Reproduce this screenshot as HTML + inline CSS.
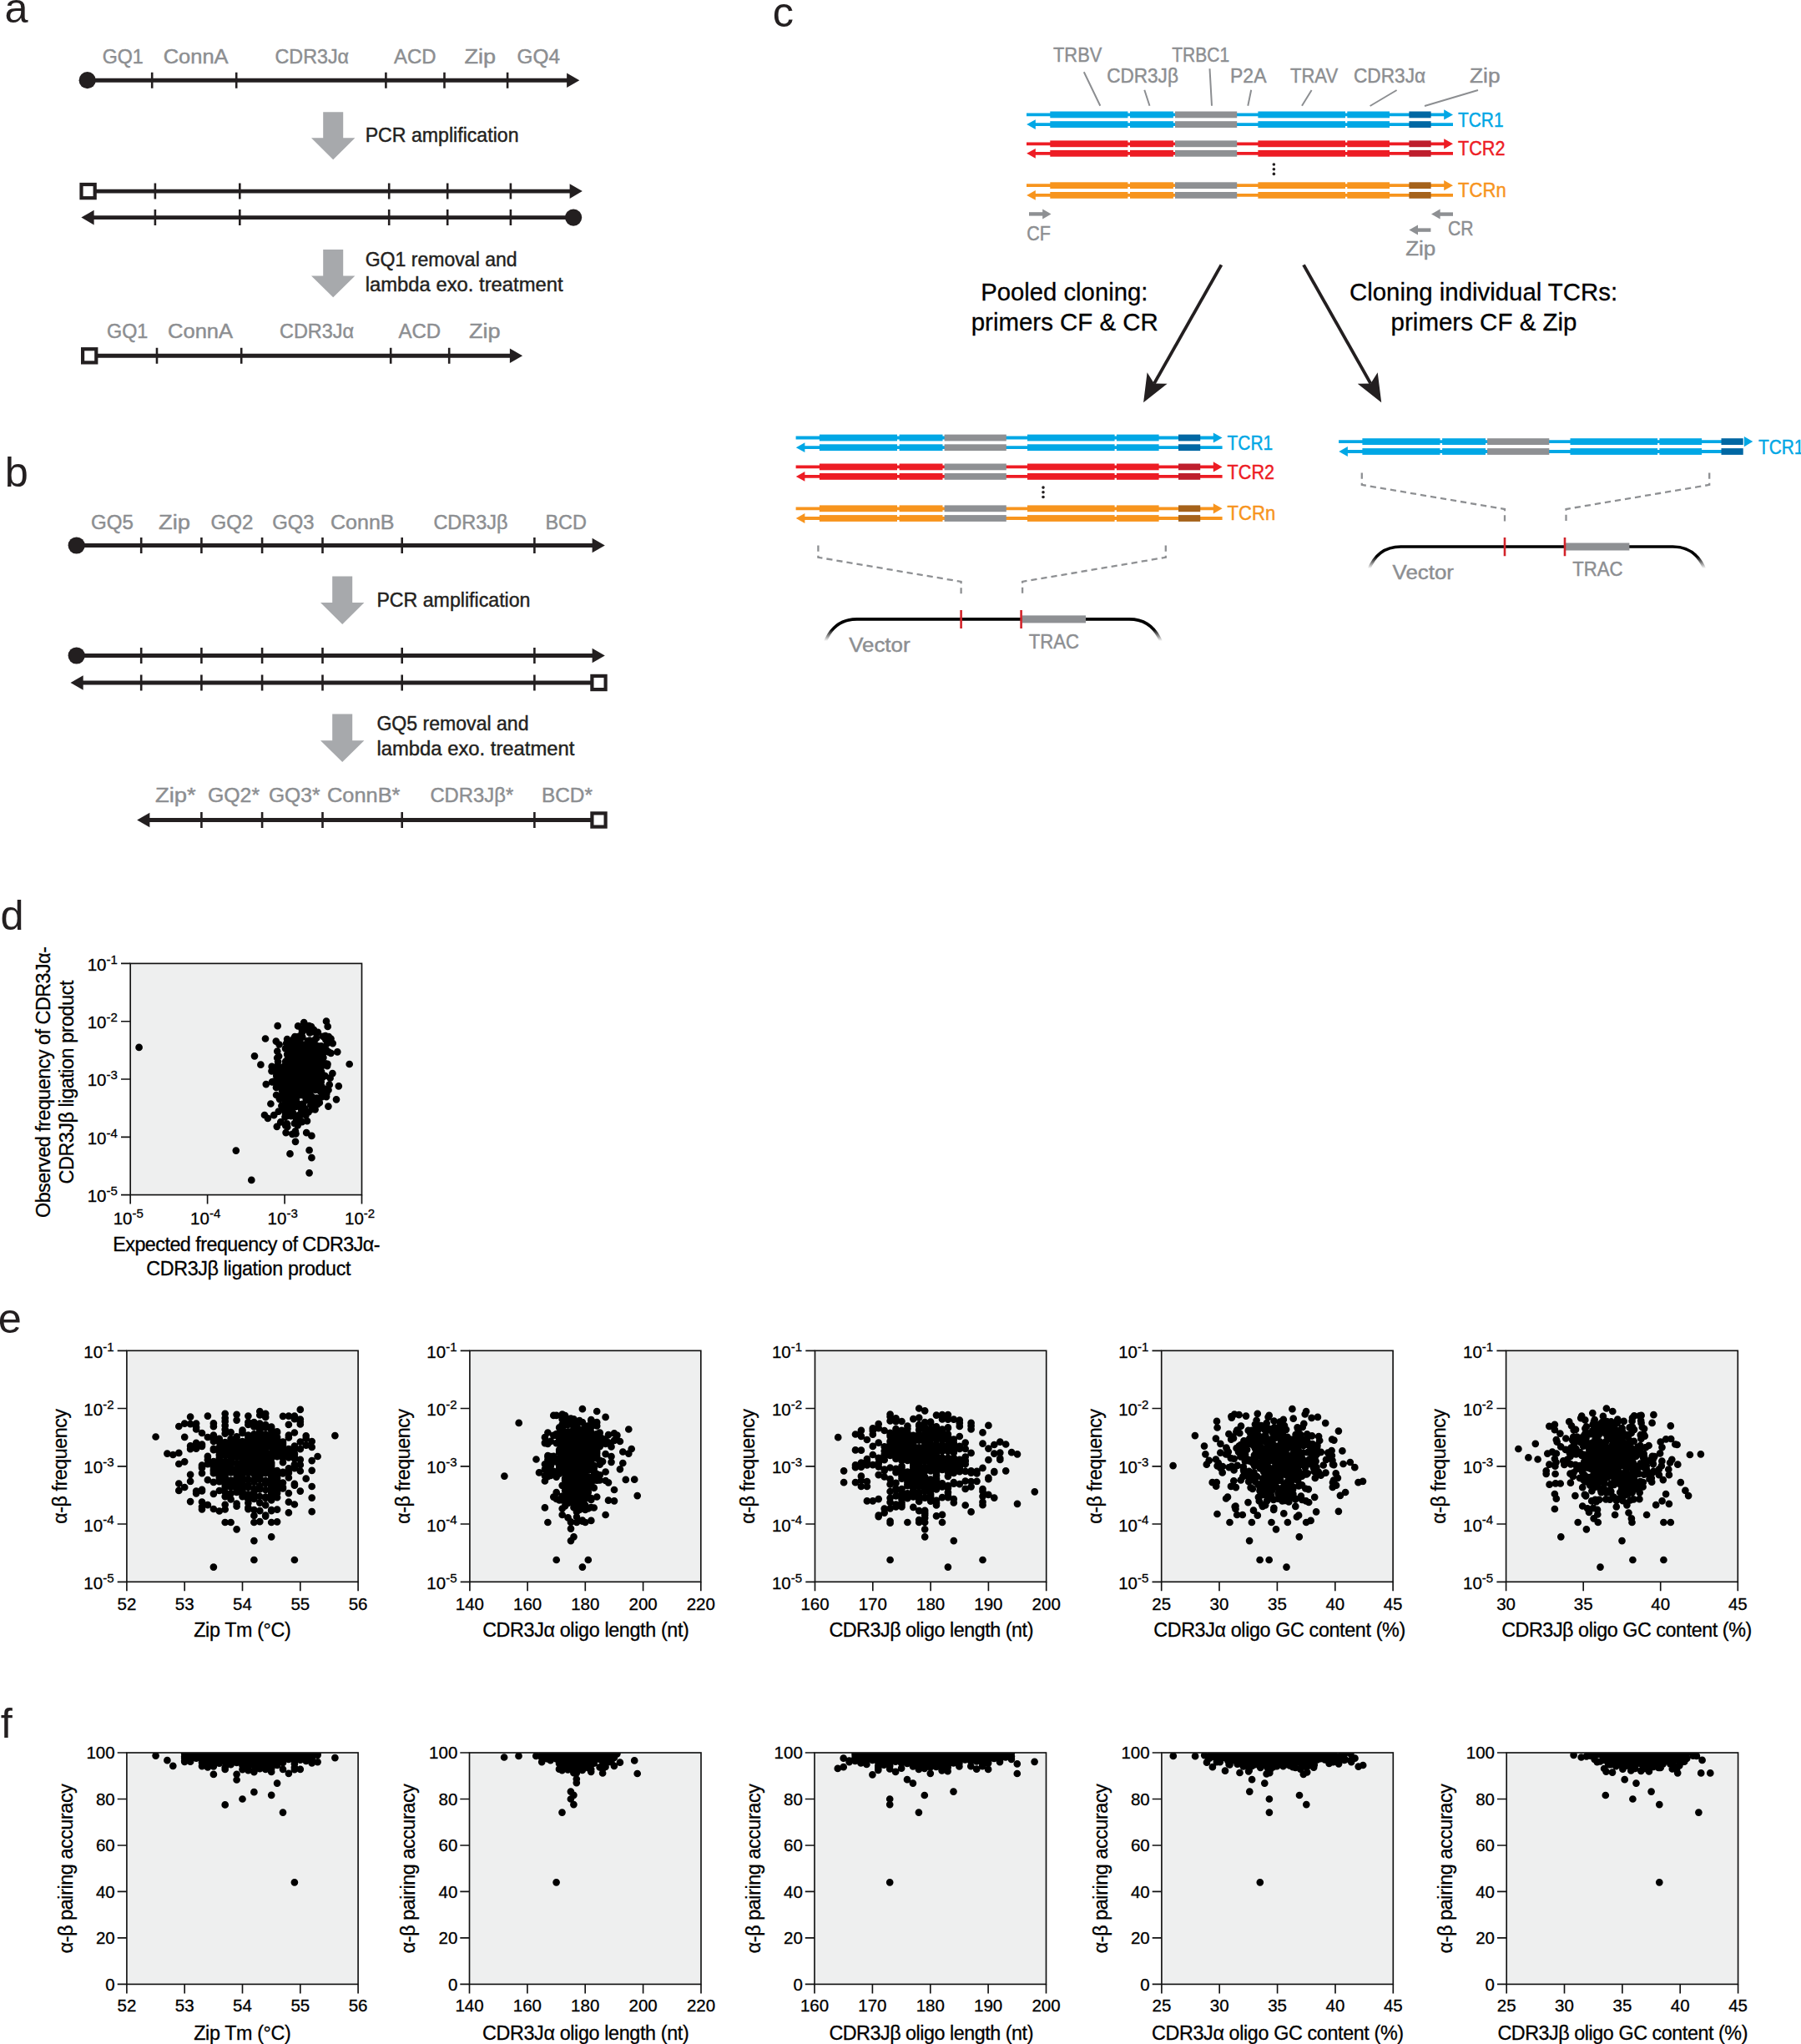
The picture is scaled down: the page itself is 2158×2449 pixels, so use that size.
<!DOCTYPE html>
<html lang="en"><head><meta charset="utf-8"><title>Figure</title>
<style>
html,body{margin:0;padding:0;background:#fff}
svg{display:block}
svg text{font-family:"Liberation Sans","DejaVu Sans",sans-serif;white-space:pre}
.pl text{stroke:#000;stroke-width:.3px}
</style></head><body>
<svg width="2158" height="2449" viewBox="0 0 2158 2449">
<rect width="2158" height="2449" fill="#fff"/>
<g id="panel-a">
<text x="5.6" y="26.5" font-size="50.5" fill="#231f20">a</text>
<text x="122.7" y="76.4" font-size="24.6" fill="#8c8e91" textLength="49.1" lengthAdjust="spacingAndGlyphs" stroke="#8c8e91" stroke-width="0.45">GQ1</text>
<text x="195.7" y="76.4" font-size="24.6" fill="#8c8e91" textLength="77.9" lengthAdjust="spacingAndGlyphs" stroke="#8c8e91" stroke-width="0.45">ConnA</text>
<text x="329.5" y="76.4" font-size="24.6" fill="#8c8e91" textLength="88.6" lengthAdjust="spacingAndGlyphs" stroke="#8c8e91" stroke-width="0.45">CDR3Jα</text>
<text x="472.0" y="76.4" font-size="24.6" fill="#8c8e91" textLength="50.5" lengthAdjust="spacingAndGlyphs" stroke="#8c8e91" stroke-width="0.45">ACD</text>
<text x="556.4" y="76.4" font-size="24.6" fill="#8c8e91" textLength="37.6" lengthAdjust="spacingAndGlyphs" stroke="#8c8e91" stroke-width="0.45">Zip</text>
<text x="619.6" y="76.4" font-size="24.6" fill="#8c8e91" textLength="51.3" lengthAdjust="spacingAndGlyphs" stroke="#8c8e91" stroke-width="0.45">GQ4</text>
<line x1="104.7" y1="96.2" x2="682.3" y2="96.2" stroke="#231f20" stroke-width="4.9"/>
<circle cx="104.7" cy="96.2" r="10.1" fill="#231f20"/>
<path d="M694.3 96.2L679.1 87.4L679.1 105.0Z" fill="#231f20"/>
<path d="M182.2 86.7v19M283.2 86.7v19M462.4 86.7v19M532.5 86.7v19M608.1 86.7v19" stroke="#231f20" stroke-width="2.6" fill="none"/>
<path d="M387.2 134.2h24v31.0h14.2L399.2 191.2L373.0 165.2h14.2Z" fill="#a7a9ac"/>
<text x="437.7" y="170.1" font-size="24.6" fill="#231f20" textLength="183.8" lengthAdjust="spacingAndGlyphs" stroke="#231f20" stroke-width="0.45">PCR amplification</text>
<line x1="113.6" y1="229.1" x2="685.8" y2="229.1" stroke="#231f20" stroke-width="4.9"/>
<rect x="97.5" y="221.0" width="16.2" height="16.2" fill="#fff" stroke="#231f20" stroke-width="4.2"/>
<path d="M697.8 229.1L682.6 220.3L682.6 237.9Z" fill="#231f20"/>
<path d="M185.9 219.6v19M287.3 219.6v19M466.2 219.6v19M536.2 219.6v19M611.9 219.6v19" stroke="#231f20" stroke-width="2.6" fill="none"/>
<line x1="109.4" y1="260.6" x2="687.1" y2="260.6" stroke="#231f20" stroke-width="4.9"/>
<path d="M97.4 260.6L112.6 251.8L112.6 269.4Z" fill="#231f20"/>
<circle cx="687.1" cy="260.6" r="10.1" fill="#231f20"/>
<path d="M185.9 251.1v19M287.3 251.1v19M466.2 251.1v19M536.2 251.1v19M611.9 251.1v19" stroke="#231f20" stroke-width="2.6" fill="none"/>
<path d="M387.2 299.0h24v31.5h14.2L399.2 356.2L373.0 330.5h14.2Z" fill="#a7a9ac"/>
<text x="437.7" y="318.9" font-size="24.6" fill="#231f20" textLength="182.0" lengthAdjust="spacingAndGlyphs" stroke="#231f20" stroke-width="0.45">GQ1 removal and</text>
<text x="437.7" y="348.9" font-size="24.6" fill="#231f20" textLength="237.0" lengthAdjust="spacingAndGlyphs" stroke="#231f20" stroke-width="0.45">lambda exo. treatment</text>
<text x="128.0" y="405.1" font-size="24.6" fill="#8c8e91" textLength="49.3" lengthAdjust="spacingAndGlyphs" stroke="#8c8e91" stroke-width="0.45">GQ1</text>
<text x="201.0" y="405.1" font-size="24.6" fill="#8c8e91" textLength="78.1" lengthAdjust="spacingAndGlyphs" stroke="#8c8e91" stroke-width="0.45">ConnA</text>
<text x="335.0" y="405.1" font-size="24.6" fill="#8c8e91" textLength="89.1" lengthAdjust="spacingAndGlyphs" stroke="#8c8e91" stroke-width="0.45">CDR3Jα</text>
<text x="477.4" y="405.1" font-size="24.6" fill="#8c8e91" textLength="50.7" lengthAdjust="spacingAndGlyphs" stroke="#8c8e91" stroke-width="0.45">ACD</text>
<text x="562.0" y="405.1" font-size="24.6" fill="#8c8e91" textLength="37.7" lengthAdjust="spacingAndGlyphs" stroke="#8c8e91" stroke-width="0.45">Zip</text>
<line x1="115.2" y1="426.3" x2="614.1" y2="426.3" stroke="#231f20" stroke-width="4.9"/>
<rect x="99.1" y="418.2" width="16.2" height="16.2" fill="#fff" stroke="#231f20" stroke-width="4.2"/>
<path d="M626.1 426.3L610.9 417.5L610.9 435.1Z" fill="#231f20"/>
<path d="M188.0 416.8v19M289.2 416.8v19M468.2 416.8v19M538.2 416.8v19" stroke="#231f20" stroke-width="2.6" fill="none"/>
</g>
<g id="panel-b">
<text x="5.7" y="583.2" font-size="50.5" fill="#231f20">b</text>
<text x="109.0" y="633.9" font-size="24.6" fill="#8c8e91" textLength="50.8" lengthAdjust="spacingAndGlyphs" stroke="#8c8e91" stroke-width="0.45">GQ5</text>
<text x="190.1" y="633.9" font-size="24.6" fill="#8c8e91" textLength="38.0" lengthAdjust="spacingAndGlyphs" stroke="#8c8e91" stroke-width="0.45">Zip</text>
<text x="252.6" y="633.9" font-size="24.6" fill="#8c8e91" textLength="50.8" lengthAdjust="spacingAndGlyphs" stroke="#8c8e91" stroke-width="0.45">GQ2</text>
<text x="326.3" y="633.9" font-size="24.6" fill="#8c8e91" textLength="50.3" lengthAdjust="spacingAndGlyphs" stroke="#8c8e91" stroke-width="0.45">GQ3</text>
<text x="396.0" y="633.9" font-size="24.6" fill="#8c8e91" textLength="76.5" lengthAdjust="spacingAndGlyphs" stroke="#8c8e91" stroke-width="0.45">ConnB</text>
<text x="519.4" y="633.9" font-size="24.6" fill="#8c8e91" textLength="89.1" lengthAdjust="spacingAndGlyphs" stroke="#8c8e91" stroke-width="0.45">CDR3Jβ</text>
<text x="653.4" y="633.9" font-size="24.6" fill="#8c8e91" textLength="49.5" lengthAdjust="spacingAndGlyphs" stroke="#8c8e91" stroke-width="0.45">BCD</text>
<line x1="91.7" y1="653.5" x2="712.8" y2="653.5" stroke="#231f20" stroke-width="4.9"/>
<circle cx="91.7" cy="653.5" r="10.1" fill="#231f20"/>
<path d="M724.8 653.5L709.6 644.7L709.6 662.3Z" fill="#231f20"/>
<path d="M169.2 644.0v19M241.4 644.0v19M314.1 644.0v19M386.5 644.0v19M481.7 644.0v19M640.4 644.0v19" stroke="#231f20" stroke-width="2.6" fill="none"/>
<path d="M398.2 690.4h24v31.5h14.2L410.2 747.9L384.0 721.9h14.2Z" fill="#a7a9ac"/>
<text x="451.4" y="726.8" font-size="24.6" fill="#231f20" textLength="184.1" lengthAdjust="spacingAndGlyphs" stroke="#231f20" stroke-width="0.45">PCR amplification</text>
<line x1="91.7" y1="785.5" x2="712.8" y2="785.5" stroke="#231f20" stroke-width="4.9"/>
<circle cx="91.7" cy="785.5" r="10.1" fill="#231f20"/>
<path d="M724.8 785.5L709.6 776.7L709.6 794.3Z" fill="#231f20"/>
<path d="M169.2 776.0v19M241.4 776.0v19M314.1 776.0v19M386.5 776.0v19M481.7 776.0v19M640.4 776.0v19" stroke="#231f20" stroke-width="2.6" fill="none"/>
<line x1="96.5" y1="818.0" x2="709.5" y2="818.0" stroke="#231f20" stroke-width="4.9"/>
<path d="M84.5 818.0L99.7 809.2L99.7 826.8Z" fill="#231f20"/>
<rect x="709.4" y="809.9" width="16.2" height="16.2" fill="#fff" stroke="#231f20" stroke-width="4.2"/>
<path d="M169.2 808.5v19M241.4 808.5v19M314.1 808.5v19M386.5 808.5v19M481.7 808.5v19M640.4 808.5v19" stroke="#231f20" stroke-width="2.6" fill="none"/>
<path d="M398.2 855.5h24v31.7h14.2L410.2 913.0L384.0 887.2h14.2Z" fill="#a7a9ac"/>
<text x="451.4" y="875.1" font-size="24.6" fill="#231f20" textLength="182.1" lengthAdjust="spacingAndGlyphs" stroke="#231f20" stroke-width="0.45">GQ5 removal and</text>
<text x="451.4" y="904.8" font-size="24.6" fill="#231f20" textLength="237.0" lengthAdjust="spacingAndGlyphs" stroke="#231f20" stroke-width="0.45">lambda exo. treatment</text>
<text x="186.0" y="961.4" font-size="24.6" fill="#8c8e91" textLength="48.8" lengthAdjust="spacingAndGlyphs" stroke="#8c8e91" stroke-width="0.45">Zip*</text>
<text x="249.0" y="961.4" font-size="24.6" fill="#8c8e91" textLength="62.1" lengthAdjust="spacingAndGlyphs" stroke="#8c8e91" stroke-width="0.45">GQ2*</text>
<text x="322.0" y="961.4" font-size="24.6" fill="#8c8e91" textLength="61.5" lengthAdjust="spacingAndGlyphs" stroke="#8c8e91" stroke-width="0.45">GQ3*</text>
<text x="392.0" y="961.4" font-size="24.6" fill="#8c8e91" textLength="87.5" lengthAdjust="spacingAndGlyphs" stroke="#8c8e91" stroke-width="0.45">ConnB*</text>
<text x="515.4" y="961.4" font-size="24.6" fill="#8c8e91" textLength="99.8" lengthAdjust="spacingAndGlyphs" stroke="#8c8e91" stroke-width="0.45">CDR3Jβ*</text>
<text x="648.9" y="961.4" font-size="24.6" fill="#8c8e91" textLength="61.0" lengthAdjust="spacingAndGlyphs" stroke="#8c8e91" stroke-width="0.45">BCD*</text>
<line x1="176.2" y1="982.5" x2="709.5" y2="982.5" stroke="#231f20" stroke-width="4.9"/>
<path d="M164.2 982.5L179.4 973.7L179.4 991.3Z" fill="#231f20"/>
<rect x="709.4" y="974.4" width="16.2" height="16.2" fill="#fff" stroke="#231f20" stroke-width="4.2"/>
<path d="M241.4 973.0v19M314.1 973.0v19M386.5 973.0v19M481.7 973.0v19M640.4 973.0v19" stroke="#231f20" stroke-width="2.6" fill="none"/>
</g>
<g id="panel-c">
<text x="925.8" y="32.4" font-size="50.5" fill="#231f20">c</text>
<text x="1262.0" y="74.1" font-size="24.6" fill="#8c8e91" textLength="58.3" lengthAdjust="spacingAndGlyphs" stroke="#8c8e91" stroke-width="0.45">TRBV</text>
<text x="1404.3" y="74.1" font-size="24.6" fill="#8c8e91" textLength="68.8" lengthAdjust="spacingAndGlyphs" stroke="#8c8e91" stroke-width="0.45">TRBC1</text>
<text x="1326.2" y="99.4" font-size="24.6" fill="#8c8e91" textLength="85.7" lengthAdjust="spacingAndGlyphs" stroke="#8c8e91" stroke-width="0.45">CDR3Jβ</text>
<text x="1474.0" y="99.4" font-size="24.6" fill="#8c8e91" textLength="43.5" lengthAdjust="spacingAndGlyphs" stroke="#8c8e91" stroke-width="0.45">P2A</text>
<text x="1546.0" y="99.4" font-size="24.6" fill="#8c8e91" textLength="57.1" lengthAdjust="spacingAndGlyphs" stroke="#8c8e91" stroke-width="0.45">TRAV</text>
<text x="1622.0" y="99.4" font-size="24.6" fill="#8c8e91" textLength="86.1" lengthAdjust="spacingAndGlyphs" stroke="#8c8e91" stroke-width="0.45">CDR3Jα</text>
<text x="1761.0" y="99.4" font-size="24.6" fill="#8c8e91" textLength="36.5" lengthAdjust="spacingAndGlyphs" stroke="#8c8e91" stroke-width="0.45">Zip</text>
<path d="M1298.8 86.2L1318.3 126.7M1371.3 107.8L1377.5 126.7M1449.5 82.3L1452.0 126.7M1499.2 107.8L1495.3 126.7M1571.6 108.0L1560.0 126.7M1673.6 108.0L1641.6 127.0M1771.0 108.0L1707.0 127.0" stroke="#8c8e91" stroke-width="2" fill="none"/>
<path d="M1230.0 137.4H1731.0M1240.0 149.1H1741.0" stroke="#00a7e5" stroke-width="3.8" fill="none"/>
<path d="M1741.0 137.4l-10.8 -6.1v12.2Z" fill="#00a7e5"/>
<path d="M1230.2 149.1l10.6 -5.9v11.8Z" fill="#00a7e5"/>
<rect x="1258.3" y="133.5" width="93.1" height="7.8" fill="#00a7e5"/>
<rect x="1258.3" y="145.2" width="93.1" height="7.8" fill="#00a7e5"/>
<rect x="1354.0" y="133.5" width="51.9" height="7.8" fill="#00a7e5"/>
<rect x="1354.0" y="145.2" width="51.9" height="7.8" fill="#00a7e5"/>
<rect x="1408.0" y="133.5" width="74.2" height="7.8" fill="#8e9093"/>
<rect x="1408.0" y="145.2" width="74.2" height="7.8" fill="#8e9093"/>
<rect x="1507.4" y="133.5" width="104.6" height="7.8" fill="#00a7e5"/>
<rect x="1507.4" y="145.2" width="104.6" height="7.8" fill="#00a7e5"/>
<rect x="1614.3" y="133.5" width="50.7" height="7.8" fill="#00a7e5"/>
<rect x="1614.3" y="145.2" width="50.7" height="7.8" fill="#00a7e5"/>
<rect x="1688.4" y="133.5" width="26.2" height="7.8" fill="#0067a3"/>
<rect x="1688.4" y="145.2" width="26.2" height="7.8" fill="#0067a3"/>
<text x="1747.0" y="151.6" font-size="24.6" fill="#00a7e5" textLength="54.5" lengthAdjust="spacingAndGlyphs" stroke="#00a7e5" stroke-width="0.45">TCR1</text>
<path d="M1230.0 172.3H1731.0M1240.0 183.8H1741.0" stroke="#ed1c24" stroke-width="3.8" fill="none"/>
<path d="M1741.0 172.3l-10.8 -6.1v12.2Z" fill="#ed1c24"/>
<path d="M1230.2 183.8l10.6 -5.9v11.8Z" fill="#ed1c24"/>
<rect x="1258.3" y="168.4" width="93.1" height="7.8" fill="#ed1c24"/>
<rect x="1258.3" y="179.9" width="93.1" height="7.8" fill="#ed1c24"/>
<rect x="1354.0" y="168.4" width="51.9" height="7.8" fill="#ed1c24"/>
<rect x="1354.0" y="179.9" width="51.9" height="7.8" fill="#ed1c24"/>
<rect x="1408.0" y="168.4" width="74.2" height="7.8" fill="#8e9093"/>
<rect x="1408.0" y="179.9" width="74.2" height="7.8" fill="#8e9093"/>
<rect x="1507.4" y="168.4" width="104.6" height="7.8" fill="#ed1c24"/>
<rect x="1507.4" y="179.9" width="104.6" height="7.8" fill="#ed1c24"/>
<rect x="1614.3" y="168.4" width="50.7" height="7.8" fill="#ed1c24"/>
<rect x="1614.3" y="179.9" width="50.7" height="7.8" fill="#ed1c24"/>
<rect x="1688.4" y="168.4" width="26.2" height="7.8" fill="#be1e2d"/>
<rect x="1688.4" y="179.9" width="26.2" height="7.8" fill="#be1e2d"/>
<text x="1747.0" y="186.4" font-size="24.6" fill="#ed1c24" textLength="56.5" lengthAdjust="spacingAndGlyphs" stroke="#ed1c24" stroke-width="0.45">TCR2</text>
<path d="M1230.0 222.2H1731.0M1240.0 233.9H1741.0" stroke="#f7941d" stroke-width="3.8" fill="none"/>
<path d="M1741.0 222.2l-10.8 -6.1v12.2Z" fill="#f7941d"/>
<path d="M1230.2 233.9l10.6 -5.9v11.8Z" fill="#f7941d"/>
<rect x="1258.3" y="218.3" width="93.1" height="7.8" fill="#f7941d"/>
<rect x="1258.3" y="230.0" width="93.1" height="7.8" fill="#f7941d"/>
<rect x="1354.0" y="218.3" width="51.9" height="7.8" fill="#f7941d"/>
<rect x="1354.0" y="230.0" width="51.9" height="7.8" fill="#f7941d"/>
<rect x="1408.0" y="218.3" width="74.2" height="7.8" fill="#8e9093"/>
<rect x="1408.0" y="230.0" width="74.2" height="7.8" fill="#8e9093"/>
<rect x="1507.4" y="218.3" width="104.6" height="7.8" fill="#f7941d"/>
<rect x="1507.4" y="230.0" width="104.6" height="7.8" fill="#f7941d"/>
<rect x="1614.3" y="218.3" width="50.7" height="7.8" fill="#f7941d"/>
<rect x="1614.3" y="230.0" width="50.7" height="7.8" fill="#f7941d"/>
<rect x="1688.4" y="218.3" width="26.2" height="7.8" fill="#a5621a"/>
<rect x="1688.4" y="230.0" width="26.2" height="7.8" fill="#a5621a"/>
<text x="1747.0" y="236.0" font-size="24.6" fill="#f7941d" textLength="57.7" lengthAdjust="spacingAndGlyphs" stroke="#f7941d" stroke-width="0.45">TCRn</text>
<circle cx="1526.4" cy="197.0" r="1.8" fill="#231f20"/>
<circle cx="1526.4" cy="202.7" r="1.8" fill="#231f20"/>
<circle cx="1526.4" cy="208.4" r="1.8" fill="#231f20"/>
<path d="M1233.0 256.4H1250.2" stroke="#8e9093" stroke-width="4.4" fill="none"/>
<path d="M1259.5 256.4L1249.2 250.4L1249.2 262.4Z" fill="#8e9093"/>
<path d="M1741.0 256.6H1724.6" stroke="#8e9093" stroke-width="4.4" fill="none"/>
<path d="M1715.0 256.6L1725.6 250.6L1725.6 262.6Z" fill="#8e9093"/>
<path d="M1714.4 275.6H1698.0" stroke="#8e9093" stroke-width="4.4" fill="none"/>
<path d="M1688.4 275.6L1699.0 269.6L1699.0 281.6Z" fill="#8e9093"/>
<text x="1230.2" y="288.1" font-size="24.6" fill="#8c8e91" textLength="28.7" lengthAdjust="spacingAndGlyphs" stroke="#8c8e91" stroke-width="0.45">CF</text>
<text x="1735.0" y="281.8" font-size="24.6" fill="#8c8e91" textLength="30.5" lengthAdjust="spacingAndGlyphs" stroke="#8c8e91" stroke-width="0.45">CR</text>
<text x="1684.2" y="306.3" font-size="24.6" fill="#8c8e91" textLength="36.1" lengthAdjust="spacingAndGlyphs" stroke="#8c8e91" stroke-width="0.45">Zip</text>
<path d="M1463.4 317.4L1382.9 459.6" stroke="#231f20" stroke-width="3.9" fill="none"/>
<path d="M1370.1 482.2L1374.6 446.2L1382.9 459.6L1398.6 459.8Z" fill="#231f20"/>
<path d="M1562.0 317.4L1642.4 459.6" stroke="#231f20" stroke-width="3.9" fill="none"/>
<path d="M1655.2 482.2L1626.7 459.8L1642.4 459.6L1650.7 446.2Z" fill="#231f20"/>
<text x="1175.2" y="360.0" font-size="29.2" fill="#000" textLength="200.2" lengthAdjust="spacingAndGlyphs" stroke="#000" stroke-width="0.30">Pooled cloning:</text>
<text x="1163.7" y="395.8" font-size="29.2" fill="#000" textLength="224.2" lengthAdjust="spacingAndGlyphs" stroke="#000" stroke-width="0.30">primers CF &amp; CR</text>
<text x="1617.0" y="360.0" font-size="29.2" fill="#000" textLength="321.1" lengthAdjust="spacingAndGlyphs" stroke="#000" stroke-width="0.30">Cloning individual TCRs:</text>
<text x="1666.6" y="395.8" font-size="29.2" fill="#000" textLength="222.9" lengthAdjust="spacingAndGlyphs" stroke="#000" stroke-width="0.30">primers CF &amp; Zip</text>
<path d="M953.6 524.5H1454.6M963.6 536.2H1464.6" stroke="#00a7e5" stroke-width="3.8" fill="none"/>
<path d="M1464.6 524.5l-10.8 -6.1v12.2Z" fill="#00a7e5"/>
<path d="M953.8 536.2l10.6 -5.9v11.8Z" fill="#00a7e5"/>
<rect x="981.9" y="520.6" width="93.1" height="7.8" fill="#00a7e5"/>
<rect x="981.9" y="532.3" width="93.1" height="7.8" fill="#00a7e5"/>
<rect x="1077.6" y="520.6" width="51.9" height="7.8" fill="#00a7e5"/>
<rect x="1077.6" y="532.3" width="51.9" height="7.8" fill="#00a7e5"/>
<rect x="1131.6" y="520.6" width="74.2" height="7.8" fill="#8e9093"/>
<rect x="1131.6" y="532.3" width="74.2" height="7.8" fill="#8e9093"/>
<rect x="1231.0" y="520.6" width="104.6" height="7.8" fill="#00a7e5"/>
<rect x="1231.0" y="532.3" width="104.6" height="7.8" fill="#00a7e5"/>
<rect x="1337.9" y="520.6" width="50.7" height="7.8" fill="#00a7e5"/>
<rect x="1337.9" y="532.3" width="50.7" height="7.8" fill="#00a7e5"/>
<rect x="1412.0" y="520.6" width="26.2" height="7.8" fill="#0067a3"/>
<rect x="1412.0" y="532.3" width="26.2" height="7.8" fill="#0067a3"/>
<text x="1470.6" y="538.7" font-size="24.6" fill="#00a7e5" textLength="54.5" lengthAdjust="spacingAndGlyphs" stroke="#00a7e5" stroke-width="0.45">TCR1</text>
<path d="M953.6 559.4H1454.6M963.6 570.9H1464.6" stroke="#ed1c24" stroke-width="3.8" fill="none"/>
<path d="M1464.6 559.4l-10.8 -6.1v12.2Z" fill="#ed1c24"/>
<path d="M953.8 570.9l10.6 -5.9v11.8Z" fill="#ed1c24"/>
<rect x="981.9" y="555.5" width="93.1" height="7.8" fill="#ed1c24"/>
<rect x="981.9" y="567.0" width="93.1" height="7.8" fill="#ed1c24"/>
<rect x="1077.6" y="555.5" width="51.9" height="7.8" fill="#ed1c24"/>
<rect x="1077.6" y="567.0" width="51.9" height="7.8" fill="#ed1c24"/>
<rect x="1131.6" y="555.5" width="74.2" height="7.8" fill="#8e9093"/>
<rect x="1131.6" y="567.0" width="74.2" height="7.8" fill="#8e9093"/>
<rect x="1231.0" y="555.5" width="104.6" height="7.8" fill="#ed1c24"/>
<rect x="1231.0" y="567.0" width="104.6" height="7.8" fill="#ed1c24"/>
<rect x="1337.9" y="555.5" width="50.7" height="7.8" fill="#ed1c24"/>
<rect x="1337.9" y="567.0" width="50.7" height="7.8" fill="#ed1c24"/>
<rect x="1412.0" y="555.5" width="26.2" height="7.8" fill="#be1e2d"/>
<rect x="1412.0" y="567.0" width="26.2" height="7.8" fill="#be1e2d"/>
<text x="1470.6" y="573.5" font-size="24.6" fill="#ed1c24" textLength="56.5" lengthAdjust="spacingAndGlyphs" stroke="#ed1c24" stroke-width="0.45">TCR2</text>
<path d="M953.6 609.3H1454.6M963.6 621.0H1464.6" stroke="#f7941d" stroke-width="3.8" fill="none"/>
<path d="M1464.6 609.3l-10.8 -6.1v12.2Z" fill="#f7941d"/>
<path d="M953.8 621.0l10.6 -5.9v11.8Z" fill="#f7941d"/>
<rect x="981.9" y="605.4" width="93.1" height="7.8" fill="#f7941d"/>
<rect x="981.9" y="617.1" width="93.1" height="7.8" fill="#f7941d"/>
<rect x="1077.6" y="605.4" width="51.9" height="7.8" fill="#f7941d"/>
<rect x="1077.6" y="617.1" width="51.9" height="7.8" fill="#f7941d"/>
<rect x="1131.6" y="605.4" width="74.2" height="7.8" fill="#8e9093"/>
<rect x="1131.6" y="617.1" width="74.2" height="7.8" fill="#8e9093"/>
<rect x="1231.0" y="605.4" width="104.6" height="7.8" fill="#f7941d"/>
<rect x="1231.0" y="617.1" width="104.6" height="7.8" fill="#f7941d"/>
<rect x="1337.9" y="605.4" width="50.7" height="7.8" fill="#f7941d"/>
<rect x="1337.9" y="617.1" width="50.7" height="7.8" fill="#f7941d"/>
<rect x="1412.0" y="605.4" width="26.2" height="7.8" fill="#a5621a"/>
<rect x="1412.0" y="617.1" width="26.2" height="7.8" fill="#a5621a"/>
<text x="1470.6" y="623.1" font-size="24.6" fill="#f7941d" textLength="57.7" lengthAdjust="spacingAndGlyphs" stroke="#f7941d" stroke-width="0.45">TCRn</text>
<circle cx="1250.0" cy="584.1" r="1.8" fill="#231f20"/>
<circle cx="1250.0" cy="589.8" r="1.8" fill="#231f20"/>
<circle cx="1250.0" cy="595.5" r="1.8" fill="#231f20"/>
<path d="M1604.1 529.1H2088.1M1614.1 541.0H2088.1" stroke="#00a7e5" stroke-width="3.8" fill="none"/>
<path d="M2100.3 529.1l-10.4 -6.1v12.2Z" fill="#00a7e5"/>
<path d="M1604.3 541.0l10.6 -5.9v11.8Z" fill="#00a7e5"/>
<rect x="1632.4" y="525.2" width="93.1" height="7.8" fill="#00a7e5"/>
<rect x="1632.4" y="537.1" width="93.1" height="7.8" fill="#00a7e5"/>
<rect x="1728.1" y="525.2" width="51.9" height="7.8" fill="#00a7e5"/>
<rect x="1728.1" y="537.1" width="51.9" height="7.8" fill="#00a7e5"/>
<rect x="1782.1" y="525.2" width="74.2" height="7.8" fill="#8e9093"/>
<rect x="1782.1" y="537.1" width="74.2" height="7.8" fill="#8e9093"/>
<rect x="1881.5" y="525.2" width="104.6" height="7.8" fill="#00a7e5"/>
<rect x="1881.5" y="537.1" width="104.6" height="7.8" fill="#00a7e5"/>
<rect x="1988.4" y="525.2" width="50.7" height="7.8" fill="#00a7e5"/>
<rect x="1988.4" y="537.1" width="50.7" height="7.8" fill="#00a7e5"/>
<rect x="2062.5" y="525.2" width="26.2" height="7.8" fill="#0067a3"/>
<rect x="2062.5" y="537.1" width="26.2" height="7.8" fill="#0067a3"/>
<text x="2106.9" y="543.7" font-size="24.6" fill="#00a7e5" textLength="54.5" lengthAdjust="spacingAndGlyphs" stroke="#00a7e5" stroke-width="0.45">TCR1</text>
<defs><linearGradient id="fade" gradientUnits="userSpaceOnUse" x1="0" y1="754" x2="0" y2="768"><stop offset="0" stop-color="#000"/><stop offset="1" stop-color="#000" stop-opacity="0"/></linearGradient>
<linearGradient id="fade2" gradientUnits="userSpaceOnUse" x1="0" y1="667" x2="0" y2="681"><stop offset="0" stop-color="#000"/><stop offset="1" stop-color="#000" stop-opacity="0"/></linearGradient></defs>
<g transform="translate(0.0 0.0)">
<path d="M980.4 653.5V667.8L1151.6 696.9V714M1396.8 653.5V667.8L1225.1 696.9V714" stroke="#8e9093" stroke-width="2.3" stroke-dasharray="7.2 5" fill="none"/>
</g>
<path d="M988.0 771.0C995.0 752.0 1008.0 741.9 1027.0 741.9H1353.0C1372.0 741.9 1385.0 752.0 1392.0 771.0" stroke="url(#fade)" stroke-width="3.7" fill="none"/>
<rect x="1224.5" y="737.4" width="76.5" height="9" fill="#8e9093"/>
<path d="M1151.6 730.9v22.2M1223.6 730.9v22.2" stroke="#d2232a" stroke-width="2.6" fill="none"/>
<text x="1017.2" y="781.2" font-size="24.6" fill="#8c8e91" textLength="73.4" lengthAdjust="spacingAndGlyphs" stroke="#8c8e91" stroke-width="0.45">Vector</text>
<text x="1232.8" y="776.9" font-size="24.6" fill="#8c8e91" textLength="60.3" lengthAdjust="spacingAndGlyphs" stroke="#8c8e91" stroke-width="0.45">TRAC</text>
<g transform="translate(651.4 -86.9)">
<path d="M980.4 653.5V667.8L1151.6 696.9V714M1396.8 653.5V667.8L1225.1 696.9V714" stroke="#8e9093" stroke-width="2.3" stroke-dasharray="7.2 5" fill="none"/>
</g>
<path d="M1639.4 684.1C1646.4 665.1 1659.4 655.0 1678.4 655.0H2004.4C2023.4 655.0 2036.4 665.1 2043.4 684.1" stroke="url(#fade2)" stroke-width="3.7" fill="none"/>
<rect x="1875.9" y="650.5" width="76.5" height="9" fill="#8e9093"/>
<path d="M1803.0 644.0v22.2M1875.0 644.0v22.2" stroke="#d2232a" stroke-width="2.6" fill="none"/>
<text x="1668.6" y="694.3" font-size="24.6" fill="#8c8e91" textLength="73.4" lengthAdjust="spacingAndGlyphs" stroke="#8c8e91" stroke-width="0.45">Vector</text>
<text x="1884.2" y="690.0" font-size="24.6" fill="#8c8e91" textLength="60.3" lengthAdjust="spacingAndGlyphs" stroke="#8c8e91" stroke-width="0.45">TRAC</text>
</g>
<g id="panel-d">
<text x="0.4" y="1113.9" font-size="50.5" fill="#231f20">d</text>
<g id="plot1" class="pl">
<rect x="156.2" y="1154.4" width="277.3" height="277.2" fill="#eeefef"/>
<path d="M386.4 1272.4h0M370.6 1302.1h0M354.8 1304.6h0M355.5 1294.2h0M359.3 1295.3h0M365.4 1270.9h0M349.2 1303.0h0M364.2 1262.5h0M381.2 1291.2h0M331.1 1312.0h0M363.6 1285.7h0M350.0 1273.1h0M354.5 1326.0h0M370.1 1293.3h0M360.9 1277.0h0M369.5 1291.8h0M335.1 1300.0h0M372.5 1300.0h0M348.0 1303.7h0M369.2 1282.6h0M364.0 1278.2h0M325.7 1277.9h0M343.0 1318.4h0M364.8 1276.9h0M392.7 1229.9h0M359.2 1309.8h0M367.6 1265.4h0M345.0 1262.8h0M384.3 1263.2h0M382.9 1296.7h0M359.3 1291.4h0M352.2 1309.5h0M337.7 1284.7h0M369.7 1298.3h0M394.7 1299.7h0M361.2 1329.5h0M378.2 1282.3h0M372.1 1262.6h0M345.7 1289.0h0M387.3 1241.8h0M342.5 1287.4h0M357.6 1282.8h0M359.5 1307.6h0M371.2 1290.9h0M370.2 1263.5h0M369.9 1263.2h0M355.9 1253.6h0M346.2 1265.3h0M363.8 1271.2h0M341.2 1330.6h0M338.5 1302.3h0M340.5 1295.4h0M356.8 1267.5h0M334.5 1285.0h0M345.1 1266.9h0M338.1 1281.8h0M358.4 1306.1h0M362.5 1301.2h0M390.0 1275.0h0M337.5 1294.6h0M341.8 1329.7h0M375.6 1270.8h0M362.4 1258.7h0M360.4 1261.0h0M388.8 1260.4h0M348.8 1318.2h0M352.3 1243.9h0M341.5 1286.7h0M361.0 1304.2h0M362.7 1293.4h0M338.2 1299.6h0M341.1 1311.7h0M367.8 1283.7h0M369.2 1279.5h0M350.6 1288.0h0M369.8 1279.6h0M367.6 1287.3h0M332.4 1300.0h0M353.5 1296.6h0M368.6 1271.4h0M346.0 1316.1h0M328.4 1295.6h0M360.9 1261.5h0M372.0 1278.1h0M385.4 1268.5h0M330.1 1283.4h0M391.3 1310.2h0M343.0 1292.5h0M374.3 1280.7h0M375.7 1292.5h0M365.1 1328.4h0M354.9 1321.6h0M348.5 1262.9h0M367.0 1293.9h0M356.0 1256.1h0M325.5 1283.3h0M404.3 1260.3h0M375.6 1256.8h0M393.9 1242.0h0M352.8 1258.3h0M376.7 1303.9h0M390.6 1242.8h0M367.2 1357.2h0M355.8 1305.2h0M348.7 1258.9h0M348.2 1332.5h0M330.9 1278.7h0M337.8 1278.9h0M354.9 1317.6h0M342.6 1304.1h0M352.5 1311.6h0M361.7 1269.7h0M384.7 1296.3h0M374.7 1302.0h0M356.6 1299.4h0M370.9 1315.0h0M343.4 1314.6h0M356.1 1282.1h0M366.6 1316.0h0M347.7 1261.3h0M357.7 1277.8h0M348.6 1251.0h0M351.8 1334.7h0M374.0 1329.0h0M347.3 1296.9h0M371.0 1246.6h0M342.9 1309.1h0M350.9 1251.6h0M344.3 1278.6h0M381.5 1278.9h0M387.8 1310.6h0M362.7 1305.9h0M347.8 1296.9h0M364.6 1311.5h0M356.5 1280.0h0M380.9 1236.9h0M362.9 1291.4h0M366.9 1270.4h0M370.8 1273.6h0M353.6 1277.8h0M354.2 1286.6h0M343.2 1250.2h0M355.0 1280.0h0M338.7 1293.7h0M350.1 1325.2h0M352.7 1255.8h0M365.9 1263.1h0M368.5 1274.5h0M340.5 1284.9h0M357.4 1242.1h0M347.8 1281.3h0M368.4 1295.7h0M387.4 1267.2h0M371.2 1288.5h0M356.0 1281.5h0M379.5 1289.6h0M339.1 1285.3h0M374.0 1319.6h0M347.8 1301.1h0M318.8 1299.1h0M391.1 1314.1h0M381.5 1287.7h0M347.8 1275.1h0M358.6 1304.6h0M368.3 1229.5h0M361.6 1284.9h0M342.2 1271.9h0M346.2 1307.4h0M363.1 1302.4h0M362.1 1290.4h0M380.6 1266.0h0M361.3 1284.7h0M387.0 1313.6h0M358.6 1242.9h0M360.1 1303.3h0M332.1 1292.4h0M342.8 1285.0h0M381.1 1272.4h0M347.9 1280.8h0M368.1 1281.9h0M369.7 1233.2h0M347.0 1278.4h0M358.3 1270.2h0M347.0 1315.0h0M357.9 1262.2h0M363.1 1322.5h0M366.8 1296.8h0M341.5 1338.3h0M348.3 1281.2h0M359.3 1308.6h0M354.0 1308.5h0M380.7 1253.3h0M395.6 1291.7h0M372.2 1283.1h0M359.0 1288.3h0M351.6 1315.9h0M348.3 1284.6h0M353.6 1254.8h0M343.3 1299.4h0M357.6 1270.1h0M360.4 1254.2h0M365.4 1310.1h0M359.7 1259.7h0M349.0 1327.2h0M347.3 1264.9h0M382.1 1289.4h0M362.6 1307.9h0M385.1 1284.2h0M369.0 1296.0h0M373.5 1321.5h0M362.6 1255.3h0M367.1 1299.8h0M393.5 1305.9h0M333.8 1331.6h0M374.8 1293.2h0M375.0 1328.4h0M360.6 1312.0h0M376.2 1257.8h0M378.9 1279.7h0M347.0 1304.2h0M364.4 1292.8h0M345.0 1299.3h0M350.5 1285.5h0M355.3 1265.2h0M362.2 1264.8h0M357.8 1306.9h0M367.9 1278.5h0M336.5 1302.4h0M380.7 1322.8h0M372.2 1306.8h0M371.2 1281.3h0M348.5 1317.9h0M356.2 1298.4h0M370.8 1270.4h0M363.4 1297.8h0M333.5 1298.7h0M366.8 1304.1h0M393.4 1325.6h0M333.3 1287.8h0M375.2 1280.6h0M366.7 1278.6h0M354.4 1305.8h0M368.0 1343.1h0M348.1 1261.2h0M358.7 1303.8h0M380.2 1288.7h0M344.3 1350.2h0M349.8 1306.7h0M357.4 1306.7h0M347.3 1317.4h0M390.1 1245.3h0M346.2 1289.9h0M364.2 1327.1h0M343.2 1280.6h0M370.2 1282.2h0M359.3 1281.5h0M330.8 1247.6h0M360.4 1283.3h0M345.6 1281.5h0M343.3 1337.5h0M377.9 1305.9h0M344.7 1282.4h0M345.1 1284.4h0M377.0 1303.5h0M360.1 1293.5h0M383.1 1279.9h0M366.1 1278.2h0M345.5 1295.2h0M349.9 1331.6h0M379.5 1276.1h0M372.5 1290.4h0M356.3 1304.2h0M351.1 1333.6h0M353.6 1309.9h0M345.1 1319.1h0M386.5 1290.8h0M353.0 1321.4h0M346.3 1273.8h0M356.3 1270.3h0M370.2 1286.3h0M372.5 1269.1h0M351.7 1317.6h0M357.5 1250.7h0M362.7 1274.0h0M342.0 1256.3h0M335.2 1317.1h0M369.4 1295.7h0M352.5 1289.1h0M375.2 1236.2h0M378.0 1282.4h0M356.7 1348.3h0M363.6 1269.2h0M392.1 1277.1h0M366.8 1299.1h0M359.8 1261.6h0M377.0 1253.1h0M365.4 1287.6h0M344.0 1304.8h0M365.1 1265.3h0M351.6 1315.7h0M331.3 1288.9h0M354.4 1301.4h0M355.5 1288.2h0M356.8 1270.3h0M337.6 1280.2h0M342.3 1348.7h0M363.3 1266.3h0M371.1 1237.4h0M337.8 1315.6h0M374.1 1260.2h0M343.6 1280.8h0M367.8 1231.0h0M379.5 1281.0h0M358.0 1246.3h0M361.2 1243.2h0M375.5 1284.5h0M350.5 1305.8h0M349.4 1317.5h0M366.0 1271.4h0M368.5 1317.8h0M332.2 1267.5h0M347.0 1291.7h0M345.6 1285.8h0M341.2 1302.6h0M350.0 1274.7h0M352.6 1263.0h0M360.9 1302.9h0M346.8 1288.6h0M364.0 1274.5h0M363.7 1295.6h0M347.4 1296.9h0M373.0 1230.0h0M376.9 1317.6h0M365.1 1282.9h0M344.1 1319.7h0M356.1 1300.5h0M341.0 1315.7h0M361.2 1298.8h0M374.5 1274.5h0M339.7 1329.1h0M353.8 1302.0h0M371.8 1305.4h0M354.0 1280.5h0M362.1 1288.6h0M350.2 1262.4h0M344.4 1305.7h0M353.4 1282.6h0M389.5 1289.0h0M358.0 1267.5h0M351.3 1292.5h0M361.9 1237.2h0M362.3 1262.8h0M366.7 1297.8h0M362.8 1284.7h0M384.1 1307.9h0M355.7 1322.0h0M377.5 1298.3h0M362.0 1294.9h0M358.0 1337.5h0M342.4 1273.5h0M369.3 1230.4h0M351.2 1324.8h0M351.8 1309.9h0M331.7 1277.8h0M375.1 1271.3h0M357.3 1272.4h0M353.5 1287.7h0M354.9 1293.3h0M342.6 1357.1h0M376.0 1233.8h0M350.1 1246.9h0M344.9 1296.7h0M364.9 1281.2h0M361.7 1287.1h0M353.8 1290.7h0M347.8 1306.9h0M348.4 1285.8h0M363.9 1262.2h0M376.5 1285.0h0M347.8 1273.1h0M390.0 1241.1h0M373.3 1277.8h0M362.3 1242.7h0M360.8 1336.0h0M344.2 1263.3h0M344.1 1245.0h0M338.0 1306.5h0M352.2 1296.4h0M352.1 1302.8h0M352.2 1289.1h0M359.3 1296.0h0M333.1 1272.0h0M367.0 1284.8h0M337.7 1298.7h0M345.9 1310.2h0M352.2 1295.9h0M344.9 1281.1h0M345.6 1262.4h0M349.0 1270.9h0M364.2 1264.1h0M375.5 1249.0h0M371.0 1270.1h0M340.1 1316.2h0M348.9 1286.3h0M341.6 1313.7h0M367.9 1277.2h0M324.4 1322.5h0M377.9 1282.1h0M354.9 1277.5h0M344.1 1310.6h0M365.7 1280.8h0M373.2 1291.4h0M369.8 1260.3h0M373.3 1291.9h0M358.1 1304.2h0M375.8 1291.7h0M371.2 1315.9h0M360.5 1276.1h0M372.3 1324.1h0M367.4 1259.9h0M362.0 1281.8h0M342.6 1309.0h0M343.8 1346.4h0M379.2 1243.7h0M339.3 1298.0h0M374.9 1256.4h0M365.2 1283.8h0M368.8 1260.7h0M330.2 1281.9h0M356.3 1296.9h0M354.5 1358.3h0M342.2 1321.8h0M369.0 1247.0h0M332.3 1259.6h0M374.8 1258.2h0M346.7 1306.0h0M374.0 1276.0h0M331.0 1303.0h0M373.1 1268.4h0M355.7 1290.7h0M371.0 1286.8h0M339.3 1324.9h0M344.1 1322.5h0M387.4 1304.0h0M353.0 1263.2h0M352.3 1275.3h0M363.0 1251.5h0M357.1 1229.4h0M381.4 1261.4h0M385.6 1277.3h0M344.8 1312.7h0M337.0 1281.1h0M378.4 1275.2h0M377.9 1272.9h0M372.7 1278.9h0M366.6 1333.0h0M353.6 1257.4h0M351.0 1319.0h0M347.2 1254.0h0M338.0 1297.5h0M376.3 1272.1h0M357.8 1250.2h0M398.7 1250.1h0M356.7 1307.3h0M351.8 1282.3h0M370.4 1288.8h0M392.1 1250.1h0M369.9 1269.7h0M341.1 1295.9h0M357.7 1322.8h0M369.7 1332.3h0M354.5 1279.1h0M348.3 1290.5h0M376.3 1274.5h0M369.1 1249.8h0M349.9 1259.7h0M365.2 1233.5h0M340.9 1328.6h0M368.6 1263.3h0M366.4 1261.5h0M379.4 1268.5h0M362.2 1323.7h0M328.2 1336.2h0M361.7 1305.6h0M372.5 1285.5h0M369.4 1270.5h0M370.9 1302.6h0M353.4 1280.5h0M347.2 1283.7h0M373.4 1283.4h0M346.5 1279.4h0M334.1 1265.5h0M373.7 1288.4h0M342.0 1325.4h0M352.4 1302.3h0M339.8 1289.8h0M338.7 1300.4h0M347.1 1270.1h0M366.3 1229.4h0M375.2 1235.5h0M326.0 1296.4h0M373.8 1269.0h0M345.0 1278.6h0M337.4 1325.0h0M359.5 1335.2h0M348.7 1337.2h0M338.8 1285.3h0M379.6 1315.6h0M336.3 1344.3h0M359.8 1304.0h0M358.7 1306.2h0M373.9 1314.1h0M353.3 1287.8h0M378.0 1265.6h0M351.9 1275.0h0M371.9 1304.1h0M349.4 1286.0h0M355.9 1280.9h0M377.6 1329.3h0M370.0 1257.8h0M358.7 1299.6h0M385.4 1314.3h0M360.6 1307.5h0M347.8 1289.9h0M367.3 1300.3h0M349.2 1257.8h0M374.9 1289.2h0M370.2 1318.5h0M342.1 1335.2h0M361.8 1233.2h0M357.9 1308.6h0M367.1 1250.9h0M342.9 1303.6h0M353.9 1355.4h0M320.9 1339.8h0M353.8 1286.6h0M356.4 1275.7h0M356.3 1285.2h0M361.9 1297.7h0M345.2 1274.3h0M366.1 1295.8h0M360.4 1271.1h0M352.2 1279.7h0M334.9 1316.3h0M338.8 1309.4h0M365.1 1285.0h0M346.7 1285.1h0M365.8 1261.2h0M373.7 1290.8h0M375.2 1281.1h0M381.9 1284.3h0M358.9 1270.7h0M347.9 1270.9h0M374.7 1283.0h0M369.3 1260.9h0M373.9 1294.2h0M357.6 1298.5h0M366.5 1336.2h0M369.3 1297.7h0M367.2 1299.3h0M364.5 1298.1h0M366.5 1280.8h0M367.6 1263.7h0M360.5 1298.8h0M376.5 1271.9h0M351.5 1292.6h0M385.9 1276.4h0M353.8 1309.3h0M362.0 1344.1h0M355.2 1303.5h0M358.2 1277.4h0M385.1 1301.1h0M356.1 1283.9h0M348.7 1253.7h0M347.2 1300.3h0M352.1 1302.9h0M382.8 1321.2h0M362.2 1289.1h0M376.6 1267.3h0M346.0 1286.1h0M352.8 1346.0h0M371.6 1274.4h0M382.1 1300.0h0M351.5 1280.0h0M360.2 1326.7h0M361.1 1301.2h0M348.1 1274.2h0M365.4 1257.5h0M362.1 1256.8h0M334.6 1251.5h0M368.7 1283.5h0M372.8 1259.2h0M356.1 1274.6h0M340.8 1289.0h0M378.8 1294.3h0M360.4 1302.1h0M379.7 1257.7h0M380.3 1281.8h0M349.8 1300.6h0M371.2 1286.0h0M356.7 1285.7h0M352.8 1317.2h0M352.7 1316.2h0M358.1 1295.0h0M369.0 1317.8h0M369.2 1248.4h0M355.7 1296.7h0M358.8 1272.7h0M371.8 1250.3h0M354.7 1250.3h0M348.5 1308.4h0M359.8 1283.1h0M351.4 1289.4h0M357.7 1288.8h0M359.9 1243.8h0M390.1 1274.4h0M384.9 1253.3h0M355.1 1341.1h0M358.1 1291.2h0M392.5 1274.9h0M363.2 1291.9h0M370.1 1229.2h0M359.2 1310.6h0M367.5 1269.2h0M384.7 1260.1h0M356.3 1302.9h0M394.1 1260.6h0M350.6 1271.6h0M377.7 1245.3h0M346.6 1283.0h0M390.8 1257.5h0M349.5 1315.3h0M357.7 1293.2h0M376.9 1265.3h0M371.9 1313.4h0M353.3 1242.0h0M349.0 1316.9h0M334.7 1315.7h0M358.8 1301.0h0M353.7 1309.9h0M166.6 1254.9h0M282.8 1378.6h0M301.3 1413.9h0M347.5 1382.4h0M370.6 1378.2h0M373.4 1387.2h0M370.6 1405.3h0M418.7 1275.0h0M405.8 1301.3h0M403.0 1317.3h0M305.0 1265.3h0M312.4 1275.7h0M332.7 1229.2h0M391.0 1223.7h0M364.2 1225.1h0M318.0 1244.5h0M354.0 1367.8h0M396.5 1244.5h0M317.0 1336.0h0M331.8 1349.8h0M350.3 1358.8h0M373.4 1360.9h0M396.5 1261.8h0M398.4 1286.1h0" stroke="#000" stroke-width="8.7" stroke-linecap="round" fill="none"/>
<rect x="156.2" y="1154.4" width="277.3" height="277.2" fill="none" stroke="#111" stroke-width="1.65"/>
<path d="M156.2 1431.6v11M248.6 1431.6v11M341.1 1431.6v11M433.5 1431.6v11M156.2 1154.4h-11.2M156.2 1223.7h-11.2M156.2 1293.0h-11.2M156.2 1362.3h-11.2M156.2 1431.6h-11.2" stroke="#111" stroke-width="1.65" fill="none"/>
<text x="153.8" y="1466.8" font-size="20.5" text-anchor="middle" fill="#000">10<tspan dy="-8.2" font-size="15.0">-5</tspan></text>
<text x="246.2" y="1466.8" font-size="20.5" text-anchor="middle" fill="#000">10<tspan dy="-8.2" font-size="15.0">-4</tspan></text>
<text x="338.7" y="1466.8" font-size="20.5" text-anchor="middle" fill="#000">10<tspan dy="-8.2" font-size="15.0">-3</tspan></text>
<text x="431.1" y="1466.8" font-size="20.5" text-anchor="middle" fill="#000">10<tspan dy="-8.2" font-size="15.0">-2</tspan></text>
<text x="140.8" y="1162.8" font-size="20.5" text-anchor="end" fill="#000">10<tspan dy="-8.2" font-size="15.0">-1</tspan></text>
<text x="140.8" y="1232.1" font-size="20.5" text-anchor="end" fill="#000">10<tspan dy="-8.2" font-size="15.0">-2</tspan></text>
<text x="140.8" y="1301.4" font-size="20.5" text-anchor="end" fill="#000">10<tspan dy="-8.2" font-size="15.0">-3</tspan></text>
<text x="140.8" y="1370.7" font-size="20.5" text-anchor="end" fill="#000">10<tspan dy="-8.2" font-size="15.0">-4</tspan></text>
<text x="140.8" y="1440.0" font-size="20.5" text-anchor="end" fill="#000">10<tspan dy="-8.2" font-size="15.0">-5</tspan></text>
<text x="295.4" y="1498.6" font-size="23.3" text-anchor="middle" fill="#000" textLength="320.3" lengthAdjust="spacing">Expected frequency of CDR3Jα-</text>
<text x="297.9" y="1527.5" font-size="23.3" text-anchor="middle" fill="#000" textLength="245.2" lengthAdjust="spacing">CDR3Jβ ligation product</text>
<text transform="translate(59.5 1296.5) rotate(-90)" font-size="23.3" text-anchor="middle" fill="#000" textLength="325.0" lengthAdjust="spacing">Observed frequency of CDR3Jα-</text>
<text transform="translate(88.3 1296.5) rotate(-90)" font-size="23.3" text-anchor="middle" fill="#000" textLength="243.8" lengthAdjust="spacing">CDR3Jβ ligation product</text>
</g>
</g>
<g id="panel-e">
<text x="-2.2" y="1597.0" font-size="50.5" fill="#231f20">e</text>
<g id="plot2" class="pl">
<rect x="151.9" y="1618.3" width="277.2" height="277.0" fill="#eeefef"/>
<path d="M304.4 1762.8h0M276.6 1764.3h0M269.7 1707.9h0M290.5 1748.6h0M325.2 1733.4h0M304.4 1749.4h0M332.1 1728.4h0M297.4 1749.7h0M290.5 1793.1h0M242.0 1730.9h0M276.6 1749.6h0M332.1 1715.3h0M311.3 1765.2h0M318.2 1710.3h0M318.2 1775.2h0M297.4 1758.1h0M297.4 1744.9h0M304.4 1775.9h0M318.2 1762.8h0M311.3 1730.0h0M318.2 1795.0h0M304.4 1766.3h0M283.6 1729.5h0M290.5 1745.6h0M276.6 1733.8h0M325.2 1711.5h0M255.9 1789.8h0M290.5 1739.5h0M352.9 1742.9h0M283.6 1767.3h0M255.9 1737.2h0M297.4 1806.4h0M352.9 1759.2h0M297.4 1780.1h0M318.2 1729.5h0M304.4 1747.5h0M290.5 1755.1h0M373.7 1811.2h0M304.4 1718.3h0M276.6 1789.5h0M283.6 1721.4h0M311.3 1738.3h0M311.3 1800.6h0M318.2 1745.7h0M304.4 1783.8h0M269.7 1712.7h0M325.2 1779.5h0M290.5 1762.0h0M297.4 1725.6h0M242.0 1757.6h0M290.5 1742.3h0M269.7 1743.2h0M297.4 1764.7h0M242.0 1799.5h0M304.4 1704.1h0M304.4 1725.7h0M276.6 1733.6h0M283.6 1746.2h0M262.8 1769.4h0M318.2 1816.6h0M242.0 1732.8h0M283.6 1762.3h0M262.8 1754.7h0M290.5 1775.4h0M332.1 1788.9h0M283.6 1745.2h0M304.4 1809.0h0M269.7 1699.1h0M345.9 1706.9h0M325.2 1754.8h0M345.9 1719.7h0M269.7 1769.0h0M255.9 1719.5h0M345.9 1746.4h0M290.5 1732.2h0M297.4 1800.8h0M311.3 1749.2h0M248.9 1754.2h0M332.1 1730.9h0M304.4 1747.3h0M311.3 1732.8h0M283.6 1743.8h0M311.3 1768.6h0M283.6 1780.3h0M325.2 1721.9h0M345.9 1764.8h0M325.2 1733.9h0M311.3 1738.6h0M318.2 1759.6h0M242.0 1784.8h0M318.2 1741.9h0M290.5 1716.8h0M304.4 1815.9h0M297.4 1782.0h0M242.0 1786.4h0M276.6 1737.0h0M325.2 1713.6h0M359.8 1706.5h0M283.6 1738.8h0M283.6 1727.9h0M332.1 1763.2h0M262.8 1747.0h0M352.9 1777.9h0M304.4 1730.5h0M262.8 1734.1h0M339.0 1733.6h0M366.7 1731.7h0M269.7 1793.1h0M339.0 1752.2h0M297.4 1808.1h0M359.8 1755.2h0M283.6 1733.4h0M235.1 1710.0h0M318.2 1751.9h0M339.0 1765.3h0M345.9 1759.3h0M373.7 1750.1h0M318.2 1793.5h0M290.5 1741.7h0M290.5 1730.1h0M290.5 1786.2h0M269.7 1787.8h0M297.4 1764.8h0M255.9 1761.2h0M311.3 1758.8h0M297.4 1754.2h0M262.8 1723.9h0M318.2 1774.0h0M283.6 1780.8h0M325.2 1722.0h0M248.9 1773.2h0M290.5 1751.5h0M228.1 1697.6h0M359.8 1736.2h0M311.3 1760.2h0M276.6 1723.8h0M297.4 1735.3h0M325.2 1796.4h0M311.3 1720.4h0M318.2 1748.7h0M262.8 1760.4h0M283.6 1804.7h0M304.4 1793.3h0M339.0 1743.5h0M269.7 1763.7h0M255.9 1775.9h0M325.2 1765.9h0M262.8 1763.6h0M325.2 1719.2h0M304.4 1709.5h0M318.2 1744.0h0M373.7 1727.0h0M332.1 1771.9h0M318.2 1755.1h0M262.8 1743.2h0M269.7 1808.5h0M325.2 1769.2h0M339.0 1696.8h0M332.1 1716.2h0M352.9 1747.6h0M311.3 1772.7h0M304.4 1743.3h0M325.2 1810.1h0M304.4 1752.3h0M297.4 1745.8h0M276.6 1742.5h0M325.2 1762.4h0M255.9 1727.0h0M311.3 1713.7h0M242.0 1755.5h0M345.9 1741.4h0M276.6 1758.5h0M332.1 1784.3h0M235.1 1712.5h0M290.5 1760.0h0M345.9 1764.0h0M269.7 1751.2h0M304.4 1755.0h0M283.6 1784.0h0M248.9 1744.8h0M311.3 1793.0h0M311.3 1717.5h0M276.6 1755.4h0M311.3 1749.0h0M283.6 1760.3h0M276.6 1763.3h0M304.4 1721.9h0M269.7 1743.9h0M352.9 1778.3h0M262.8 1739.7h0M332.1 1765.2h0M325.2 1752.7h0M255.9 1709.2h0M228.1 1732.4h0M311.3 1732.1h0M283.6 1781.0h0M318.2 1735.6h0M325.2 1792.9h0M290.5 1781.7h0M276.6 1782.0h0M242.0 1717.0h0M311.3 1723.8h0M262.8 1767.5h0M311.3 1755.3h0M311.3 1750.1h0M242.0 1730.5h0M339.0 1740.4h0M325.2 1709.6h0M318.2 1757.1h0M255.9 1705.4h0M290.5 1727.0h0M290.5 1741.4h0M283.6 1743.7h0M276.6 1732.8h0M318.2 1724.4h0M304.4 1753.0h0M311.3 1756.7h0M290.5 1752.5h0M352.9 1755.5h0M311.3 1723.1h0M235.1 1728.8h0M283.6 1787.0h0M297.4 1758.5h0M325.2 1775.2h0M297.4 1751.7h0M290.5 1756.5h0M283.6 1764.4h0M318.2 1731.2h0M290.5 1757.1h0M290.5 1741.5h0M269.7 1752.2h0M311.3 1731.1h0M276.6 1776.7h0M262.8 1753.3h0M325.2 1780.1h0M269.7 1742.6h0M311.3 1711.2h0M318.2 1765.1h0M352.9 1741.6h0M345.9 1789.1h0M276.6 1751.3h0M297.4 1696.6h0M269.7 1738.9h0M366.7 1720.3h0M318.2 1718.7h0M332.1 1739.3h0M290.5 1738.2h0M255.9 1765.2h0M359.8 1762.5h0M304.4 1744.0h0M304.4 1787.5h0M304.4 1724.1h0M325.2 1753.3h0M325.2 1775.8h0M235.1 1734.7h0M345.9 1722.4h0M290.5 1760.5h0M283.6 1764.5h0M339.0 1781.9h0M339.0 1731.3h0M290.5 1747.4h0M228.1 1736.2h0M304.4 1765.3h0M325.2 1744.9h0M297.4 1722.5h0M248.9 1745.3h0M269.7 1728.1h0M269.7 1717.7h0M311.3 1741.9h0M318.2 1777.2h0M325.2 1722.1h0M269.7 1769.7h0M311.3 1714.5h0M325.2 1797.5h0M290.5 1743.0h0M297.4 1750.7h0M290.5 1742.0h0M311.3 1732.1h0M318.2 1697.9h0M283.6 1801.7h0M304.4 1754.4h0M228.1 1799.1h0M297.4 1704.0h0M352.9 1716.5h0M276.6 1750.4h0M352.9 1732.6h0M332.1 1728.0h0M304.4 1790.3h0M290.5 1754.4h0M297.4 1737.3h0M325.2 1779.5h0M269.7 1758.7h0M325.2 1717.7h0M276.6 1733.4h0M262.8 1810.5h0M262.8 1769.2h0M235.1 1734.4h0M269.7 1779.1h0M325.2 1764.8h0M297.4 1790.4h0M304.4 1722.6h0M325.2 1760.5h0M332.1 1794.2h0M290.5 1742.6h0M352.9 1756.7h0M311.3 1752.2h0M304.4 1708.3h0M311.3 1705.6h0M269.7 1736.2h0M269.7 1781.9h0M297.4 1739.7h0M325.2 1713.2h0M283.6 1753.3h0M297.4 1720.8h0M325.2 1725.8h0M359.8 1703.6h0M332.1 1768.5h0M352.9 1754.5h0M290.5 1736.0h0M290.5 1736.7h0M311.3 1766.1h0M297.4 1796.4h0M290.5 1773.4h0M339.0 1783.5h0M290.5 1730.5h0M276.6 1776.3h0M318.2 1785.0h0M373.7 1761.8h0M304.4 1720.7h0M352.9 1736.5h0M283.6 1735.6h0M283.6 1770.6h0M269.7 1742.8h0M297.4 1773.4h0M345.9 1744.8h0M255.9 1735.8h0M339.0 1747.1h0M276.6 1738.6h0M290.5 1775.7h0M332.1 1739.8h0M325.2 1743.9h0M311.3 1767.5h0M262.8 1766.8h0M318.2 1733.8h0M276.6 1727.9h0M359.8 1700.5h0M290.5 1715.4h0M311.3 1780.4h0M255.9 1709.0h0M290.5 1740.1h0M269.7 1762.9h0M339.0 1729.3h0M290.5 1736.3h0M311.3 1733.1h0M269.7 1774.9h0M290.5 1748.9h0M332.1 1721.9h0M262.8 1786.0h0M262.8 1775.2h0M318.2 1776.6h0M255.9 1725.5h0M290.5 1761.8h0M339.0 1727.7h0M283.6 1761.7h0M318.2 1759.0h0M283.6 1762.2h0M332.1 1770.7h0M352.9 1779.7h0M283.6 1786.7h0M297.4 1719.7h0M283.6 1729.0h0M311.3 1751.1h0M345.9 1736.2h0M242.0 1765.1h0M325.2 1743.8h0M248.9 1722.0h0M262.8 1738.6h0M228.1 1766.8h0M345.9 1770.5h0M304.4 1760.3h0M304.4 1773.0h0M283.6 1775.6h0M345.9 1741.7h0M214.3 1777.5h0M304.4 1765.6h0M352.9 1736.3h0M290.5 1790.5h0M304.4 1731.7h0M325.2 1809.2h0M283.6 1779.7h0M304.4 1795.0h0M325.2 1758.9h0M304.4 1754.0h0M311.3 1712.0h0M290.5 1744.6h0M311.3 1784.4h0M304.4 1757.7h0M332.1 1736.8h0M318.2 1740.2h0M290.5 1770.8h0M242.0 1758.7h0M318.2 1762.0h0M332.1 1776.7h0M276.6 1748.2h0M255.9 1762.1h0M255.9 1751.2h0M339.0 1744.7h0M255.9 1762.5h0M290.5 1759.3h0M311.3 1766.2h0M352.9 1742.8h0M297.4 1751.5h0M297.4 1744.4h0M290.5 1713.7h0M366.7 1771.7h0M325.2 1728.2h0M297.4 1772.4h0M269.7 1733.7h0M269.7 1776.8h0M311.3 1752.6h0M269.7 1763.5h0M318.2 1757.4h0M311.3 1769.9h0M304.4 1721.1h0M325.2 1747.2h0M311.3 1762.1h0M262.8 1770.8h0M290.5 1774.4h0M325.2 1781.9h0M248.9 1749.2h0M290.5 1749.4h0M325.2 1784.8h0M297.4 1746.9h0M283.6 1732.3h0M269.7 1766.5h0M325.2 1756.6h0M339.0 1763.9h0M332.1 1723.7h0M304.4 1765.4h0M345.9 1812.4h0M276.6 1751.1h0M304.4 1761.4h0M283.6 1782.6h0M304.4 1795.8h0M318.2 1727.2h0M325.2 1740.6h0M276.6 1796.4h0M332.1 1762.2h0M283.6 1737.2h0M276.6 1753.9h0M297.4 1781.2h0M269.7 1702.9h0M304.4 1745.5h0M311.3 1720.2h0M297.4 1732.4h0M311.3 1761.7h0M290.5 1715.3h0M304.4 1728.7h0M242.0 1808.3h0M304.4 1739.1h0M283.6 1701.6h0M290.5 1769.7h0M297.4 1727.9h0M304.4 1757.3h0M235.1 1789.3h0M235.1 1735.7h0M297.4 1764.2h0M311.3 1823.2h0M318.2 1707.0h0M318.2 1763.0h0M332.1 1786.9h0M311.3 1810.2h0M297.4 1706.9h0M255.9 1751.2h0M262.8 1768.1h0M283.6 1773.6h0M304.4 1720.9h0M311.3 1754.8h0M304.4 1815.8h0M297.4 1737.2h0M325.2 1788.9h0M311.3 1762.1h0M311.3 1763.4h0M311.3 1763.3h0M290.5 1788.9h0M276.6 1759.2h0M318.2 1774.5h0M318.2 1722.3h0M290.5 1713.5h0M290.5 1751.0h0M352.9 1746.4h0M283.6 1722.2h0M297.4 1762.9h0M304.4 1738.0h0M276.6 1716.1h0M304.4 1752.7h0M373.7 1794.6h0M325.2 1775.9h0M318.2 1803.4h0M311.3 1747.4h0M304.4 1787.6h0M339.0 1782.5h0M297.4 1736.6h0M283.6 1694.8h0M304.4 1730.9h0M318.2 1750.5h0M311.3 1718.3h0M325.2 1719.4h0M221.2 1721.8h0M325.2 1776.7h0M352.9 1700.2h0M332.1 1781.1h0M290.5 1754.7h0M269.7 1802.8h0M311.3 1738.9h0M276.6 1751.9h0M332.1 1730.7h0M290.5 1753.2h0M339.0 1776.5h0M359.8 1748.8h0M221.2 1782.0h0M311.3 1695.5h0M283.6 1787.8h0M269.7 1730.8h0M276.6 1773.6h0M290.5 1765.3h0M325.2 1760.9h0M262.8 1727.9h0M345.9 1746.3h0M290.5 1743.7h0M325.2 1780.7h0M311.3 1726.4h0M297.4 1753.2h0M255.9 1757.9h0M325.2 1711.0h0M318.2 1723.7h0M332.1 1745.1h0M359.8 1727.6h0M318.2 1775.3h0M311.3 1750.4h0M186.6 1721.5h0M401.4 1720.1h0M255.9 1877.6h0M304.4 1869.0h0M352.9 1869.0h0M304.4 1846.1h0M325.2 1841.3h0M283.6 1832.3h0M200.4 1741.6h0M207.3 1743.0h0M214.3 1740.9h0M214.3 1709.0h0M221.2 1705.6h0M228.1 1706.2h0M235.1 1705.6h0M214.3 1754.0h0M221.2 1751.3h0M214.3 1785.9h0M228.1 1774.8h0M235.1 1786.6h0M380.6 1745.0h0M373.7 1781.0h0M359.8 1786.6h0M373.7 1733.9h0M366.7 1723.6h0M359.8 1688.9h0M352.9 1696.6h0M345.9 1696.6h0M311.3 1691.0h0M318.2 1693.8h0M269.7 1693.8h0M248.9 1696.6h0M242.0 1805.3h0M248.9 1803.2h0M255.9 1808.0h0M345.9 1799.7h0M352.9 1802.5h0M269.7 1824.0h0M276.6 1824.0h0M304.4 1824.0h0M325.2 1824.0h0M332.1 1823.3h0M318.2 1815.7h0M332.1 1808.7h0" stroke="#000" stroke-width="8.7" stroke-linecap="round" fill="none"/>
<rect x="151.9" y="1618.3" width="277.2" height="277.0" fill="none" stroke="#111" stroke-width="1.65"/>
<path d="M151.9 1895.3v11M221.2 1895.3v11M290.5 1895.3v11M359.8 1895.3v11M429.1 1895.3v11M151.9 1618.3h-11.2M151.9 1687.5h-11.2M151.9 1756.8h-11.2M151.9 1826.0h-11.2M151.9 1895.3h-11.2" stroke="#111" stroke-width="1.65" fill="none"/>
<text x="151.9" y="1929.4" font-size="20.5" fill="#000" text-anchor="middle">52</text>
<text x="221.2" y="1929.4" font-size="20.5" fill="#000" text-anchor="middle">53</text>
<text x="290.5" y="1929.4" font-size="20.5" fill="#000" text-anchor="middle">54</text>
<text x="359.8" y="1929.4" font-size="20.5" fill="#000" text-anchor="middle">55</text>
<text x="429.1" y="1929.4" font-size="20.5" fill="#000" text-anchor="middle">56</text>
<text x="136.5" y="1626.7" font-size="20.5" text-anchor="end" fill="#000">10<tspan dy="-8.2" font-size="15.0">-1</tspan></text>
<text x="136.5" y="1696.0" font-size="20.5" text-anchor="end" fill="#000">10<tspan dy="-8.2" font-size="15.0">-2</tspan></text>
<text x="136.5" y="1765.2" font-size="20.5" text-anchor="end" fill="#000">10<tspan dy="-8.2" font-size="15.0">-3</tspan></text>
<text x="136.5" y="1834.5" font-size="20.5" text-anchor="end" fill="#000">10<tspan dy="-8.2" font-size="15.0">-4</tspan></text>
<text x="136.5" y="1903.7" font-size="20.5" text-anchor="end" fill="#000">10<tspan dy="-8.2" font-size="15.0">-5</tspan></text>
<text x="290.5" y="1960.9" font-size="23.3" text-anchor="middle" fill="#000" textLength="116.5" lengthAdjust="spacing">Zip Tm (°C)</text>
<text transform="translate(79.7 1756.8) rotate(-90)" font-size="23.3" text-anchor="middle" fill="#000" textLength="138.0" lengthAdjust="spacing">α-β frequency</text>
</g>
<g id="plot3" class="pl">
<rect x="562.9" y="1618.3" width="276.9" height="277.0" fill="#eeefef"/>
<path d="M715.2 1726.5h0M697.9 1730.3h0M701.3 1772.3h0M694.4 1728.1h0M708.3 1755.3h0M697.9 1766.3h0M684.0 1766.5h0M701.3 1767.3h0M708.3 1736.0h0M684.0 1749.3h0M687.5 1701.7h0M687.5 1759.4h0M680.6 1774.0h0M697.9 1737.2h0M711.7 1782.7h0M732.5 1751.8h0M704.8 1787.8h0M711.7 1704.4h0M715.2 1744.6h0M718.7 1716.7h0M687.5 1734.3h0M701.3 1729.1h0M697.9 1755.6h0M691.0 1817.5h0M684.0 1724.4h0M687.5 1717.8h0M687.5 1791.9h0M677.1 1757.8h0M697.9 1747.7h0M691.0 1727.7h0M694.4 1777.2h0M694.4 1750.1h0M708.3 1733.7h0M680.6 1745.7h0M691.0 1715.6h0M659.8 1726.8h0M666.7 1718.2h0M652.9 1754.3h0M708.3 1735.9h0M652.9 1728.6h0M697.9 1723.2h0M708.3 1744.5h0M687.5 1708.0h0M711.7 1759.1h0M715.2 1733.6h0M701.3 1735.2h0M718.7 1754.7h0M697.9 1750.1h0M677.1 1732.5h0M701.3 1784.6h0M684.0 1741.5h0M666.7 1795.9h0M677.1 1799.1h0M739.4 1719.7h0M684.0 1746.6h0M691.0 1726.8h0M684.0 1735.8h0M694.4 1800.2h0M691.0 1711.8h0M687.5 1790.9h0M677.1 1757.8h0M677.1 1752.4h0M684.0 1823.3h0M694.4 1794.8h0M736.0 1725.9h0M715.2 1793.5h0M711.7 1734.3h0M701.3 1772.7h0M691.0 1775.7h0M677.1 1773.4h0M691.0 1779.0h0M666.7 1769.4h0M687.5 1754.2h0M725.6 1763.5h0M694.4 1798.4h0M704.8 1807.4h0M687.5 1700.6h0M663.3 1744.8h0M687.5 1762.1h0M687.5 1773.3h0M718.7 1733.2h0M732.5 1745.1h0M677.1 1724.5h0M687.5 1746.5h0M691.0 1728.3h0M687.5 1762.4h0M677.1 1790.7h0M694.4 1761.3h0M697.9 1772.0h0M701.3 1770.9h0M666.7 1729.1h0M691.0 1735.5h0M656.4 1744.2h0M701.3 1758.6h0M680.6 1776.7h0M687.5 1751.1h0M684.0 1742.0h0M684.0 1772.9h0M670.2 1754.1h0M670.2 1797.5h0M729.0 1719.2h0M694.4 1756.3h0M694.4 1748.2h0M715.2 1766.0h0M691.0 1752.1h0M704.8 1758.8h0M694.4 1753.4h0M704.8 1731.2h0M701.3 1809.0h0M697.9 1787.7h0M687.5 1759.8h0M694.4 1751.5h0M704.8 1711.4h0M666.7 1788.2h0M691.0 1786.3h0M684.0 1733.0h0M687.5 1801.4h0M670.2 1765.7h0M701.3 1781.9h0M673.7 1711.6h0M691.0 1716.0h0M680.6 1751.5h0M656.4 1762.2h0M687.5 1730.6h0M652.9 1722.2h0M680.6 1738.4h0M687.5 1748.5h0M691.0 1774.7h0M694.4 1741.9h0M691.0 1768.6h0M736.0 1785.0h0M701.3 1791.8h0M666.7 1719.6h0M680.6 1717.6h0M680.6 1758.7h0M691.0 1759.2h0M680.6 1757.4h0M684.0 1741.6h0M725.6 1725.2h0M694.4 1749.4h0M687.5 1728.2h0M687.5 1744.0h0M687.5 1760.9h0M708.3 1806.0h0M701.3 1777.3h0M704.8 1733.5h0M708.3 1795.2h0M697.9 1734.4h0M715.2 1718.2h0M715.2 1734.1h0M694.4 1742.3h0M656.4 1730.0h0M697.9 1742.5h0M680.6 1818.4h0M670.2 1748.5h0M684.0 1768.3h0M715.2 1708.4h0M704.8 1727.3h0M708.3 1749.6h0M670.2 1737.4h0M746.3 1753.0h0M670.2 1710.4h0M691.0 1766.0h0M677.1 1696.0h0M708.3 1717.4h0M697.9 1770.7h0M701.3 1755.8h0M694.4 1739.2h0M691.0 1732.5h0M697.9 1719.1h0M670.2 1756.3h0M711.7 1767.6h0M704.8 1746.1h0M684.0 1799.8h0M691.0 1766.7h0M694.4 1796.9h0M725.6 1774.0h0M701.3 1728.6h0M694.4 1747.8h0M680.6 1727.9h0M663.3 1746.2h0M680.6 1761.7h0M694.4 1732.7h0M691.0 1776.6h0M694.4 1764.8h0M701.3 1722.0h0M701.3 1785.1h0M697.9 1725.8h0M708.3 1738.0h0M694.4 1777.9h0M691.0 1756.8h0M701.3 1719.7h0M656.4 1749.0h0M708.3 1725.6h0M677.1 1744.7h0M701.3 1775.2h0M694.4 1723.3h0M704.8 1753.9h0M694.4 1790.8h0M680.6 1706.8h0M704.8 1749.9h0M694.4 1800.1h0M694.4 1803.0h0M694.4 1756.5h0M715.2 1738.9h0M711.7 1756.2h0M697.9 1802.2h0M673.7 1722.5h0M687.5 1744.8h0M694.4 1723.1h0M715.2 1704.2h0M701.3 1762.3h0M691.0 1810.4h0M718.7 1722.0h0M691.0 1767.5h0M691.0 1734.0h0M697.9 1805.2h0M673.7 1700.5h0M711.7 1728.6h0M701.3 1796.0h0M691.0 1746.0h0M680.6 1761.6h0M694.4 1726.8h0M708.3 1752.4h0M680.6 1715.2h0M670.2 1730.0h0M697.9 1734.2h0M673.7 1761.4h0M666.7 1747.7h0M687.5 1765.7h0M684.0 1773.6h0M687.5 1741.1h0M687.5 1732.8h0M701.3 1754.3h0M691.0 1745.0h0M680.6 1770.9h0M684.0 1762.7h0M701.3 1758.4h0M711.7 1806.5h0M704.8 1792.6h0M701.3 1761.1h0M652.9 1774.5h0M680.6 1797.6h0M687.5 1797.7h0M694.4 1737.1h0M673.7 1716.1h0M722.1 1751.1h0M697.9 1736.3h0M684.0 1745.9h0M694.4 1774.1h0M687.5 1746.8h0M684.0 1785.3h0M697.9 1704.2h0M684.0 1786.9h0M677.1 1733.3h0M684.0 1772.8h0M691.0 1780.4h0M670.2 1758.9h0M708.3 1756.0h0M680.6 1745.4h0M729.0 1728.3h0M704.8 1780.2h0M673.7 1753.0h0M694.4 1725.7h0M704.8 1723.4h0M691.0 1721.6h0M680.6 1727.7h0M694.4 1753.8h0M715.2 1773.6h0M663.3 1719.8h0M704.8 1751.4h0M694.4 1729.3h0M691.0 1810.0h0M687.5 1788.3h0M687.5 1737.9h0M704.8 1708.4h0M704.8 1761.1h0M673.7 1779.8h0M711.7 1735.8h0M677.1 1738.1h0M708.3 1760.9h0M697.9 1783.7h0M708.3 1710.0h0M701.3 1758.5h0M704.8 1712.4h0M691.0 1784.3h0M704.8 1741.0h0M701.3 1767.8h0M718.7 1754.4h0M680.6 1736.1h0M708.3 1755.2h0M697.9 1729.9h0M697.9 1741.4h0M680.6 1765.8h0M701.3 1780.0h0M677.1 1771.4h0M677.1 1726.9h0M701.3 1774.9h0M673.7 1797.5h0M722.1 1728.6h0M691.0 1722.4h0M694.4 1778.4h0M694.4 1732.6h0M701.3 1803.5h0M691.0 1776.0h0M687.5 1735.5h0M691.0 1811.4h0M704.8 1733.1h0M718.7 1751.1h0M708.3 1778.3h0M697.9 1724.4h0M691.0 1766.2h0M659.8 1756.6h0M701.3 1733.8h0M701.3 1719.0h0M687.5 1761.2h0M701.3 1748.3h0M708.3 1771.2h0M694.4 1786.5h0M715.2 1739.7h0M697.9 1733.3h0M656.4 1716.5h0M687.5 1752.5h0M684.0 1699.7h0M697.9 1769.9h0M684.0 1764.4h0M687.5 1784.4h0M680.6 1792.4h0M694.4 1735.8h0M694.4 1750.5h0M704.8 1745.5h0M701.3 1784.7h0M697.9 1756.0h0M694.4 1736.4h0M694.4 1732.5h0M694.4 1745.2h0M725.6 1729.8h0M663.3 1751.5h0M691.0 1777.9h0M701.3 1768.5h0M704.8 1717.0h0M670.2 1737.0h0M701.3 1806.7h0M711.7 1728.2h0M687.5 1700.3h0M652.9 1806.4h0M687.5 1739.5h0M680.6 1744.8h0M708.3 1757.5h0M677.1 1728.7h0M729.0 1776.3h0M694.4 1809.0h0M684.0 1735.6h0M687.5 1727.6h0M680.6 1757.7h0M701.3 1751.8h0M711.7 1773.3h0M687.5 1730.1h0M711.7 1746.2h0M673.7 1729.1h0M701.3 1754.8h0M718.7 1767.3h0M663.3 1762.8h0M708.3 1701.2h0M708.3 1716.2h0M652.9 1768.2h0M677.1 1715.8h0M673.7 1751.7h0M715.2 1747.3h0M684.0 1780.8h0M691.0 1730.1h0M701.3 1764.5h0M694.4 1796.7h0M694.4 1702.2h0M687.5 1770.3h0M718.7 1749.9h0M677.1 1742.9h0M711.7 1719.0h0M687.5 1715.4h0M684.0 1765.5h0M708.3 1723.9h0M701.3 1727.3h0M652.9 1760.3h0M697.9 1727.1h0M666.7 1751.5h0M677.1 1724.9h0M701.3 1753.2h0M684.0 1724.7h0M697.9 1822.7h0M684.0 1765.1h0M715.2 1741.3h0M691.0 1730.3h0M680.6 1745.1h0M670.2 1761.0h0M673.7 1706.7h0M694.4 1796.7h0M694.4 1755.4h0M715.2 1719.5h0M694.4 1752.3h0M694.4 1734.9h0M697.9 1738.2h0M691.0 1754.2h0M697.9 1745.1h0M708.3 1777.1h0M708.3 1751.7h0M687.5 1749.1h0M656.4 1745.2h0M677.1 1765.8h0M697.9 1802.3h0M663.3 1793.6h0M687.5 1721.0h0M697.9 1762.4h0M687.5 1771.8h0M680.6 1800.9h0M711.7 1761.9h0M722.1 1723.9h0M687.5 1705.6h0M708.3 1797.0h0M708.3 1707.4h0M670.2 1761.9h0M749.8 1772.9h0M673.7 1747.8h0M691.0 1750.7h0M670.2 1724.7h0M694.4 1751.6h0M677.1 1752.3h0M691.0 1745.8h0M715.2 1733.1h0M694.4 1715.1h0M691.0 1744.2h0M711.7 1731.6h0M673.7 1723.4h0M704.8 1730.4h0M687.5 1743.2h0M694.4 1765.4h0M694.4 1759.0h0M694.4 1802.9h0M691.0 1707.6h0M677.1 1785.8h0M687.5 1719.6h0M701.3 1764.8h0M691.0 1735.0h0M680.6 1758.3h0M684.0 1786.5h0M684.0 1735.0h0M691.0 1743.8h0M697.9 1821.5h0M694.4 1765.4h0M680.6 1752.3h0M694.4 1805.8h0M677.1 1738.5h0M659.8 1745.0h0M691.0 1702.9h0M659.8 1755.2h0M673.7 1750.3h0M677.1 1706.7h0M701.3 1724.5h0M666.7 1769.6h0M697.9 1728.1h0M684.0 1766.8h0M677.1 1735.0h0M673.7 1792.6h0M701.3 1722.6h0M697.9 1730.8h0M701.3 1708.6h0M729.0 1797.7h0M694.4 1742.8h0M697.9 1728.9h0M691.0 1752.5h0M694.4 1758.5h0M687.5 1781.2h0M680.6 1725.8h0M715.2 1731.0h0M670.2 1764.4h0M694.4 1782.3h0M697.9 1742.0h0M694.4 1712.7h0M680.6 1761.5h0M687.5 1753.1h0M687.5 1705.4h0M680.6 1751.9h0M691.0 1766.8h0M684.0 1755.2h0M680.6 1756.4h0M704.8 1756.8h0M680.6 1756.7h0M701.3 1761.5h0M680.6 1780.0h0M697.9 1714.0h0M694.4 1783.2h0M697.9 1777.0h0M670.2 1739.9h0M684.0 1733.5h0M673.7 1729.4h0M694.4 1738.7h0M708.3 1781.3h0M704.8 1743.5h0M687.5 1806.2h0M694.4 1737.8h0M673.7 1743.2h0M687.5 1711.3h0M680.6 1799.6h0M677.1 1766.1h0M659.8 1768.0h0M656.4 1769.2h0M701.3 1731.7h0M684.0 1770.6h0M673.7 1807.5h0M718.7 1773.5h0M694.4 1773.6h0M687.5 1782.8h0M704.8 1769.3h0M684.0 1742.9h0M725.6 1815.0h0M659.8 1745.2h0M677.1 1762.8h0M691.0 1724.3h0M684.0 1750.6h0M708.3 1702.0h0M673.7 1748.4h0M677.1 1804.3h0M697.9 1744.3h0M697.9 1751.2h0M704.8 1759.0h0M697.9 1714.9h0M718.7 1720.6h0M687.5 1720.2h0M694.4 1768.3h0M708.3 1758.9h0M684.0 1774.0h0M687.5 1719.3h0M680.6 1702.1h0M684.0 1755.1h0M677.1 1747.4h0M684.0 1755.2h0M673.7 1737.1h0M694.4 1742.2h0M673.7 1738.1h0M732.5 1733.4h0M725.6 1742.1h0M604.4 1768.6h0M621.7 1704.9h0M642.5 1748.5h0M646.0 1764.4h0M652.9 1729.1h0M666.7 1869.0h0M704.8 1869.0h0M697.9 1877.6h0M684.0 1846.1h0M687.5 1841.3h0M684.0 1831.6h0M656.4 1824.0h0M763.7 1792.1h0M760.2 1772.7h0M753.3 1712.5h0M756.7 1736.0h0M736.0 1798.3h0M697.9 1688.2h0M715.2 1691.0h0M725.6 1697.9h0M663.3 1695.9h0M666.7 1695.9h0M673.7 1694.5h0M736.0 1717.3h0M742.9 1727.0h0M746.3 1739.5h0M753.3 1741.6h0M742.9 1760.3h0M673.7 1815.0h0M684.0 1824.0h0M691.0 1824.0h0M701.3 1824.0h0M708.3 1821.9h0" stroke="#000" stroke-width="8.7" stroke-linecap="round" fill="none"/>
<rect x="562.9" y="1618.3" width="276.9" height="277.0" fill="none" stroke="#111" stroke-width="1.65"/>
<path d="M562.9 1895.3v11M632.1 1895.3v11M701.3 1895.3v11M770.6 1895.3v11M839.8 1895.3v11M562.9 1618.3h-11.2M562.9 1687.5h-11.2M562.9 1756.8h-11.2M562.9 1826.0h-11.2M562.9 1895.3h-11.2" stroke="#111" stroke-width="1.65" fill="none"/>
<text x="562.9" y="1929.4" font-size="20.5" fill="#000" text-anchor="middle">140</text>
<text x="632.1" y="1929.4" font-size="20.5" fill="#000" text-anchor="middle">160</text>
<text x="701.3" y="1929.4" font-size="20.5" fill="#000" text-anchor="middle">180</text>
<text x="770.6" y="1929.4" font-size="20.5" fill="#000" text-anchor="middle">200</text>
<text x="839.8" y="1929.4" font-size="20.5" fill="#000" text-anchor="middle">220</text>
<text x="547.5" y="1626.7" font-size="20.5" text-anchor="end" fill="#000">10<tspan dy="-8.2" font-size="15.0">-1</tspan></text>
<text x="547.5" y="1696.0" font-size="20.5" text-anchor="end" fill="#000">10<tspan dy="-8.2" font-size="15.0">-2</tspan></text>
<text x="547.5" y="1765.2" font-size="20.5" text-anchor="end" fill="#000">10<tspan dy="-8.2" font-size="15.0">-3</tspan></text>
<text x="547.5" y="1834.5" font-size="20.5" text-anchor="end" fill="#000">10<tspan dy="-8.2" font-size="15.0">-4</tspan></text>
<text x="547.5" y="1903.7" font-size="20.5" text-anchor="end" fill="#000">10<tspan dy="-8.2" font-size="15.0">-5</tspan></text>
<text x="702.0" y="1960.9" font-size="23.3" text-anchor="middle" fill="#000" textLength="247.7" lengthAdjust="spacing">CDR3Jα oligo length (nt)</text>
<text transform="translate(490.7 1756.8) rotate(-90)" font-size="23.3" text-anchor="middle" fill="#000" textLength="138.0" lengthAdjust="spacing">α-β frequency</text>
</g>
<g id="plot4" class="pl">
<rect x="976.5" y="1618.3" width="277.2" height="277.0" fill="#eeefef"/>
<path d="M1087.4 1716.4h0M1115.1 1732.9h0M1087.4 1730.0h0M1073.5 1720.3h0M1115.1 1744.2h0M1191.3 1763.1h0M1094.3 1758.1h0M1080.5 1727.3h0M1080.5 1716.1h0M1149.8 1732.8h0M1101.2 1821.0h0M1115.1 1725.2h0M1156.7 1762.8h0M1149.8 1755.3h0M1080.5 1768.6h0M1122.0 1720.2h0M1122.0 1801.5h0M1122.0 1745.6h0M1129.0 1712.5h0M1073.5 1700.5h0M1101.2 1708.0h0M1087.4 1780.1h0M1135.9 1782.2h0M1073.5 1720.7h0M1122.0 1734.8h0M1052.7 1753.8h0M1101.2 1770.8h0M1094.3 1727.2h0M1101.2 1780.3h0M1108.2 1785.6h0M1094.3 1805.8h0M1094.3 1744.0h0M1045.8 1711.4h0M1129.0 1751.8h0M1087.4 1721.2h0M1094.3 1768.6h0M1080.5 1796.7h0M1129.0 1754.3h0M1059.7 1762.1h0M1122.0 1716.0h0M1129.0 1781.4h0M1177.5 1784.0h0M1129.0 1716.6h0M1115.1 1737.8h0M1073.5 1727.8h0M1156.7 1803.5h0M1156.7 1728.6h0M1135.9 1788.4h0M1122.0 1748.3h0M1108.2 1736.9h0M1087.4 1794.8h0M1149.8 1763.2h0M1135.9 1780.2h0M1052.7 1767.1h0M1122.0 1753.7h0M1115.1 1756.7h0M1142.8 1796.0h0M1108.2 1729.2h0M1149.8 1778.2h0M1129.0 1738.7h0M1122.0 1763.9h0M1066.6 1787.0h0M1122.0 1724.8h0M1101.2 1751.3h0M1073.5 1735.9h0M1122.0 1735.0h0M1066.6 1738.2h0M1142.8 1764.8h0M1142.8 1734.4h0M1080.5 1723.1h0M1122.0 1763.0h0M1115.1 1772.6h0M1129.0 1761.0h0M1066.6 1719.4h0M1115.1 1790.0h0M1108.2 1710.1h0M1122.0 1756.2h0M1101.2 1787.6h0M1149.8 1708.9h0M1108.2 1704.1h0M1122.0 1772.9h0M1163.6 1811.4h0M1108.2 1745.1h0M1129.0 1747.1h0M1108.2 1771.8h0M1115.1 1714.8h0M1080.5 1735.6h0M1122.0 1767.5h0M1156.7 1774.5h0M1101.2 1740.3h0M1135.9 1787.8h0M1122.0 1722.1h0M1052.7 1757.3h0M1115.1 1777.3h0M1135.9 1731.9h0M1087.4 1767.2h0M1059.7 1749.2h0M1115.1 1741.6h0M1087.4 1769.6h0M1184.4 1735.6h0M1101.2 1713.1h0M1101.2 1719.6h0M1087.4 1789.3h0M1108.2 1726.1h0M1087.4 1772.7h0M1080.5 1750.0h0M1101.2 1718.2h0M1080.5 1771.7h0M1163.6 1740.9h0M1073.5 1725.2h0M1101.2 1742.5h0M1073.5 1701.9h0M1038.9 1755.3h0M1177.5 1758.9h0M1052.7 1817.1h0M1135.9 1783.0h0M1066.6 1742.4h0M1101.2 1765.8h0M1156.7 1735.8h0M1052.7 1706.2h0M1066.6 1758.5h0M1163.6 1712.4h0M1108.2 1727.4h0M1087.4 1749.9h0M1101.2 1798.9h0M1080.5 1787.3h0M1108.2 1749.0h0M1170.5 1765.4h0M1087.4 1737.6h0M1108.2 1759.0h0M1156.7 1751.0h0M1191.3 1763.9h0M1073.5 1759.9h0M1108.2 1735.5h0M1080.5 1790.3h0M1073.5 1716.8h0M1087.4 1730.8h0M1073.5 1792.3h0M1059.7 1738.5h0M1052.7 1796.1h0M1073.5 1760.9h0M1108.2 1751.3h0M1156.7 1749.9h0M1087.4 1766.9h0M1094.3 1758.3h0M1129.0 1719.4h0M1122.0 1784.4h0M1094.3 1723.8h0M1101.2 1766.2h0M1149.8 1733.9h0M1094.3 1780.0h0M1080.5 1805.3h0M1031.9 1752.5h0M1122.0 1797.9h0M1094.3 1779.3h0M1184.4 1707.9h0M1087.4 1726.3h0M1135.9 1722.6h0M1122.0 1731.1h0M1142.8 1800.4h0M1066.6 1702.5h0M1170.5 1774.8h0M1101.2 1746.8h0M1101.2 1749.6h0M1087.4 1747.8h0M1094.3 1723.0h0M1087.4 1746.1h0M1045.8 1743.0h0M1115.1 1746.0h0M1101.2 1778.4h0M1080.5 1703.0h0M1101.2 1780.9h0M1156.7 1754.2h0M1108.2 1751.5h0M1087.4 1736.6h0M1142.8 1730.8h0M1066.6 1794.8h0M1094.3 1741.6h0M1087.4 1771.4h0M1094.3 1734.5h0M1135.9 1794.1h0M1115.1 1739.8h0M1073.5 1802.6h0M1101.2 1778.8h0M1101.2 1748.5h0M1094.3 1730.2h0M1101.2 1725.6h0M1087.4 1736.2h0M1073.5 1761.5h0M1101.2 1739.4h0M1073.5 1748.0h0M1115.1 1759.6h0M1094.3 1719.8h0M1059.7 1742.9h0M1087.4 1743.4h0M1087.4 1726.0h0M1101.2 1759.0h0M1108.2 1748.3h0M1094.3 1776.5h0M1080.5 1768.6h0M1163.6 1781.3h0M1122.0 1774.9h0M1108.2 1771.7h0M1142.8 1749.9h0M1108.2 1733.4h0M1094.3 1760.6h0M1108.2 1743.9h0M1170.5 1762.8h0M1142.8 1753.7h0M1149.8 1701.7h0M1094.3 1756.9h0M1115.1 1704.8h0M1156.7 1783.9h0M1115.1 1783.2h0M1129.0 1737.7h0M1135.9 1768.7h0M1115.1 1790.7h0M1142.8 1728.9h0M1108.2 1741.9h0M1122.0 1772.1h0M1073.5 1785.4h0M1122.0 1762.4h0M1115.1 1739.3h0M1108.2 1762.8h0M1163.6 1762.8h0M1087.4 1746.6h0M1101.2 1722.6h0M1066.6 1807.3h0M1101.2 1773.2h0M1094.3 1780.1h0M1115.1 1798.6h0M1094.3 1725.4h0M1073.5 1733.9h0M1094.3 1786.1h0M1094.3 1775.7h0M1087.4 1749.6h0M1122.0 1744.1h0M1115.1 1703.7h0M1108.2 1772.9h0M1073.5 1716.1h0M1122.0 1695.6h0M1073.5 1776.9h0M1108.2 1776.9h0M1101.2 1713.4h0M1087.4 1792.3h0M1080.5 1713.9h0M1087.4 1766.4h0M1191.3 1731.0h0M1094.3 1730.6h0M1094.3 1761.7h0M1142.8 1739.8h0M1122.0 1800.7h0M1129.0 1794.2h0M1073.5 1747.6h0M1073.5 1744.7h0M1184.4 1772.2h0M1101.2 1698.6h0M1094.3 1780.4h0M1108.2 1741.1h0M1142.8 1761.3h0M1073.5 1712.2h0M1115.1 1756.8h0M1101.2 1756.9h0M1129.0 1700.4h0M1108.2 1758.0h0M1080.5 1746.6h0M1080.5 1765.2h0M1045.8 1732.9h0M1142.8 1740.4h0M1066.6 1772.2h0M1094.3 1738.7h0M1142.8 1759.0h0M1087.4 1735.2h0M1115.1 1774.0h0M1094.3 1724.2h0M1135.9 1720.5h0M1101.2 1767.9h0M1087.4 1747.6h0M1163.6 1775.0h0M1094.3 1779.9h0M1066.6 1743.8h0M1087.4 1738.3h0M1115.1 1776.4h0M1073.5 1805.5h0M1122.0 1713.5h0M1135.9 1736.6h0M1191.3 1794.6h0M1087.4 1772.5h0M1115.1 1730.4h0M1059.7 1760.6h0M1094.3 1737.7h0M1108.2 1718.8h0M1122.0 1740.6h0M1101.2 1707.1h0M1101.2 1736.9h0M1087.4 1768.9h0M1080.5 1739.8h0M1115.1 1753.7h0M1115.1 1741.0h0M1115.1 1751.4h0M1142.8 1746.9h0M1129.0 1760.2h0M1025.0 1755.4h0M1087.4 1740.3h0M1094.3 1793.3h0M1087.4 1719.7h0M1129.0 1725.4h0M1122.0 1755.5h0M1094.3 1775.3h0M1108.2 1712.8h0M1135.9 1755.8h0M1087.4 1776.1h0M1087.4 1764.6h0M1142.8 1752.9h0M1115.1 1711.7h0M1135.9 1725.0h0M1108.2 1742.9h0M1122.0 1778.5h0M1087.4 1795.2h0M1080.5 1800.6h0M1101.2 1708.4h0M1038.9 1749.9h0M1115.1 1732.9h0M1122.0 1763.9h0M1101.2 1741.4h0M1094.3 1767.5h0M1129.0 1733.9h0M1101.2 1798.1h0M1129.0 1715.4h0M1198.3 1740.6h0M1122.0 1771.6h0M1122.0 1777.1h0M1122.0 1740.3h0M1115.1 1777.4h0M1115.1 1740.9h0M1108.2 1777.5h0M1129.0 1754.2h0M1031.9 1737.7h0M1094.3 1783.0h0M1115.1 1749.7h0M1066.6 1734.8h0M1101.2 1771.4h0M1073.5 1723.3h0M1122.0 1750.8h0M1142.8 1776.0h0M1163.6 1763.0h0M1122.0 1767.9h0M1087.4 1747.8h0M1108.2 1730.3h0M1115.1 1746.5h0M1135.9 1738.8h0M1052.7 1746.9h0M1115.1 1732.4h0M1025.0 1718.5h0M1135.9 1718.3h0M1115.1 1785.4h0M1122.0 1742.7h0M1122.0 1750.9h0M1122.0 1709.3h0M1087.4 1720.4h0M1108.2 1778.9h0M1129.0 1760.1h0M1101.2 1791.6h0M1101.2 1780.1h0M1073.5 1739.8h0M1149.8 1754.3h0M1080.5 1784.2h0M1087.4 1735.7h0M1094.3 1769.2h0M1066.6 1730.3h0M1094.3 1768.1h0M1156.7 1745.5h0M1135.9 1758.7h0M1135.9 1711.1h0M1135.9 1792.3h0M1066.6 1720.8h0M1115.1 1717.1h0M1163.6 1764.7h0M1198.3 1747.3h0M1038.9 1798.4h0M1038.9 1725.0h0M1122.0 1774.5h0M1087.4 1778.5h0M1080.5 1733.1h0M1108.2 1809.9h0M1066.6 1726.9h0M1045.8 1755.2h0M1101.2 1734.9h0M1108.2 1723.2h0M1115.1 1741.2h0M1122.0 1721.3h0M1108.2 1772.0h0M1094.3 1775.1h0M1073.5 1741.4h0M1031.9 1773.9h0M1094.3 1747.0h0M1129.0 1732.7h0M1129.0 1746.6h0M1149.8 1735.9h0M1094.3 1738.9h0M1059.7 1807.7h0M1135.9 1793.3h0M1149.8 1758.4h0M1052.7 1711.2h0M1059.7 1714.0h0M1108.2 1760.1h0M1135.9 1768.8h0M1052.7 1752.5h0M1094.3 1729.9h0M1066.6 1778.4h0M1073.5 1728.7h0M1066.6 1727.2h0M1108.2 1818.8h0M1087.4 1734.6h0M1087.4 1711.8h0M1038.9 1748.1h0M1177.5 1716.4h0M1059.7 1769.5h0M1101.2 1810.2h0M1052.7 1815.7h0M1115.1 1723.4h0M1066.6 1799.9h0M1108.2 1728.0h0M1094.3 1752.4h0M1122.0 1724.6h0M1073.5 1739.7h0M1073.5 1746.4h0M1094.3 1728.6h0M1149.8 1721.0h0M1066.6 1716.9h0M1115.1 1718.7h0M1087.4 1725.5h0M1108.2 1760.2h0M1129.0 1750.7h0M1108.2 1786.4h0M1115.1 1793.7h0M1115.1 1792.6h0M1073.5 1712.1h0M1094.3 1700.1h0M1059.7 1812.6h0M1094.3 1787.6h0M1080.5 1803.1h0M1094.3 1740.3h0M1135.9 1700.7h0M1108.2 1815.2h0M1122.0 1779.6h0M1129.0 1777.3h0M1045.8 1714.2h0M1115.1 1762.5h0M1101.2 1754.3h0M1101.2 1775.7h0M1066.6 1732.4h0M1122.0 1755.7h0M1129.0 1746.6h0M1142.8 1764.2h0M1101.2 1761.3h0M1115.1 1716.1h0M1122.0 1760.7h0M1177.5 1729.7h0M1129.0 1757.6h0M1108.2 1774.2h0M1108.2 1781.8h0M1108.2 1769.5h0M1108.2 1745.0h0M1087.4 1766.8h0M1135.9 1753.5h0M1087.4 1763.7h0M1066.6 1718.9h0M1108.2 1749.9h0M1087.4 1764.7h0M1094.3 1746.7h0M1052.7 1728.6h0M1135.9 1731.4h0M1101.2 1737.3h0M1094.3 1733.5h0M1122.0 1748.2h0M1108.2 1813.5h0M1073.5 1746.5h0M1184.4 1790.9h0M1087.4 1735.2h0M1122.0 1772.3h0M1142.8 1777.6h0M1087.4 1708.5h0M1101.2 1741.5h0M1080.5 1742.3h0M1129.0 1755.5h0M1094.3 1744.7h0M1073.5 1764.2h0M1135.9 1759.5h0M1142.8 1746.5h0M1080.5 1746.3h0M1129.0 1814.9h0M1108.2 1760.9h0M1122.0 1803.5h0M1142.8 1724.7h0M1087.4 1763.9h0M1087.4 1738.0h0M1080.5 1758.7h0M1108.2 1732.9h0M1101.2 1757.7h0M1122.0 1773.9h0M1108.2 1812.0h0M1066.6 1730.2h0M1066.6 1743.9h0M1135.9 1710.4h0M1149.8 1748.8h0M1094.3 1740.2h0M1094.3 1743.0h0M1094.3 1754.4h0M1101.2 1734.3h0M1059.7 1733.3h0M1122.0 1733.3h0M1087.4 1770.1h0M1108.2 1794.6h0M1038.9 1750.2h0M1108.2 1742.3h0M1135.9 1763.4h0M1073.5 1783.6h0M1163.6 1762.3h0M1115.1 1720.8h0M1080.5 1737.2h0M1031.9 1757.7h0M1129.0 1730.7h0M1115.1 1718.8h0M1115.1 1785.9h0M1094.3 1746.2h0M1080.5 1756.7h0M1135.9 1746.9h0M1080.5 1769.0h0M1142.8 1740.0h0M1031.9 1768.7h0M1080.5 1763.2h0M1038.9 1775.2h0M1135.9 1781.9h0M1059.7 1744.5h0M1073.5 1703.1h0M1129.0 1748.1h0M1108.2 1787.2h0M1198.3 1748.9h0M1177.5 1786.7h0M1004.2 1722.2h0M1011.1 1762.3h0M1011.1 1776.2h0M1025.0 1737.4h0M1025.0 1758.2h0M1025.0 1776.2h0M1031.9 1713.9h0M1031.9 1720.8h0M1031.9 1781.0h0M1038.9 1781.0h0M1045.8 1712.5h0M1045.8 1718.7h0M1045.8 1798.3h0M1066.6 1869.0h0M1177.5 1869.0h0M1135.9 1877.6h0M1142.8 1846.1h0M1108.2 1841.3h0M1108.2 1832.3h0M1239.8 1787.3h0M1219.0 1801.8h0M1205.2 1762.3h0M1219.0 1742.3h0M1212.1 1740.2h0M1205.2 1730.5h0M1198.3 1727.7h0M1191.3 1741.6h0M1184.4 1749.2h0M1184.4 1770.7h0M1177.5 1792.8h0M1177.5 1799.7h0M1177.5 1803.2h0M1163.6 1704.9h0M1163.6 1708.3h0M1149.8 1704.9h0M1142.8 1700.7h0M1135.9 1695.2h0M1129.0 1695.2h0M1101.2 1687.5h0M1108.2 1690.3h0M1066.6 1694.5h0M1066.6 1697.2h0M1073.5 1699.3h0M1066.6 1822.6h0M1066.6 1824.7h0M1087.4 1824.0h0M1101.2 1824.0h0M1108.2 1824.0h0M1129.0 1824.0h0M1122.0 1816.4h0" stroke="#000" stroke-width="8.7" stroke-linecap="round" fill="none"/>
<rect x="976.5" y="1618.3" width="277.2" height="277.0" fill="none" stroke="#111" stroke-width="1.65"/>
<path d="M976.5 1895.3v11M1045.8 1895.3v11M1115.1 1895.3v11M1184.4 1895.3v11M1253.7 1895.3v11M976.5 1618.3h-11.2M976.5 1687.5h-11.2M976.5 1756.8h-11.2M976.5 1826.0h-11.2M976.5 1895.3h-11.2" stroke="#111" stroke-width="1.65" fill="none"/>
<text x="976.5" y="1929.4" font-size="20.5" fill="#000" text-anchor="middle">160</text>
<text x="1045.8" y="1929.4" font-size="20.5" fill="#000" text-anchor="middle">170</text>
<text x="1115.1" y="1929.4" font-size="20.5" fill="#000" text-anchor="middle">180</text>
<text x="1184.4" y="1929.4" font-size="20.5" fill="#000" text-anchor="middle">190</text>
<text x="1253.7" y="1929.4" font-size="20.5" fill="#000" text-anchor="middle">200</text>
<text x="961.1" y="1626.7" font-size="20.5" text-anchor="end" fill="#000">10<tspan dy="-8.2" font-size="15.0">-1</tspan></text>
<text x="961.1" y="1696.0" font-size="20.5" text-anchor="end" fill="#000">10<tspan dy="-8.2" font-size="15.0">-2</tspan></text>
<text x="961.1" y="1765.2" font-size="20.5" text-anchor="end" fill="#000">10<tspan dy="-8.2" font-size="15.0">-3</tspan></text>
<text x="961.1" y="1834.5" font-size="20.5" text-anchor="end" fill="#000">10<tspan dy="-8.2" font-size="15.0">-4</tspan></text>
<text x="961.1" y="1903.7" font-size="20.5" text-anchor="end" fill="#000">10<tspan dy="-8.2" font-size="15.0">-5</tspan></text>
<text x="1115.9" y="1960.9" font-size="23.3" text-anchor="middle" fill="#000" textLength="245.0" lengthAdjust="spacing">CDR3Jβ oligo length (nt)</text>
<text transform="translate(904.3 1756.8) rotate(-90)" font-size="23.3" text-anchor="middle" fill="#000" textLength="138.0" lengthAdjust="spacing">α-β frequency</text>
</g>
<g id="plot5" class="pl">
<rect x="1391.7" y="1618.3" width="277.4" height="277.0" fill="#eeefef"/>
<path d="M1520.3 1750.0h0M1518.4 1767.9h0M1572.0 1720.4h0M1563.1 1753.6h0M1507.0 1738.8h0M1511.6 1752.0h0M1524.2 1729.8h0M1513.6 1737.1h0M1457.2 1780.7h0M1560.1 1740.9h0M1545.9 1770.7h0M1534.6 1766.8h0M1514.6 1725.7h0M1537.8 1781.3h0M1542.9 1789.0h0M1507.4 1778.3h0M1522.4 1749.8h0M1517.6 1728.3h0M1556.1 1815.7h0M1535.0 1728.7h0M1501.9 1725.4h0M1516.4 1720.2h0M1596.5 1749.8h0M1493.0 1727.1h0M1535.4 1756.7h0M1516.1 1754.9h0M1576.8 1741.1h0M1528.0 1748.0h0M1513.2 1741.9h0M1485.3 1717.2h0M1520.4 1735.9h0M1560.9 1748.4h0M1555.0 1761.1h0M1479.7 1805.2h0M1588.5 1764.6h0M1520.3 1734.0h0M1489.9 1739.4h0M1532.0 1751.7h0M1516.2 1803.3h0M1517.1 1749.5h0M1505.7 1730.6h0M1527.4 1741.3h0M1518.7 1756.2h0M1465.0 1757.0h0M1549.2 1758.0h0M1509.8 1738.5h0M1574.6 1763.0h0M1549.7 1699.7h0M1542.3 1783.8h0M1533.1 1766.3h0M1578.3 1733.2h0M1517.1 1785.4h0M1508.3 1731.9h0M1536.5 1798.5h0M1478.7 1747.8h0M1515.5 1744.2h0M1537.5 1723.1h0M1520.5 1770.6h0M1555.7 1716.2h0M1555.8 1749.8h0M1533.7 1784.1h0M1514.3 1781.0h0M1552.3 1804.8h0M1514.9 1759.5h0M1513.7 1737.3h0M1557.5 1718.5h0M1541.8 1728.5h0M1605.9 1791.8h0M1524.6 1728.4h0M1458.6 1756.3h0M1543.1 1755.6h0M1555.7 1737.6h0M1525.7 1762.4h0M1562.0 1755.1h0M1566.7 1765.3h0M1504.3 1775.5h0M1519.0 1780.5h0M1482.2 1815.0h0M1540.6 1756.6h0M1556.3 1717.5h0M1541.9 1793.0h0M1503.2 1756.3h0M1513.1 1744.5h0M1475.4 1697.1h0M1495.2 1748.7h0M1478.6 1761.5h0M1495.8 1713.9h0M1525.3 1742.5h0M1545.1 1776.3h0M1552.7 1770.2h0M1528.4 1753.7h0M1503.9 1706.5h0M1528.9 1743.1h0M1541.1 1712.8h0M1518.0 1798.4h0M1531.1 1765.2h0M1522.6 1762.0h0M1509.4 1726.4h0M1529.8 1743.0h0M1487.2 1744.8h0M1551.2 1795.1h0M1496.2 1775.2h0M1546.4 1778.1h0M1478.0 1723.2h0M1585.7 1755.5h0M1547.3 1731.7h0M1498.6 1751.0h0M1519.6 1697.8h0M1486.7 1731.2h0M1526.9 1710.3h0M1537.7 1729.6h0M1582.7 1767.7h0M1500.3 1749.0h0M1575.6 1745.9h0M1516.8 1745.7h0M1534.8 1786.7h0M1562.0 1731.8h0M1540.4 1778.2h0M1544.9 1787.0h0M1521.6 1776.4h0M1528.7 1755.0h0M1532.2 1755.0h0M1573.9 1758.6h0M1498.2 1729.9h0M1510.6 1721.5h0M1502.9 1722.3h0M1508.8 1798.5h0M1499.1 1718.8h0M1570.1 1754.2h0M1574.0 1753.0h0M1579.8 1763.5h0M1484.6 1732.6h0M1530.6 1721.4h0M1486.5 1745.3h0M1538.4 1754.2h0M1555.7 1718.4h0M1551.0 1748.6h0M1561.6 1740.6h0M1525.9 1796.8h0M1487.7 1738.3h0M1487.5 1734.5h0M1526.9 1764.6h0M1541.1 1778.6h0M1576.6 1750.8h0M1521.7 1777.8h0M1530.6 1749.4h0M1534.4 1720.5h0M1551.3 1752.9h0M1526.4 1806.8h0M1506.1 1769.2h0M1569.5 1740.8h0M1537.6 1741.5h0M1543.3 1765.1h0M1481.4 1715.7h0M1528.7 1732.6h0M1464.7 1764.4h0M1487.0 1708.6h0M1524.0 1724.2h0M1512.7 1736.2h0M1540.9 1731.9h0M1582.9 1739.8h0M1528.3 1774.8h0M1595.9 1744.0h0M1516.7 1773.1h0M1557.5 1720.8h0M1502.5 1764.0h0M1531.7 1737.2h0M1517.2 1748.2h0M1524.6 1782.2h0M1541.3 1797.1h0M1458.5 1814.0h0M1531.4 1773.7h0M1512.0 1745.5h0M1531.5 1789.3h0M1537.2 1730.4h0M1521.2 1790.2h0M1521.2 1759.1h0M1504.9 1755.1h0M1540.5 1797.8h0M1514.9 1751.5h0M1545.6 1749.7h0M1475.7 1756.8h0M1580.1 1721.1h0M1507.6 1739.0h0M1553.2 1741.1h0M1512.3 1790.4h0M1549.4 1790.1h0M1526.0 1719.8h0M1543.2 1766.9h0M1529.2 1717.3h0M1576.4 1738.3h0M1554.1 1738.7h0M1543.3 1730.6h0M1563.9 1758.3h0M1514.4 1790.9h0M1556.2 1719.3h0M1530.5 1710.7h0M1498.1 1717.0h0M1539.0 1708.2h0M1524.7 1716.2h0M1564.3 1783.5h0M1510.6 1733.3h0M1530.8 1782.8h0M1533.9 1770.5h0M1457.8 1776.1h0M1548.0 1766.1h0M1491.9 1742.8h0M1558.4 1768.3h0M1591.2 1740.6h0M1528.7 1719.4h0M1469.8 1735.6h0M1535.8 1790.4h0M1532.7 1751.4h0M1555.9 1728.6h0M1517.9 1753.0h0M1484.6 1735.4h0M1526.0 1767.2h0M1509.7 1752.8h0M1566.1 1726.3h0M1502.6 1773.3h0M1504.7 1747.3h0M1527.3 1750.0h0M1482.7 1755.9h0M1519.7 1736.3h0M1526.2 1715.0h0M1518.8 1751.7h0M1523.8 1761.4h0M1575.3 1752.1h0M1538.1 1760.4h0M1501.0 1767.2h0M1513.0 1771.4h0M1544.6 1759.5h0M1504.7 1728.5h0M1532.1 1745.8h0M1528.4 1774.2h0M1548.7 1773.5h0M1522.3 1792.6h0M1523.7 1771.2h0M1497.0 1770.0h0M1536.5 1737.4h0M1509.6 1792.4h0M1593.7 1746.2h0M1528.3 1716.6h0M1520.7 1744.8h0M1545.5 1751.9h0M1525.8 1781.1h0M1532.3 1787.8h0M1527.9 1718.7h0M1513.9 1760.1h0M1509.8 1739.7h0M1502.9 1743.7h0M1552.7 1727.8h0M1505.6 1701.8h0M1520.5 1724.9h0M1519.6 1749.7h0M1555.0 1711.7h0M1570.4 1732.9h0M1494.5 1749.2h0M1549.5 1741.4h0M1533.5 1722.6h0M1522.7 1712.3h0M1539.6 1760.3h0M1502.5 1753.0h0M1560.1 1779.4h0M1533.6 1723.7h0M1491.8 1750.6h0M1562.3 1705.8h0M1560.7 1710.0h0M1572.3 1740.4h0M1498.6 1782.3h0M1523.3 1763.2h0M1518.1 1762.5h0M1542.1 1744.2h0M1557.3 1751.3h0M1458.0 1702.9h0M1529.8 1761.1h0M1524.3 1729.8h0M1549.9 1750.1h0M1528.2 1742.2h0M1481.6 1735.2h0M1521.8 1772.9h0M1490.4 1726.3h0M1500.0 1713.9h0M1529.9 1717.7h0M1519.0 1749.3h0M1534.8 1765.8h0M1497.4 1723.4h0M1577.4 1758.0h0M1576.0 1739.4h0M1544.0 1789.2h0M1480.9 1782.1h0M1448.7 1749.9h0M1496.9 1750.5h0M1520.4 1769.6h0M1612.1 1788.0h0M1556.2 1780.4h0M1509.5 1786.1h0M1554.2 1763.2h0M1554.5 1727.3h0M1529.6 1746.4h0M1574.3 1737.0h0M1535.9 1742.2h0M1504.6 1741.4h0M1504.5 1750.1h0M1526.4 1769.6h0M1566.2 1718.4h0M1500.8 1783.9h0M1469.0 1742.5h0M1549.5 1770.4h0M1472.4 1718.2h0M1567.0 1740.1h0M1512.6 1776.8h0M1544.3 1799.4h0M1598.2 1755.1h0M1475.0 1780.9h0M1489.9 1757.7h0M1575.8 1770.9h0M1518.4 1713.4h0M1524.3 1737.7h0M1537.5 1742.3h0M1568.4 1749.0h0M1556.6 1763.3h0M1531.3 1795.7h0M1516.5 1736.5h0M1528.3 1779.6h0M1540.3 1750.8h0M1577.8 1742.4h0M1534.1 1739.7h0M1596.8 1781.8h0M1511.1 1708.1h0M1548.8 1731.8h0M1565.6 1766.5h0M1555.9 1756.3h0M1535.9 1726.3h0M1510.6 1721.8h0M1514.2 1763.5h0M1523.2 1769.0h0M1535.5 1714.5h0M1523.8 1777.4h0M1474.8 1747.1h0M1513.6 1757.3h0M1539.8 1749.1h0M1560.1 1768.6h0M1476.9 1721.9h0M1515.5 1740.1h0M1494.1 1737.0h0M1517.3 1735.7h0M1602.9 1770.8h0M1531.4 1759.8h0M1516.2 1719.4h0M1507.1 1713.7h0M1484.0 1739.6h0M1459.8 1752.9h0M1527.4 1723.2h0M1518.7 1770.5h0M1559.8 1767.6h0M1494.9 1748.7h0M1545.2 1734.1h0M1557.0 1740.5h0M1488.2 1738.0h0M1542.7 1775.4h0M1469.1 1795.5h0M1539.9 1747.1h0M1559.8 1754.6h0M1528.9 1759.5h0M1535.0 1731.4h0M1514.6 1752.6h0M1539.8 1766.4h0M1552.6 1718.8h0M1525.2 1742.3h0M1523.8 1785.7h0M1537.2 1734.6h0M1559.7 1747.0h0M1494.9 1768.5h0M1530.3 1716.3h0M1514.7 1712.5h0M1547.5 1734.7h0M1550.6 1761.9h0M1535.5 1719.3h0M1577.1 1811.3h0M1492.1 1742.6h0M1520.5 1729.9h0M1508.4 1737.3h0M1531.2 1754.2h0M1531.0 1772.9h0M1521.7 1748.2h0M1503.7 1726.9h0M1526.2 1759.0h0M1519.9 1770.8h0M1551.6 1741.4h0M1519.0 1742.5h0M1553.3 1740.4h0M1537.7 1710.1h0M1490.3 1762.6h0M1525.4 1733.9h0M1475.8 1698.7h0M1549.2 1784.3h0M1558.9 1792.5h0M1528.1 1757.0h0M1538.3 1813.4h0M1475.2 1724.6h0M1575.2 1793.8h0M1508.4 1754.4h0M1523.7 1749.1h0M1472.7 1758.1h0M1532.4 1732.5h0M1535.6 1730.4h0M1553.0 1721.3h0M1561.4 1753.7h0M1545.9 1762.6h0M1521.4 1762.8h0M1531.2 1759.6h0M1541.6 1730.7h0M1490.1 1761.2h0M1578.5 1731.3h0M1547.9 1724.9h0M1524.3 1762.2h0M1515.8 1785.6h0M1608.4 1738.4h0M1546.6 1746.1h0M1564.1 1724.5h0M1596.1 1724.6h0M1549.5 1781.5h0M1533.5 1703.7h0M1555.4 1765.7h0M1510.0 1759.4h0M1544.0 1799.1h0M1471.8 1739.5h0M1537.9 1751.7h0M1550.0 1734.0h0M1496.6 1762.9h0M1600.7 1765.4h0M1486.4 1742.9h0M1568.2 1800.0h0M1509.6 1780.3h0M1540.9 1737.0h0M1515.4 1746.6h0M1581.2 1726.0h0M1567.8 1784.3h0M1567.0 1753.7h0M1558.6 1766.7h0M1555.4 1734.7h0M1535.1 1763.3h0M1520.6 1766.5h0M1542.0 1735.6h0M1535.6 1756.8h0M1526.2 1808.9h0M1478.3 1774.3h0M1518.2 1710.4h0M1552.2 1796.3h0M1512.1 1802.8h0M1542.7 1721.9h0M1526.5 1702.5h0M1491.3 1729.9h0M1510.6 1740.6h0M1502.1 1732.2h0M1523.4 1793.0h0M1520.1 1776.1h0M1552.8 1762.7h0M1489.3 1769.1h0M1486.8 1773.3h0M1543.8 1733.3h0M1512.9 1804.8h0M1527.0 1720.2h0M1547.7 1792.9h0M1560.1 1796.8h0M1541.8 1742.8h0M1549.3 1728.0h0M1534.4 1773.7h0M1549.6 1750.5h0M1507.2 1710.1h0M1503.4 1713.6h0M1519.8 1766.5h0M1589.0 1748.8h0M1588.2 1705.1h0M1507.4 1719.4h0M1553.9 1817.5h0M1526.3 1762.2h0M1552.1 1733.3h0M1518.2 1746.1h0M1549.6 1742.3h0M1526.0 1732.2h0M1519.4 1738.0h0M1529.2 1770.5h0M1536.1 1703.9h0M1517.5 1737.6h0M1501.1 1752.9h0M1593.5 1743.9h0M1515.5 1773.1h0M1462.3 1740.6h0M1482.2 1713.5h0M1471.0 1793.7h0M1516.9 1790.1h0M1558.2 1718.9h0M1495.5 1800.1h0M1523.0 1746.6h0M1491.3 1732.5h0M1571.6 1698.8h0M1537.4 1719.5h0M1536.5 1719.1h0M1558.1 1726.1h0M1564.2 1764.8h0M1568.9 1732.5h0M1517.7 1705.2h0M1502.0 1809.7h0M1507.9 1793.8h0M1493.1 1728.8h0M1598.0 1773.6h0M1523.3 1792.8h0M1535.3 1736.3h0M1537.8 1700.9h0M1572.1 1744.3h0M1509.4 1781.4h0M1554.6 1710.3h0M1536.2 1761.9h0M1524.8 1778.9h0M1458.6 1710.5h0M1564.9 1798.3h0M1514.2 1784.3h0M1513.3 1775.5h0M1539.0 1724.7h0M1534.1 1723.7h0M1572.6 1730.1h0M1505.4 1716.8h0M1533.3 1764.1h0M1535.7 1749.8h0M1531.5 1759.1h0M1556.0 1743.1h0M1521.0 1743.9h0M1555.2 1773.8h0M1504.0 1735.4h0M1499.7 1728.8h0M1529.0 1771.2h0M1574.8 1748.5h0M1519.1 1738.6h0M1516.7 1751.7h0M1522.6 1790.2h0M1533.3 1761.3h0M1526.2 1713.0h0M1542.2 1767.8h0M1405.6 1756.1h0M1431.9 1720.1h0M1443.0 1732.6h0M1444.4 1742.3h0M1445.8 1754.7h0M1452.7 1776.2h0M1456.9 1748.5h0M1462.4 1758.9h0M1456.9 1723.6h0M1462.4 1729.8h0M1469.4 1734.6h0M1509.6 1869.0h0M1520.7 1869.0h0M1541.5 1877.6h0M1497.1 1846.1h0M1556.8 1841.3h0M1529.0 1832.3h0M1473.5 1824.0h0M1499.9 1824.0h0M1523.5 1824.0h0M1542.9 1824.0h0M1565.1 1824.0h0M1570.6 1821.9h0M1603.9 1810.8h0M1633.0 1774.8h0M1627.5 1776.2h0M1623.3 1758.2h0M1617.8 1752.0h0M1609.5 1754.0h0M1603.9 1714.6h0M1598.4 1725.6h0M1595.6 1738.1h0M1597.0 1754.7h0M1597.0 1776.2h0M1601.1 1779.7h0M1548.4 1688.2h0M1565.1 1691.0h0M1563.7 1694.5h0M1578.9 1697.9h0M1479.1 1694.5h0M1484.6 1695.2h0M1493.0 1696.6h0M1506.8 1693.8h0M1520.7 1695.9h0M1480.5 1804.6h0M1480.5 1808.0h0M1488.8 1815.0h0M1506.8 1815.7h0" stroke="#000" stroke-width="8.7" stroke-linecap="round" fill="none"/>
<rect x="1391.7" y="1618.3" width="277.4" height="277.0" fill="none" stroke="#111" stroke-width="1.65"/>
<path d="M1391.7 1895.3v11M1461.0 1895.3v11M1530.4 1895.3v11M1599.8 1895.3v11M1669.1 1895.3v11M1391.7 1618.3h-11.2M1391.7 1687.5h-11.2M1391.7 1756.8h-11.2M1391.7 1826.0h-11.2M1391.7 1895.3h-11.2" stroke="#111" stroke-width="1.65" fill="none"/>
<text x="1391.7" y="1929.4" font-size="20.5" fill="#000" text-anchor="middle">25</text>
<text x="1461.0" y="1929.4" font-size="20.5" fill="#000" text-anchor="middle">30</text>
<text x="1530.4" y="1929.4" font-size="20.5" fill="#000" text-anchor="middle">35</text>
<text x="1599.8" y="1929.4" font-size="20.5" fill="#000" text-anchor="middle">40</text>
<text x="1669.1" y="1929.4" font-size="20.5" fill="#000" text-anchor="middle">45</text>
<text x="1376.3" y="1626.7" font-size="20.5" text-anchor="end" fill="#000">10<tspan dy="-8.2" font-size="15.0">-1</tspan></text>
<text x="1376.3" y="1696.0" font-size="20.5" text-anchor="end" fill="#000">10<tspan dy="-8.2" font-size="15.0">-2</tspan></text>
<text x="1376.3" y="1765.2" font-size="20.5" text-anchor="end" fill="#000">10<tspan dy="-8.2" font-size="15.0">-3</tspan></text>
<text x="1376.3" y="1834.5" font-size="20.5" text-anchor="end" fill="#000">10<tspan dy="-8.2" font-size="15.0">-4</tspan></text>
<text x="1376.3" y="1903.7" font-size="20.5" text-anchor="end" fill="#000">10<tspan dy="-8.2" font-size="15.0">-5</tspan></text>
<text x="1533.2" y="1960.9" font-size="23.3" text-anchor="middle" fill="#000" textLength="302.0" lengthAdjust="spacing">CDR3Jα oligo GC content (%)</text>
<text transform="translate(1319.5 1756.8) rotate(-90)" font-size="23.3" text-anchor="middle" fill="#000" textLength="138.0" lengthAdjust="spacing">α-β frequency</text>
</g>
<g id="plot6" class="pl">
<rect x="1804.6" y="1618.3" width="277.7" height="277.0" fill="#eeefef"/>
<path d="M1968.7 1757.7h0M1913.0 1706.9h0M1966.2 1702.1h0M1953.4 1797.5h0M1956.7 1752.4h0M1911.4 1750.2h0M1947.9 1729.7h0M1941.0 1751.6h0M1895.3 1743.8h0M1902.2 1807.4h0M1910.4 1717.3h0M1957.8 1771.3h0M1930.1 1743.1h0M1962.3 1782.8h0M1937.7 1752.4h0M1931.2 1715.8h0M1931.5 1723.2h0M1918.1 1747.8h0M1952.7 1787.1h0M1933.3 1733.7h0M1931.6 1704.6h0M1874.4 1754.9h0M1933.3 1730.9h0M1912.5 1760.5h0M1916.2 1796.9h0M1948.8 1784.9h0M1885.4 1734.2h0M1919.2 1768.9h0M1940.1 1749.8h0M1970.4 1720.3h0M1915.8 1768.4h0M1933.6 1748.7h0M1932.8 1751.2h0M1902.9 1776.2h0M1881.4 1745.2h0M1885.9 1730.9h0M1949.5 1783.1h0M1929.0 1796.6h0M1876.0 1736.9h0M1913.2 1730.9h0M1911.6 1781.6h0M1913.2 1726.8h0M1925.6 1770.2h0M2010.3 1754.7h0M1897.2 1732.7h0M1929.8 1723.5h0M1897.6 1742.9h0M1903.0 1753.8h0M1908.1 1714.4h0M1921.9 1756.7h0M1915.1 1765.0h0M1940.0 1739.0h0M1931.3 1732.3h0M1907.8 1747.8h0M1999.3 1760.5h0M1882.5 1734.6h0M1934.3 1755.3h0M1972.7 1756.6h0M1911.7 1752.8h0M1954.9 1819.4h0M1956.8 1765.7h0M1939.6 1774.0h0M1887.6 1728.0h0M1956.9 1776.6h0M1930.3 1787.0h0M1915.2 1769.2h0M1953.8 1747.7h0M1899.3 1701.4h0M1967.0 1742.8h0M1906.0 1751.5h0M1938.1 1723.9h0M1904.0 1743.5h0M1911.8 1753.7h0M1907.4 1786.5h0M1911.7 1724.0h0M1933.8 1710.0h0M1920.3 1743.8h0M1933.9 1736.4h0M1975.3 1766.4h0M1924.3 1727.2h0M1887.4 1792.1h0M1915.9 1759.8h0M1929.8 1707.9h0M1948.3 1732.8h0M1965.9 1719.2h0M1962.7 1733.5h0M1922.0 1774.2h0M1951.2 1789.4h0M1896.2 1804.5h0M1975.6 1732.0h0M1936.1 1752.5h0M1946.0 1750.7h0M1918.7 1784.3h0M1928.9 1756.4h0M1912.6 1757.9h0M1938.8 1796.0h0M1876.5 1750.9h0M1947.3 1774.9h0M1947.3 1777.2h0M2003.3 1748.8h0M1925.3 1743.0h0M1923.2 1759.2h0M1930.9 1723.3h0M1928.2 1786.0h0M1922.7 1756.6h0M1885.1 1721.9h0M1885.0 1739.4h0M1914.8 1740.8h0M1920.6 1771.4h0M1881.9 1776.7h0M1902.2 1742.3h0M1916.0 1745.0h0M1942.5 1715.6h0M1922.7 1762.9h0M1941.1 1795.3h0M1963.5 1757.8h0M1955.8 1758.8h0M1910.8 1750.7h0M1911.5 1744.3h0M1856.3 1708.8h0M1912.3 1747.0h0M1936.7 1734.6h0M1885.7 1713.4h0M1955.4 1746.7h0M1957.1 1757.4h0M1919.0 1712.9h0M1961.7 1757.0h0M1873.2 1750.3h0M1904.6 1750.2h0M1912.7 1741.7h0M1927.1 1710.9h0M1919.8 1703.9h0M1894.2 1728.5h0M2001.1 1752.5h0M1937.8 1705.0h0M1932.9 1764.7h0M1952.5 1743.2h0M1930.5 1703.3h0M1921.9 1738.9h0M1915.0 1777.9h0M1864.9 1741.5h0M1958.4 1738.8h0M1892.0 1722.7h0M1863.9 1777.3h0M1909.7 1706.8h0M1892.9 1770.8h0M2002.2 1724.0h0M1934.5 1772.1h0M1980.0 1764.4h0M1957.6 1737.5h0M1948.3 1762.2h0M1938.9 1749.1h0M1899.5 1717.7h0M1925.0 1750.2h0M1914.0 1808.9h0M1927.7 1766.3h0M1900.3 1749.6h0M1953.6 1787.7h0M1955.7 1738.1h0M1924.5 1741.7h0M1863.6 1766.0h0M1952.7 1741.9h0M1960.2 1745.0h0M1925.3 1747.9h0M1900.1 1792.4h0M1943.1 1784.6h0M1966.5 1733.8h0M1854.3 1741.6h0M1948.2 1771.0h0M1888.4 1735.8h0M1928.5 1708.5h0M1992.8 1773.1h0M1930.3 1779.3h0M1936.9 1797.9h0M1920.0 1747.4h0M1926.5 1711.4h0M1976.5 1772.2h0M1955.0 1774.0h0M1920.1 1736.3h0M1912.4 1739.2h0M1927.2 1759.4h0M2009.6 1731.0h0M1931.2 1764.2h0M1968.8 1776.0h0M1919.1 1709.0h0M1899.9 1772.9h0M1954.8 1716.8h0M1923.9 1712.4h0M1897.2 1754.5h0M1900.6 1716.1h0M1901.5 1753.3h0M1903.9 1729.4h0M1894.2 1699.1h0M1972.1 1734.2h0M1934.9 1732.8h0M1963.6 1765.9h0M1913.8 1777.8h0M1934.1 1794.2h0M1930.3 1756.4h0M1951.6 1735.6h0M1957.5 1796.3h0M1940.3 1774.9h0M1913.1 1767.1h0M1881.5 1765.7h0M1909.9 1703.2h0M1913.4 1766.7h0M1906.5 1772.4h0M1880.2 1703.3h0M1961.8 1776.5h0M1932.5 1726.5h0M1884.2 1725.6h0M1885.6 1764.3h0M1876.3 1723.5h0M1935.8 1767.8h0M1949.3 1754.2h0M1889.6 1721.5h0M1939.8 1723.6h0M1921.0 1785.5h0M1970.1 1745.7h0M1955.6 1788.4h0M1938.5 1746.8h0M1941.9 1738.5h0M1926.7 1760.6h0M1912.7 1773.1h0M1883.0 1708.3h0M1939.1 1738.1h0M1924.1 1739.3h0M1918.7 1788.2h0M1925.2 1716.4h0M1922.9 1739.7h0M1887.8 1755.0h0M1915.7 1768.4h0M1969.7 1741.9h0M1921.9 1750.8h0M1979.2 1775.7h0M1902.5 1731.3h0M1898.3 1719.7h0M1931.6 1750.4h0M1955.9 1709.7h0M1913.0 1769.9h0M1950.3 1745.2h0M1961.8 1762.2h0M1949.3 1801.0h0M1922.6 1752.4h0M1925.7 1707.3h0M1864.8 1795.7h0M1927.7 1768.2h0M1932.7 1760.0h0M1979.8 1744.8h0M1900.1 1791.6h0M1895.0 1723.9h0M1905.8 1730.4h0M1960.5 1756.7h0M1938.7 1764.2h0M1904.1 1770.9h0M1970.1 1711.8h0M1940.6 1716.1h0M1898.9 1767.6h0M1925.5 1703.1h0M1944.5 1771.8h0M1947.4 1742.9h0M1918.5 1746.6h0M1910.2 1741.3h0M1958.0 1712.9h0M1926.6 1787.6h0M1943.8 1723.3h0M1935.1 1731.7h0M1917.0 1743.4h0M1980.8 1763.3h0M1916.3 1741.9h0M1935.8 1764.1h0M1913.5 1752.4h0M1922.0 1783.8h0M1917.4 1747.9h0M1912.9 1799.1h0M1931.8 1747.4h0M1954.2 1776.6h0M1965.7 1753.4h0M1980.5 1749.2h0M1923.2 1731.8h0M1981.3 1762.9h0M1942.5 1774.7h0M1964.4 1796.2h0M1900.4 1727.9h0M1957.8 1726.8h0M1914.3 1765.7h0M1951.0 1721.6h0M1917.0 1727.4h0M1960.9 1776.6h0M1920.9 1696.9h0M1856.6 1778.7h0M1890.6 1757.2h0M1917.8 1773.6h0M1927.7 1747.0h0M1922.5 1777.4h0M1882.1 1754.3h0M1899.5 1725.4h0M1918.9 1735.6h0M1935.0 1723.5h0M1909.6 1819.3h0M1870.2 1733.3h0M1938.1 1713.8h0M1914.4 1743.0h0M1945.3 1781.3h0M1907.2 1798.4h0M1940.3 1740.4h0M1908.2 1728.5h0M1936.8 1805.3h0M1930.2 1786.8h0M1936.2 1742.6h0M1892.0 1758.0h0M1924.2 1763.5h0M1895.2 1696.6h0M1923.4 1744.8h0M1950.0 1772.5h0M1989.1 1741.4h0M1927.5 1735.6h0M1953.5 1728.6h0M1931.0 1716.8h0M1969.1 1746.5h0M1944.0 1715.4h0M1965.8 1719.4h0M1940.1 1726.6h0M1976.9 1749.8h0M1955.6 1702.7h0M1863.4 1756.7h0M1933.1 1751.9h0M1928.5 1750.3h0M1880.8 1740.7h0M1908.9 1717.5h0M1917.2 1736.4h0M1911.5 1755.2h0M1931.7 1721.0h0M1889.4 1760.2h0M1942.4 1756.1h0M1955.7 1782.8h0M1934.2 1733.3h0M1920.0 1752.4h0M1927.0 1761.0h0M1909.6 1765.9h0M1950.7 1751.7h0M1945.8 1748.4h0M1968.4 1756.0h0M1919.2 1749.0h0M1980.9 1754.1h0M1905.5 1737.7h0M1920.6 1750.2h0M1905.1 1778.4h0M1946.5 1729.2h0M1925.7 1710.6h0M1950.1 1753.0h0M1982.4 1745.0h0M1925.7 1717.6h0M1941.1 1755.1h0M1945.6 1752.6h0M1924.8 1788.4h0M1915.5 1762.5h0M1934.4 1767.2h0M1945.7 1702.9h0M1956.0 1698.8h0M1958.0 1758.8h0M1902.2 1772.2h0M1943.6 1752.2h0M1972.8 1760.4h0M1909.8 1755.8h0M1934.5 1739.7h0M1904.0 1811.9h0M1933.2 1765.4h0M1991.5 1734.1h0M1930.5 1777.7h0M1906.8 1733.7h0M1934.1 1778.8h0M1935.1 1740.3h0M1950.1 1719.2h0M1898.4 1751.1h0M1907.9 1769.6h0M1924.2 1796.3h0M1869.4 1717.6h0M1969.2 1720.6h0M1884.8 1769.0h0M1896.2 1763.9h0M1896.2 1782.2h0M1913.3 1714.6h0M1943.6 1711.0h0M1949.4 1803.3h0M1946.2 1749.7h0M1949.5 1758.4h0M1884.7 1741.8h0M1938.3 1700.5h0M1888.6 1738.9h0M1916.5 1765.0h0M1918.8 1704.8h0M1915.6 1719.4h0M1937.2 1736.9h0M1897.0 1772.8h0M1991.4 1750.7h0M1939.4 1738.9h0M1951.5 1812.5h0M1955.2 1715.2h0M1960.2 1736.8h0M1925.5 1760.6h0M1967.8 1710.0h0M1888.0 1712.9h0M1944.2 1715.4h0M1927.2 1740.7h0M1922.3 1728.9h0M1933.6 1769.0h0M1911.4 1796.8h0M1945.0 1768.4h0M1943.3 1725.9h0M1929.0 1756.4h0M1954.5 1740.0h0M1905.4 1752.3h0M1860.0 1739.6h0M1905.6 1759.6h0M1922.0 1760.6h0M1978.8 1771.1h0M1922.2 1743.0h0M1965.4 1732.1h0M1958.5 1779.8h0M1970.8 1720.6h0M1929.4 1708.5h0M1940.6 1764.4h0M1922.9 1752.1h0M1909.0 1806.9h0M1906.1 1718.1h0M1910.7 1701.0h0M1956.6 1739.2h0M1932.9 1793.3h0M1923.8 1758.1h0M1927.3 1787.6h0M1915.3 1734.9h0M1926.3 1738.0h0M1925.6 1749.4h0M1940.5 1754.1h0M1960.9 1764.9h0M1893.0 1756.1h0M1935.7 1722.5h0M1955.5 1735.6h0M1905.8 1754.5h0M1917.9 1766.9h0M1933.4 1769.6h0M1949.8 1756.7h0M1939.4 1730.1h0M1919.0 1733.2h0M1945.7 1740.2h0M1948.5 1756.4h0M1935.1 1760.4h0M1996.1 1790.1h0M1935.8 1775.2h0M1905.2 1779.6h0M1898.1 1773.4h0M1922.2 1742.9h0M1922.7 1777.5h0M1939.9 1723.8h0M1934.4 1720.7h0M1990.8 1756.4h0M1943.9 1730.7h0M1957.9 1771.4h0M1898.9 1775.0h0M1918.2 1785.9h0M1952.6 1710.4h0M1929.0 1721.8h0M1950.5 1735.3h0M1932.3 1740.9h0M1904.3 1770.2h0M1962.4 1742.3h0M1969.6 1751.2h0M1869.7 1777.5h0M1914.3 1814.5h0M1927.6 1753.2h0M1941.2 1788.1h0M1925.6 1720.5h0M1898.8 1790.9h0M1958.1 1696.3h0M1922.8 1716.9h0M1952.1 1756.9h0M1933.4 1739.9h0M1964.5 1696.4h0M1944.5 1798.2h0M1945.5 1733.8h0M1908.6 1706.9h0M1965.5 1775.2h0M1935.0 1736.6h0M1901.3 1749.7h0M1919.0 1765.8h0M1915.0 1750.0h0M1936.9 1746.5h0M1941.4 1732.6h0M1904.1 1736.1h0M1954.4 1727.2h0M1925.9 1746.2h0M1888.5 1742.4h0M1944.5 1743.5h0M1899.4 1758.1h0M1902.5 1758.7h0M1942.9 1780.4h0M1945.9 1775.2h0M1913.6 1779.3h0M1966.7 1741.2h0M1964.7 1788.3h0M1908.5 1743.0h0M1968.6 1781.4h0M1926.1 1770.1h0M1936.0 1747.2h0M1877.9 1748.8h0M1940.5 1730.8h0M1904.8 1740.3h0M1936.4 1761.1h0M1864.5 1752.2h0M1951.3 1729.8h0M1981.6 1746.4h0M1966.4 1723.9h0M1953.5 1766.7h0M1939.5 1765.7h0M1940.6 1777.8h0M1864.8 1725.1h0M1900.8 1709.4h0M1924.8 1758.2h0M1956.9 1761.5h0M1910.2 1775.5h0M1931.7 1721.1h0M1925.9 1754.1h0M1935.0 1741.3h0M1913.3 1744.7h0M1961.1 1783.8h0M1947.6 1791.1h0M1899.4 1711.6h0M1969.6 1718.7h0M1900.5 1723.0h0M1921.9 1751.6h0M1969.8 1766.7h0M1931.9 1746.7h0M1949.5 1769.6h0M1957.4 1739.5h0M1950.4 1751.0h0M1916.5 1757.5h0M1893.2 1740.1h0M1953.6 1753.4h0M1956.4 1770.9h0M1819.4 1736.0h0M1831.4 1746.4h0M1839.8 1729.8h0M1842.6 1748.5h0M1852.7 1762.3h0M1852.7 1765.8h0M1856.4 1754.7h0M1862.9 1706.9h0M1862.9 1713.2h0M1865.7 1727.7h0M1862.9 1747.8h0M1862.9 1790.0h0M1862.9 1808.0h0M1870.3 1841.3h0M1917.5 1877.6h0M1956.4 1869.0h0M1993.4 1869.0h0M1943.5 1846.1h0M1900.9 1832.3h0M1890.7 1824.0h0M1914.8 1824.0h0M1955.5 1824.0h0M1993.4 1824.0h0M2001.8 1824.0h0M2037.9 1742.3h0M2024.9 1743.0h0M2023.1 1792.1h0M2019.4 1785.9h0M2013.8 1776.2h0M2007.3 1730.5h0M2001.8 1708.3h0M1999.9 1767.2h0M1987.9 1760.3h0M1987.9 1767.2h0M1996.2 1724.3h0M1989.7 1727.7h0M1981.4 1695.2h0M1966.6 1695.9h0M1966.6 1704.9h0M1979.6 1704.9h0M1924.9 1687.5h0M1932.3 1691.0h0M1908.3 1693.1h0M1999.9 1801.8h0M1991.6 1798.3h0M1984.2 1803.2h0M1973.1 1815.0h0M1935.1 1815.0h0" stroke="#000" stroke-width="8.7" stroke-linecap="round" fill="none"/>
<rect x="1804.6" y="1618.3" width="277.7" height="277.0" fill="none" stroke="#111" stroke-width="1.65"/>
<path d="M1804.6 1895.3v11M1897.2 1895.3v11M1989.7 1895.3v11M2082.3 1895.3v11M1804.6 1618.3h-11.2M1804.6 1687.5h-11.2M1804.6 1756.8h-11.2M1804.6 1826.0h-11.2M1804.6 1895.3h-11.2" stroke="#111" stroke-width="1.65" fill="none"/>
<text x="1804.6" y="1929.4" font-size="20.5" fill="#000" text-anchor="middle">30</text>
<text x="1897.2" y="1929.4" font-size="20.5" fill="#000" text-anchor="middle">35</text>
<text x="1989.7" y="1929.4" font-size="20.5" fill="#000" text-anchor="middle">40</text>
<text x="2082.3" y="1929.4" font-size="20.5" fill="#000" text-anchor="middle">45</text>
<text x="1789.2" y="1626.7" font-size="20.5" text-anchor="end" fill="#000">10<tspan dy="-8.2" font-size="15.0">-1</tspan></text>
<text x="1789.2" y="1696.0" font-size="20.5" text-anchor="end" fill="#000">10<tspan dy="-8.2" font-size="15.0">-2</tspan></text>
<text x="1789.2" y="1765.2" font-size="20.5" text-anchor="end" fill="#000">10<tspan dy="-8.2" font-size="15.0">-3</tspan></text>
<text x="1789.2" y="1834.5" font-size="20.5" text-anchor="end" fill="#000">10<tspan dy="-8.2" font-size="15.0">-4</tspan></text>
<text x="1789.2" y="1903.7" font-size="20.5" text-anchor="end" fill="#000">10<tspan dy="-8.2" font-size="15.0">-5</tspan></text>
<text x="1949.2" y="1960.9" font-size="23.3" text-anchor="middle" fill="#000" textLength="300.0" lengthAdjust="spacing">CDR3Jβ oligo GC content (%)</text>
<text transform="translate(1732.4 1756.8) rotate(-90)" font-size="23.3" text-anchor="middle" fill="#000" textLength="138.0" lengthAdjust="spacing">α-β frequency</text>
</g>
</g>
<g id="panel-f">
<text x="0.8" y="2081.5" font-size="50.5" fill="#231f20">f</text>
<g id="plot7" class="pl">
<rect x="151.9" y="2100.0" width="277.2" height="277.4" fill="#eeefef"/>
<clipPath id="cp7"><rect x="151.9" y="2100.0" width="277.2" height="277.4"/></clipPath>
<path d="M304.4 2106.2h0M248.9 2100.8h0M311.3 2102.7h0M325.2 2101.3h0M332.1 2101.0h0M269.7 2100.6h0M276.6 2109.3h0M318.2 2101.2h0M283.6 2109.5h0M297.4 2104.5h0M339.0 2104.5h0M318.2 2105.0h0M373.7 2106.3h0M311.3 2104.0h0M366.7 2101.9h0M345.9 2108.0h0M290.5 2100.8h0M304.4 2102.1h0M297.4 2100.1h0M352.9 2110.2h0M283.6 2101.7h0M283.6 2104.1h0M311.3 2105.6h0M318.2 2103.3h0M248.9 2101.8h0M311.3 2116.4h0M290.5 2102.4h0M304.4 2102.8h0M311.3 2100.2h0M297.4 2106.9h0M345.9 2102.0h0M325.2 2112.8h0M297.4 2102.0h0M304.4 2105.7h0M345.9 2104.0h0M332.1 2100.1h0M352.9 2102.7h0M297.4 2101.2h0M311.3 2100.6h0M325.2 2100.4h0M304.4 2108.0h0M366.7 2106.1h0M339.0 2111.2h0M290.5 2100.8h0M248.9 2104.1h0M332.1 2104.7h0M276.6 2100.1h0M276.6 2102.1h0M242.0 2106.0h0M352.9 2108.6h0M311.3 2105.0h0M304.4 2112.0h0M318.2 2105.2h0M311.3 2105.1h0M311.3 2100.4h0M325.2 2100.1h0M297.4 2106.4h0M304.4 2102.4h0M332.1 2110.1h0M318.2 2117.2h0M304.4 2115.5h0M366.7 2104.8h0M248.9 2100.8h0M269.7 2108.4h0M359.8 2108.7h0M318.2 2120.0h0M242.0 2101.9h0M290.5 2102.4h0M325.2 2100.2h0M255.9 2111.1h0M325.2 2108.6h0M283.6 2102.7h0M359.8 2101.7h0M304.4 2100.6h0M318.2 2103.4h0M269.7 2104.6h0M311.3 2104.9h0M290.5 2101.1h0M269.7 2101.7h0M255.9 2102.3h0M380.6 2102.0h0M311.3 2101.3h0M262.8 2103.9h0M290.5 2115.5h0M359.8 2100.4h0M366.7 2109.8h0M283.6 2107.2h0M311.3 2109.1h0M339.0 2104.9h0M290.5 2106.4h0M262.8 2100.3h0M269.7 2108.4h0M304.4 2103.4h0M276.6 2100.6h0M255.9 2105.0h0M297.4 2110.1h0M339.0 2119.8h0M332.1 2104.2h0M297.4 2118.1h0M373.7 2101.5h0M276.6 2101.9h0M304.4 2122.4h0M255.9 2100.2h0M332.1 2112.1h0M297.4 2109.0h0M242.0 2101.0h0M276.6 2108.9h0M373.7 2101.5h0M332.1 2104.0h0M311.3 2102.6h0M339.0 2102.0h0M242.0 2100.7h0M276.6 2102.8h0M255.9 2101.5h0M276.6 2101.2h0M290.5 2102.9h0M325.2 2100.5h0M345.9 2100.6h0M339.0 2100.5h0M283.6 2100.1h0M283.6 2102.9h0M304.4 2102.3h0M325.2 2101.3h0M276.6 2100.5h0M290.5 2100.5h0M318.2 2104.9h0M269.7 2104.2h0M325.2 2108.4h0M352.9 2101.4h0M262.8 2101.5h0M221.2 2109.5h0M304.4 2105.6h0M262.8 2110.2h0M311.3 2103.6h0M290.5 2104.5h0M318.2 2107.2h0M345.9 2102.6h0M332.1 2101.4h0M290.5 2106.1h0M262.8 2101.4h0M311.3 2114.0h0M221.2 2110.8h0M276.6 2102.9h0M304.4 2103.5h0M276.6 2108.2h0M283.6 2109.9h0M242.0 2101.3h0M242.0 2111.8h0M235.1 2100.1h0M325.2 2101.7h0M228.1 2103.1h0M332.1 2109.8h0M269.7 2110.3h0M325.2 2100.9h0M311.3 2101.9h0M332.1 2104.0h0M345.9 2104.1h0M269.7 2100.6h0M262.8 2104.9h0M283.6 2100.8h0M269.7 2102.1h0M325.2 2103.1h0M297.4 2103.7h0M304.4 2101.9h0M318.2 2102.1h0M283.6 2102.2h0M345.9 2105.2h0M235.1 2104.3h0M311.3 2103.1h0M318.2 2100.2h0M269.7 2104.8h0M276.6 2105.3h0M332.1 2102.2h0M290.5 2111.9h0M228.1 2102.0h0M248.9 2102.0h0M339.0 2111.9h0M269.7 2100.1h0M352.9 2117.7h0M352.9 2102.8h0M290.5 2106.4h0M318.2 2101.2h0M269.7 2103.6h0M283.6 2105.6h0M276.6 2105.3h0M325.2 2102.3h0M248.9 2100.9h0M297.4 2115.2h0M304.4 2105.3h0M318.2 2102.2h0M221.2 2101.2h0M235.1 2103.1h0M269.7 2120.0h0M290.5 2102.8h0M304.4 2100.6h0M311.3 2100.3h0M373.7 2104.9h0M325.2 2118.9h0M325.2 2103.2h0M283.6 2101.4h0M332.1 2104.1h0M325.2 2102.4h0M325.2 2106.2h0M297.4 2100.7h0M325.2 2100.1h0M359.8 2104.5h0M269.7 2100.7h0M221.2 2106.5h0M332.1 2100.6h0M325.2 2102.6h0M290.5 2104.1h0M283.6 2100.1h0M311.3 2103.9h0M283.6 2102.3h0M255.9 2103.0h0M283.6 2100.1h0M318.2 2105.1h0M276.6 2102.6h0M283.6 2125.8h0M311.3 2107.0h0M283.6 2106.7h0M304.4 2103.8h0M297.4 2106.3h0M262.8 2101.1h0M304.4 2100.0h0M255.9 2115.1h0M339.0 2109.8h0M262.8 2100.8h0M290.5 2104.9h0M228.1 2110.7h0M283.6 2100.9h0M255.9 2104.3h0M359.8 2119.8h0M297.4 2107.7h0M318.2 2104.7h0M235.1 2104.3h0M255.9 2102.2h0M290.5 2104.3h0M248.9 2104.0h0M345.9 2105.1h0M283.6 2101.5h0M304.4 2105.3h0M311.3 2105.7h0M297.4 2111.4h0M332.1 2100.2h0M276.6 2100.4h0M311.3 2106.5h0M345.9 2102.5h0M311.3 2101.8h0M304.4 2123.1h0M290.5 2103.0h0M304.4 2101.9h0M325.2 2100.2h0M290.5 2108.9h0M235.1 2106.6h0M304.4 2108.4h0M297.4 2106.8h0M318.2 2100.8h0M304.4 2101.4h0M359.8 2100.0h0M255.9 2100.2h0M262.8 2106.1h0M325.2 2103.0h0M262.8 2105.2h0M311.3 2100.0h0M297.4 2103.4h0M228.1 2106.4h0M325.2 2101.0h0M352.9 2107.0h0M304.4 2110.3h0M248.9 2105.8h0M332.1 2114.9h0M262.8 2103.3h0M297.4 2100.0h0M318.2 2105.5h0M269.7 2106.0h0M235.1 2102.9h0M297.4 2102.0h0M297.4 2101.8h0M269.7 2101.4h0M269.7 2100.6h0M325.2 2100.4h0M297.4 2100.1h0M283.6 2111.8h0M276.6 2104.3h0M304.4 2107.7h0M304.4 2101.5h0M290.5 2104.8h0M248.9 2108.2h0M283.6 2100.4h0M276.6 2104.8h0M304.4 2103.6h0M345.9 2102.2h0M332.1 2105.6h0M325.2 2101.0h0M304.4 2100.0h0M290.5 2101.6h0M311.3 2102.6h0M283.6 2100.8h0M283.6 2102.2h0M269.7 2104.2h0M297.4 2104.9h0M297.4 2105.9h0M366.7 2100.3h0M318.2 2101.4h0M283.6 2102.9h0M325.2 2110.3h0M283.6 2101.3h0M339.0 2108.1h0M325.2 2100.2h0M269.7 2102.9h0M262.8 2104.7h0M297.4 2106.0h0M297.4 2105.7h0M311.3 2101.7h0M325.2 2104.6h0M262.8 2103.0h0M269.7 2104.3h0M311.3 2104.8h0M332.1 2100.3h0M255.9 2101.8h0M242.0 2116.1h0M339.0 2102.0h0M332.1 2100.2h0M339.0 2101.4h0M262.8 2102.3h0M290.5 2106.5h0M311.3 2101.0h0M318.2 2103.5h0M297.4 2105.9h0M297.4 2103.8h0M339.0 2101.4h0M283.6 2105.9h0M276.6 2108.5h0M283.6 2103.2h0M283.6 2100.6h0M304.4 2112.1h0M290.5 2101.5h0M283.6 2100.0h0M352.9 2120.2h0M311.3 2103.3h0M290.5 2102.6h0M345.9 2101.9h0M276.6 2102.1h0M297.4 2106.9h0M297.4 2101.1h0M276.6 2106.9h0M283.6 2107.5h0M304.4 2101.3h0M248.9 2117.5h0M283.6 2100.8h0M311.3 2102.3h0M311.3 2110.1h0M311.3 2109.6h0M290.5 2100.3h0M325.2 2103.8h0M297.4 2101.5h0M297.4 2104.8h0M297.4 2100.1h0M318.2 2101.9h0M290.5 2101.4h0M352.9 2113.3h0M255.9 2103.1h0M325.2 2101.4h0M318.2 2103.8h0M255.9 2116.3h0M325.2 2110.1h0M318.2 2111.5h0M276.6 2102.5h0M311.3 2100.1h0M325.2 2115.8h0M290.5 2105.4h0M283.6 2103.7h0M269.7 2101.7h0M311.3 2100.5h0M304.4 2103.6h0M248.9 2105.5h0M262.8 2100.7h0M276.6 2106.3h0M283.6 2102.5h0M283.6 2108.6h0M276.6 2102.2h0M325.2 2100.4h0M332.1 2106.3h0M304.4 2105.1h0M221.2 2104.8h0M290.5 2103.3h0M318.2 2106.0h0M297.4 2101.8h0M311.3 2101.4h0M304.4 2110.4h0M242.0 2106.6h0M339.0 2108.9h0M325.2 2100.7h0M283.6 2107.9h0M311.3 2106.5h0M290.5 2103.7h0M290.5 2102.6h0M345.9 2100.3h0M255.9 2100.9h0M297.4 2108.4h0M262.8 2112.6h0M304.4 2106.1h0M318.2 2107.2h0M325.2 2102.7h0M304.4 2104.7h0M248.9 2107.0h0M311.3 2106.2h0M332.1 2104.1h0M332.1 2107.2h0M373.7 2101.1h0M318.2 2105.6h0M262.8 2100.5h0M283.6 2103.5h0M304.4 2101.5h0M339.0 2104.6h0M255.9 2101.9h0M332.1 2106.3h0M325.2 2104.4h0M269.7 2101.5h0M318.2 2110.0h0M269.7 2104.0h0M297.4 2100.5h0M290.5 2101.4h0M311.3 2106.4h0M255.9 2102.2h0M318.2 2101.3h0M221.2 2104.4h0M283.6 2104.8h0M276.6 2100.7h0M359.8 2100.4h0M318.2 2104.4h0M283.6 2105.0h0M269.7 2103.7h0M297.4 2121.1h0M276.6 2112.8h0M380.6 2111.1h0M311.3 2100.4h0M304.4 2105.7h0M373.7 2105.0h0M339.0 2100.2h0M269.7 2102.2h0M359.8 2101.3h0M276.6 2104.9h0M339.0 2101.5h0M304.4 2100.2h0M339.0 2100.2h0M297.4 2105.9h0M304.4 2101.7h0M276.6 2105.7h0M242.0 2107.0h0M332.1 2108.6h0M318.2 2100.5h0M297.4 2116.2h0M318.2 2105.3h0M304.4 2103.5h0M276.6 2103.1h0M366.7 2100.5h0M311.3 2100.8h0M290.5 2104.3h0M248.9 2108.1h0M276.6 2114.2h0M297.4 2112.8h0M290.5 2120.1h0M283.6 2102.1h0M297.4 2104.4h0M255.9 2100.9h0M297.4 2119.6h0M242.0 2108.2h0M269.7 2111.0h0M269.7 2117.9h0M332.1 2106.4h0M318.2 2104.0h0M304.4 2105.1h0M255.9 2100.3h0M283.6 2100.9h0M325.2 2102.9h0M345.9 2100.4h0M248.9 2103.4h0M283.6 2107.4h0M304.4 2100.3h0M311.3 2119.1h0M297.4 2102.0h0M325.2 2123.0h0M248.9 2102.3h0M352.9 2102.8h0M255.9 2103.5h0M304.4 2110.3h0M318.2 2102.8h0M339.0 2110.3h0M332.1 2108.3h0M332.1 2110.8h0M345.9 2100.5h0M297.4 2101.7h0M325.2 2101.9h0M352.9 2101.8h0M269.7 2100.3h0M248.9 2113.9h0M262.8 2103.6h0M352.9 2102.0h0M345.9 2124.8h0M283.6 2100.5h0M311.3 2100.2h0M318.2 2102.3h0M339.0 2107.6h0M228.1 2107.8h0M276.6 2101.9h0M290.5 2101.6h0M311.3 2110.9h0M304.4 2102.0h0M290.5 2100.4h0M311.3 2108.3h0M325.2 2100.5h0M290.5 2108.9h0M332.1 2103.0h0M332.1 2104.0h0M276.6 2101.8h0M318.2 2117.2h0M373.7 2100.6h0M366.7 2100.9h0M304.4 2101.7h0M255.9 2101.2h0M304.4 2102.1h0M290.5 2109.0h0M332.1 2103.3h0M255.9 2102.2h0M290.5 2102.3h0M311.3 2106.4h0M283.6 2104.4h0M339.0 2107.4h0M255.9 2108.5h0M255.9 2125.9h0M290.5 2100.5h0M332.1 2108.5h0M290.5 2101.8h0M276.6 2100.3h0M332.1 2101.8h0M311.3 2106.7h0M283.6 2102.3h0M304.4 2100.6h0M186.6 2103.6h0M200.4 2109.2h0M207.3 2115.8h0M401.4 2106.1h0M380.6 2102.8h0M373.7 2112.5h0M269.7 2162.4h0M290.5 2155.5h0M304.4 2147.2h0M325.2 2150.8h0M332.1 2136.6h0M339.0 2171.6h0M352.9 2255.3h0M283.6 2132.5h0" stroke="#000" stroke-width="8.7" stroke-linecap="round" fill="none" clip-path="url(#cp7)"/>
<rect x="151.9" y="2100.0" width="277.2" height="277.4" fill="none" stroke="#111" stroke-width="1.65"/>
<path d="M151.9 2377.4v11M221.2 2377.4v11M290.5 2377.4v11M359.8 2377.4v11M429.1 2377.4v11M151.9 2100.0h-11.2M151.9 2155.5h-11.2M151.9 2211.0h-11.2M151.9 2266.4h-11.2M151.9 2321.9h-11.2M151.9 2377.4h-11.2" stroke="#111" stroke-width="1.65" fill="none"/>
<text x="151.9" y="2410.4" font-size="20.5" fill="#000" text-anchor="middle">52</text>
<text x="221.2" y="2410.4" font-size="20.5" fill="#000" text-anchor="middle">53</text>
<text x="290.5" y="2410.4" font-size="20.5" fill="#000" text-anchor="middle">54</text>
<text x="359.8" y="2410.4" font-size="20.5" fill="#000" text-anchor="middle">55</text>
<text x="429.1" y="2410.4" font-size="20.5" fill="#000" text-anchor="middle">56</text>
<text x="137.7" y="2107.2" font-size="20.5" fill="#000" text-anchor="end">100</text>
<text x="137.7" y="2162.7" font-size="20.5" fill="#000" text-anchor="end">80</text>
<text x="137.7" y="2218.2" font-size="20.5" fill="#000" text-anchor="end">60</text>
<text x="137.7" y="2273.6" font-size="20.5" fill="#000" text-anchor="end">40</text>
<text x="137.7" y="2329.1" font-size="20.5" fill="#000" text-anchor="end">20</text>
<text x="137.7" y="2384.6" font-size="20.5" fill="#000" text-anchor="end">0</text>
<text x="290.5" y="2444.0" font-size="23.3" text-anchor="middle" fill="#000" textLength="116.5" lengthAdjust="spacing">Zip Tm (°C)</text>
<text transform="translate(86.7 2238.7) rotate(-90)" font-size="23.3" text-anchor="middle" fill="#000" textLength="203.0" lengthAdjust="spacing">α-β pairing accuracy</text>
</g>
<g id="plot8" class="pl">
<rect x="562.5" y="2100.0" width="277.5" height="277.4" fill="#eeefef"/>
<clipPath id="cp8"><rect x="562.5" y="2100.0" width="277.5" height="277.4"/></clipPath>
<path d="M677.0 2109.9h0M683.9 2104.5h0M656.2 2102.9h0M687.4 2101.1h0M663.1 2100.5h0M715.1 2105.7h0M697.8 2106.0h0M666.6 2107.3h0M704.7 2103.7h0M659.6 2101.9h0M694.3 2106.9h0M701.2 2106.1h0M694.3 2106.0h0M670.0 2106.1h0M690.8 2102.7h0M690.8 2106.9h0M694.3 2101.7h0M722.1 2108.4h0M725.5 2103.7h0M722.1 2101.8h0M680.4 2101.9h0M677.0 2100.4h0M694.3 2101.1h0M701.2 2108.4h0M652.7 2101.7h0M680.4 2101.9h0M729.0 2102.1h0M670.0 2101.8h0M677.0 2100.1h0M680.4 2100.0h0M701.2 2102.6h0M690.8 2102.9h0M687.4 2124.2h0M663.1 2104.0h0M704.7 2113.1h0M694.3 2106.4h0M680.4 2102.2h0M694.3 2102.1h0M708.2 2102.8h0M663.1 2100.1h0M663.1 2105.5h0M673.5 2101.6h0M677.0 2109.3h0M680.4 2100.7h0M680.4 2101.1h0M715.1 2104.9h0M687.4 2108.0h0M711.7 2101.4h0M680.4 2105.9h0M690.8 2119.6h0M718.6 2100.8h0M722.1 2105.0h0M683.9 2109.9h0M677.0 2100.4h0M701.2 2108.8h0M670.0 2107.1h0M683.9 2103.0h0M659.6 2102.2h0M694.3 2106.2h0M694.3 2111.2h0M725.5 2104.2h0M701.2 2113.0h0M680.4 2103.1h0M690.8 2124.3h0M666.6 2100.3h0M694.3 2103.9h0M687.4 2112.4h0M701.2 2107.8h0M711.7 2103.7h0M652.7 2102.7h0M697.8 2103.4h0M708.2 2101.2h0M670.0 2102.0h0M729.0 2110.8h0M677.0 2106.6h0M739.4 2100.4h0M708.2 2103.8h0M711.7 2101.3h0M697.8 2102.7h0M711.7 2103.3h0M673.5 2100.8h0M677.0 2117.6h0M652.7 2101.5h0M704.7 2103.3h0M680.4 2120.3h0M708.2 2105.1h0M704.7 2102.8h0M666.6 2103.2h0M704.7 2102.2h0M697.8 2100.3h0M697.8 2100.5h0M701.2 2108.3h0M690.8 2102.8h0M694.3 2100.7h0M711.7 2112.6h0M673.5 2106.9h0M670.0 2108.2h0M677.0 2109.2h0M711.7 2110.9h0M687.4 2106.7h0M729.0 2100.6h0M739.4 2101.3h0M677.0 2101.1h0M683.9 2119.7h0M697.8 2120.8h0M718.6 2101.9h0M687.4 2102.3h0M673.5 2102.2h0M708.2 2106.8h0M722.1 2119.6h0M673.5 2100.3h0M704.7 2105.6h0M697.8 2106.2h0M677.0 2100.1h0M683.9 2100.4h0M697.8 2102.7h0M694.3 2105.5h0M687.4 2110.2h0M670.0 2113.0h0M697.8 2108.3h0M680.4 2109.3h0M694.3 2109.1h0M680.4 2103.1h0M697.8 2103.3h0M708.2 2103.2h0M697.8 2102.9h0M704.7 2100.7h0M666.6 2105.4h0M701.2 2100.5h0M697.8 2104.2h0M680.4 2106.7h0M690.8 2104.4h0M715.1 2103.5h0M694.3 2103.3h0M683.9 2100.5h0M649.2 2106.3h0M701.2 2108.0h0M680.4 2103.6h0M697.8 2105.6h0M687.4 2112.5h0M701.2 2103.5h0M694.3 2100.1h0M687.4 2104.4h0M701.2 2101.0h0M708.2 2106.4h0M649.2 2104.7h0M694.3 2106.3h0M680.4 2101.1h0M670.0 2100.7h0M718.6 2103.0h0M711.7 2109.5h0M673.5 2102.2h0M670.0 2110.1h0M708.2 2101.5h0M680.4 2108.2h0M687.4 2102.1h0M652.7 2100.8h0M690.8 2102.2h0M715.1 2103.9h0M683.9 2102.5h0M690.8 2106.3h0M725.5 2111.7h0M708.2 2100.6h0M718.6 2100.2h0M704.7 2100.9h0M715.1 2100.4h0M659.6 2101.3h0M677.0 2101.6h0M659.6 2109.1h0M735.9 2105.9h0M694.3 2104.4h0M690.8 2101.7h0M677.0 2115.3h0M673.5 2105.4h0M701.2 2100.2h0M735.9 2101.5h0M690.8 2100.0h0M694.3 2103.5h0M666.6 2102.5h0M690.8 2110.0h0M701.2 2105.1h0M690.8 2102.4h0M704.7 2106.0h0M677.0 2113.7h0M697.8 2101.5h0M708.2 2109.4h0M704.7 2104.5h0M701.2 2101.4h0M690.8 2105.7h0M673.5 2102.0h0M704.7 2103.3h0M683.9 2106.4h0M673.5 2100.3h0M708.2 2110.1h0M659.6 2106.2h0M680.4 2100.4h0M708.2 2103.0h0M711.7 2107.1h0M683.9 2109.8h0M694.3 2101.1h0M701.2 2110.9h0M690.8 2104.0h0M677.0 2104.0h0M701.2 2101.1h0M694.3 2119.2h0M694.3 2100.5h0M715.1 2106.5h0M697.8 2106.3h0M683.9 2100.6h0M694.3 2106.2h0M729.0 2103.2h0M677.0 2101.0h0M687.4 2103.9h0M677.0 2107.5h0M697.8 2101.6h0M666.6 2101.6h0M701.2 2102.1h0M708.2 2109.0h0M677.0 2107.8h0M677.0 2100.5h0M663.1 2104.5h0M694.3 2107.8h0M670.0 2102.8h0M680.4 2107.3h0M683.9 2110.9h0M680.4 2104.8h0M708.2 2103.2h0M722.1 2105.4h0M652.7 2105.5h0M677.0 2104.2h0M697.8 2102.6h0M673.5 2106.7h0M680.4 2110.8h0M697.8 2102.2h0M718.6 2100.0h0M715.1 2102.1h0M687.4 2101.2h0M694.3 2102.8h0M683.9 2102.5h0M687.4 2103.8h0M670.0 2119.7h0M659.6 2102.0h0M683.9 2105.8h0M711.7 2112.3h0M708.2 2107.0h0M656.2 2101.3h0M687.4 2103.4h0M680.4 2105.8h0M697.8 2101.4h0M670.0 2107.6h0M711.7 2100.4h0M687.4 2107.0h0M704.7 2103.4h0M708.2 2101.0h0M656.2 2100.3h0M687.4 2105.5h0M722.1 2101.1h0M694.3 2102.2h0M711.7 2107.0h0M701.2 2105.6h0M683.9 2106.2h0M697.8 2102.8h0M711.7 2105.1h0M718.6 2108.0h0M722.1 2103.4h0M670.0 2100.4h0M708.2 2107.3h0M666.6 2104.5h0M690.8 2103.1h0M687.4 2100.5h0M704.7 2100.9h0M697.8 2110.4h0M715.1 2104.6h0M680.4 2103.0h0M708.2 2105.3h0M701.2 2106.2h0M690.8 2107.9h0M670.0 2110.9h0M704.7 2107.4h0M697.8 2118.5h0M708.2 2100.6h0M690.8 2101.1h0M687.4 2100.2h0M701.2 2102.6h0M701.2 2103.3h0M704.7 2108.4h0M729.0 2100.3h0M680.4 2100.8h0M732.5 2111.1h0M694.3 2116.4h0M711.7 2100.1h0M677.0 2113.5h0M732.5 2104.6h0M677.0 2101.5h0M711.7 2110.4h0M673.5 2108.6h0M670.0 2109.2h0M708.2 2119.9h0M708.2 2108.8h0M680.4 2104.0h0M739.4 2100.7h0M687.4 2101.3h0M722.1 2124.5h0M673.5 2101.3h0M673.5 2102.7h0M694.3 2102.0h0M673.5 2121.1h0M701.2 2102.1h0M649.2 2102.4h0M694.3 2103.8h0M680.4 2101.8h0M673.5 2111.0h0M697.8 2109.6h0M687.4 2111.5h0M683.9 2100.1h0M708.2 2104.9h0M697.8 2102.3h0M701.2 2103.1h0M718.6 2104.0h0M690.8 2105.9h0M708.2 2105.3h0M683.9 2100.1h0M704.7 2108.5h0M701.2 2102.3h0M680.4 2110.8h0M663.1 2102.1h0M666.6 2100.4h0M673.5 2100.2h0M704.7 2118.2h0M690.8 2118.0h0M687.4 2104.6h0M701.2 2115.0h0M708.2 2101.2h0M718.6 2100.2h0M680.4 2105.7h0M704.7 2115.7h0M704.7 2106.1h0M673.5 2103.9h0M694.3 2108.3h0M673.5 2101.9h0M687.4 2108.3h0M701.2 2100.2h0M659.6 2101.3h0M677.0 2100.3h0M677.0 2100.3h0M694.3 2108.9h0M677.0 2101.6h0M701.2 2108.0h0M677.0 2103.1h0M683.9 2108.4h0M704.7 2102.9h0M697.8 2104.9h0M694.3 2100.0h0M690.8 2102.4h0M711.7 2100.9h0M718.6 2102.9h0M683.9 2114.3h0M677.0 2107.5h0M673.5 2102.4h0M725.5 2116.9h0M677.0 2105.0h0M666.6 2105.5h0M697.8 2103.9h0M711.7 2105.1h0M670.0 2104.1h0M690.8 2110.0h0M663.1 2105.0h0M680.4 2101.1h0M725.5 2103.4h0M694.3 2102.5h0M687.4 2104.0h0M694.3 2104.8h0M697.8 2108.4h0M690.8 2102.8h0M670.0 2100.8h0M670.0 2102.5h0M732.5 2105.6h0M677.0 2104.5h0M715.1 2101.6h0M677.0 2103.3h0M718.6 2103.2h0M704.7 2101.6h0M687.4 2101.4h0M732.5 2102.0h0M673.5 2115.1h0M687.4 2103.9h0M677.0 2104.6h0M677.0 2104.2h0M683.9 2103.3h0M673.5 2101.9h0M687.4 2101.3h0M722.1 2114.3h0M659.6 2102.6h0M670.0 2104.2h0M673.5 2109.6h0M683.9 2101.6h0M711.7 2104.1h0M708.2 2103.3h0M701.2 2102.2h0M697.8 2102.8h0M739.4 2101.3h0M670.0 2110.6h0M670.0 2104.7h0M690.8 2100.2h0M697.8 2115.0h0M687.4 2111.8h0M677.0 2100.7h0M666.6 2103.0h0M687.4 2116.1h0M680.4 2102.1h0M683.9 2101.5h0M670.0 2107.3h0M718.6 2100.1h0M701.2 2116.5h0M729.0 2104.1h0M683.9 2106.5h0M694.3 2102.4h0M687.4 2102.7h0M694.3 2100.8h0M687.4 2100.1h0M690.8 2103.1h0M656.2 2100.6h0M687.4 2100.7h0M704.7 2100.7h0M656.2 2105.4h0M687.4 2105.8h0M704.7 2102.6h0M718.6 2100.1h0M690.8 2100.3h0M701.2 2101.0h0M725.5 2102.5h0M718.6 2100.3h0M683.9 2104.1h0M680.4 2102.0h0M711.7 2100.7h0M697.8 2101.7h0M680.4 2110.8h0M687.4 2105.3h0M697.8 2112.2h0M687.4 2100.0h0M687.4 2102.4h0M687.4 2104.2h0M663.1 2101.4h0M725.5 2108.7h0M715.1 2102.7h0M722.1 2101.9h0M690.8 2100.4h0M694.3 2102.1h0M704.7 2104.6h0M708.2 2107.6h0M656.2 2104.3h0M697.8 2112.3h0M673.5 2101.8h0M690.8 2100.0h0M680.4 2103.6h0M725.5 2106.5h0M701.2 2100.0h0M690.8 2111.4h0M718.6 2117.4h0M690.8 2111.3h0M677.0 2106.0h0M687.4 2106.4h0M683.9 2101.0h0M694.3 2100.1h0M708.2 2106.0h0M690.8 2102.9h0M690.8 2113.7h0M711.7 2104.9h0M697.8 2121.0h0M711.7 2102.7h0M694.3 2114.4h0M666.6 2100.6h0M670.0 2104.4h0M659.6 2104.2h0M715.1 2105.5h0M701.2 2101.3h0M683.9 2103.0h0M673.5 2100.1h0M701.2 2101.5h0M690.8 2120.1h0M697.8 2103.3h0M677.0 2107.9h0M670.0 2100.1h0M722.1 2110.0h0M673.5 2101.0h0M690.8 2101.1h0M718.6 2100.5h0M656.2 2107.5h0M704.7 2108.2h0M694.3 2101.1h0M690.8 2110.1h0M697.8 2104.0h0M670.0 2102.2h0M649.2 2111.1h0M729.0 2101.6h0M687.4 2100.1h0M708.2 2102.6h0M715.1 2100.9h0M697.8 2111.7h0M701.2 2101.0h0M704.7 2100.0h0M722.1 2105.1h0M701.2 2100.9h0M715.1 2103.1h0M687.4 2105.5h0M683.9 2100.0h0M694.3 2106.4h0M701.2 2104.5h0M701.2 2101.8h0M729.0 2100.6h0M708.2 2122.8h0M694.3 2100.4h0M732.5 2101.4h0M697.8 2108.4h0M697.8 2104.3h0M701.2 2100.4h0M687.4 2112.4h0M670.0 2107.6h0M694.3 2105.7h0M687.4 2103.5h0M677.0 2108.7h0M694.3 2109.5h0M687.4 2113.9h0M680.4 2106.9h0M659.6 2100.3h0M690.8 2100.9h0M725.5 2100.6h0M708.2 2102.7h0M715.1 2100.4h0M690.8 2101.3h0M711.7 2107.1h0M680.4 2106.7h0M683.9 2108.4h0M701.2 2100.5h0M666.6 2100.1h0M694.3 2100.3h0M697.8 2102.4h0M725.5 2102.1h0M680.4 2104.8h0M701.2 2113.4h0M604.1 2105.5h0M621.5 2103.9h0M642.3 2103.9h0M763.7 2125.0h0M760.2 2109.4h0M742.9 2111.7h0M735.9 2115.8h0M673.5 2171.6h0M666.6 2255.3h0M687.4 2162.1h0M683.9 2155.5h0M687.4 2150.8h0M683.9 2146.6h0M690.8 2136.1h0M690.8 2131.6h0" stroke="#000" stroke-width="8.7" stroke-linecap="round" fill="none" clip-path="url(#cp8)"/>
<rect x="562.5" y="2100.0" width="277.5" height="277.4" fill="none" stroke="#111" stroke-width="1.65"/>
<path d="M562.5 2377.4v11M631.9 2377.4v11M701.2 2377.4v11M770.6 2377.4v11M840.0 2377.4v11M562.5 2100.0h-11.2M562.5 2155.5h-11.2M562.5 2211.0h-11.2M562.5 2266.4h-11.2M562.5 2321.9h-11.2M562.5 2377.4h-11.2" stroke="#111" stroke-width="1.65" fill="none"/>
<text x="562.5" y="2410.4" font-size="20.5" fill="#000" text-anchor="middle">140</text>
<text x="631.9" y="2410.4" font-size="20.5" fill="#000" text-anchor="middle">160</text>
<text x="701.2" y="2410.4" font-size="20.5" fill="#000" text-anchor="middle">180</text>
<text x="770.6" y="2410.4" font-size="20.5" fill="#000" text-anchor="middle">200</text>
<text x="840.0" y="2410.4" font-size="20.5" fill="#000" text-anchor="middle">220</text>
<text x="548.3" y="2107.2" font-size="20.5" fill="#000" text-anchor="end">100</text>
<text x="548.3" y="2162.7" font-size="20.5" fill="#000" text-anchor="end">80</text>
<text x="548.3" y="2218.2" font-size="20.5" fill="#000" text-anchor="end">60</text>
<text x="548.3" y="2273.6" font-size="20.5" fill="#000" text-anchor="end">40</text>
<text x="548.3" y="2329.1" font-size="20.5" fill="#000" text-anchor="end">20</text>
<text x="548.3" y="2384.6" font-size="20.5" fill="#000" text-anchor="end">0</text>
<text x="701.9" y="2444.0" font-size="23.3" text-anchor="middle" fill="#000" textLength="247.7" lengthAdjust="spacing">CDR3Jα oligo length (nt)</text>
<text transform="translate(497.3 2238.7) rotate(-90)" font-size="23.3" text-anchor="middle" fill="#000" textLength="203.0" lengthAdjust="spacing">α-β pairing accuracy</text>
</g>
<g id="plot9" class="pl">
<rect x="976.0" y="2100.0" width="277.5" height="277.4" fill="#eeefef"/>
<clipPath id="cp9"><rect x="976.0" y="2100.0" width="277.5" height="277.4"/></clipPath>
<path d="M1100.9 2101.0h0M1093.9 2108.3h0M1100.9 2102.0h0M1114.8 2111.7h0M1142.5 2106.3h0M1093.9 2110.3h0M1052.3 2101.3h0M1073.1 2122.9h0M1059.2 2105.4h0M1142.5 2102.4h0M1059.2 2110.1h0M1177.2 2102.9h0M1107.8 2101.3h0M1100.9 2103.0h0M1163.3 2100.0h0M1087.0 2101.9h0M1087.0 2112.9h0M1142.5 2104.2h0M1135.6 2100.4h0M1059.2 2102.8h0M1135.6 2104.1h0M1128.6 2108.3h0M1045.4 2104.8h0M1093.9 2104.7h0M1149.4 2101.0h0M1114.8 2106.0h0M1142.5 2101.6h0M1177.2 2102.1h0M1149.4 2104.1h0M1198.0 2108.6h0M1135.6 2115.6h0M1073.1 2105.8h0M1177.2 2101.9h0M1073.1 2107.4h0M1149.4 2100.9h0M1135.6 2108.4h0M1066.2 2107.8h0M1073.1 2100.4h0M1093.9 2103.3h0M1121.7 2106.0h0M1170.2 2104.5h0M1107.8 2101.3h0M1191.1 2102.5h0M1149.4 2112.8h0M1073.1 2103.3h0M1073.1 2102.4h0M1107.8 2110.5h0M1080.1 2107.1h0M1100.9 2106.4h0M1142.5 2112.5h0M1114.8 2101.0h0M1149.4 2106.3h0M1073.1 2100.8h0M1066.2 2107.9h0M1038.4 2108.0h0M1024.6 2100.4h0M1087.0 2100.7h0M1107.8 2102.8h0M1093.9 2100.5h0M1107.8 2102.7h0M1204.9 2101.6h0M1052.3 2100.9h0M1093.9 2114.5h0M1080.1 2100.3h0M1066.2 2100.2h0M1170.2 2102.5h0M1107.8 2105.1h0M1163.3 2101.1h0M1052.3 2115.5h0M1198.0 2111.1h0M1177.2 2100.8h0M1066.2 2107.6h0M1107.8 2118.8h0M1100.9 2100.6h0M1135.6 2100.3h0M1045.4 2108.6h0M1128.6 2100.1h0M1142.5 2102.1h0M1080.1 2107.2h0M1052.3 2111.0h0M1073.1 2108.5h0M1087.0 2105.6h0M1142.5 2101.0h0M1080.1 2103.9h0M1052.3 2107.4h0M1135.6 2107.3h0M1121.7 2116.4h0M1142.5 2104.7h0M1107.8 2116.5h0M1156.4 2101.1h0M1128.6 2104.0h0M1024.6 2102.4h0M1114.8 2104.8h0M1142.5 2101.5h0M1107.8 2101.2h0M1177.2 2116.1h0M1087.0 2109.0h0M1142.5 2108.8h0M1052.3 2101.5h0M1107.8 2102.9h0M1080.1 2112.5h0M1059.2 2103.5h0M1045.4 2104.3h0M1114.8 2100.0h0M1128.6 2118.3h0M1080.1 2100.1h0M1045.4 2100.7h0M1066.2 2103.5h0M1142.5 2102.1h0M1052.3 2102.2h0M1163.3 2107.2h0M1031.5 2100.3h0M1121.7 2101.9h0M1135.6 2106.7h0M1163.3 2107.2h0M1087.0 2108.4h0M1073.1 2100.2h0M1038.4 2102.1h0M1149.4 2116.4h0M1100.9 2104.3h0M1087.0 2102.8h0M1087.0 2101.2h0M1121.7 2110.4h0M1107.8 2100.6h0M1163.3 2100.8h0M1121.7 2105.4h0M1149.4 2100.3h0M1080.1 2118.7h0M1100.9 2105.4h0M1093.9 2100.2h0M1100.9 2104.3h0M1142.5 2103.8h0M1114.8 2107.9h0M1038.4 2114.0h0M1100.9 2105.1h0M1100.9 2109.3h0M1121.7 2102.5h0M1107.8 2100.8h0M1100.9 2101.5h0M1156.4 2105.5h0M1059.2 2100.1h0M1211.9 2100.3h0M1080.1 2103.8h0M1059.2 2101.1h0M1142.5 2100.5h0M1156.4 2100.4h0M1163.3 2100.8h0M1177.2 2113.3h0M1128.6 2106.7h0M1107.8 2105.7h0M1128.6 2103.2h0M1107.8 2114.5h0M1080.1 2100.5h0M1184.1 2103.0h0M1191.1 2102.1h0M1107.8 2109.8h0M1093.9 2100.0h0M1087.0 2102.2h0M1031.5 2108.2h0M1073.1 2100.8h0M1080.1 2102.1h0M1107.8 2100.5h0M1059.2 2105.6h0M1017.6 2111.1h0M1135.6 2122.2h0M1191.1 2107.0h0M1087.0 2110.6h0M1100.9 2102.6h0M1149.4 2107.7h0M1052.3 2104.6h0M1038.4 2108.9h0M1107.8 2107.1h0M1093.9 2108.2h0M1080.1 2100.3h0M1184.1 2112.0h0M1177.2 2107.6h0M1135.6 2114.3h0M1107.8 2101.1h0M1093.9 2100.2h0M1149.4 2101.4h0M1093.9 2102.0h0M1177.2 2109.5h0M1170.2 2110.3h0M1080.1 2104.9h0M1142.5 2100.1h0M1184.1 2119.9h0M1142.5 2100.9h0M1066.2 2102.9h0M1093.9 2100.6h0M1093.9 2110.2h0M1114.8 2102.9h0M1107.8 2109.1h0M1093.9 2104.5h0M1149.4 2103.6h0M1170.2 2102.8h0M1080.1 2109.9h0M1038.4 2101.0h0M1128.6 2121.2h0M1107.8 2101.7h0M1128.6 2107.4h0M1080.1 2111.1h0M1121.7 2104.8h0M1066.2 2102.8h0M1163.3 2109.9h0M1191.1 2101.3h0M1066.2 2101.8h0M1031.5 2104.1h0M1087.0 2109.9h0M1087.0 2104.7h0M1121.7 2116.9h0M1114.8 2101.9h0M1135.6 2100.5h0M1059.2 2107.0h0M1087.0 2106.0h0M1093.9 2100.4h0M1128.6 2111.1h0M1024.6 2109.5h0M1149.4 2101.1h0M1080.1 2102.3h0M1045.4 2101.5h0M1073.1 2105.0h0M1135.6 2104.2h0M1149.4 2101.9h0M1170.2 2100.3h0M1128.6 2100.2h0M1080.1 2103.5h0M1135.6 2101.2h0M1107.8 2100.1h0M1087.0 2109.5h0M1184.1 2100.7h0M1191.1 2107.0h0M1149.4 2106.7h0M1128.6 2101.7h0M1107.8 2100.6h0M1087.0 2100.5h0M1066.2 2115.8h0M1038.4 2104.9h0M1204.9 2103.6h0M1156.4 2108.5h0M1142.5 2110.0h0M1128.6 2121.3h0M1024.6 2100.9h0M1100.9 2102.8h0M1114.8 2104.5h0M1170.2 2107.8h0M1066.2 2101.6h0M1128.6 2101.1h0M1100.9 2101.0h0M1114.8 2107.3h0M1073.1 2101.0h0M1128.6 2100.1h0M1114.8 2101.3h0M1024.6 2106.4h0M1170.2 2105.3h0M1114.8 2100.8h0M1073.1 2102.2h0M1170.2 2104.7h0M1066.2 2106.4h0M1087.0 2103.3h0M1198.0 2108.4h0M1121.7 2100.7h0M1184.1 2100.0h0M1128.6 2111.5h0M1163.3 2102.2h0M1107.8 2101.8h0M1184.1 2101.4h0M1198.0 2101.5h0M1142.5 2104.3h0M1087.0 2104.3h0M1093.9 2103.7h0M1066.2 2102.4h0M1142.5 2101.4h0M1135.6 2100.3h0M1080.1 2105.9h0M1156.4 2105.5h0M1087.0 2106.2h0M1198.0 2106.5h0M1149.4 2100.1h0M1191.1 2101.4h0M1080.1 2103.0h0M1066.2 2100.5h0M1024.6 2110.0h0M1142.5 2102.1h0M1059.2 2104.1h0M1177.2 2108.8h0M1121.7 2101.8h0M1149.4 2102.9h0M1052.3 2105.4h0M1087.0 2102.8h0M1121.7 2100.3h0M1149.4 2101.9h0M1052.3 2119.0h0M1128.6 2102.7h0M1073.1 2108.1h0M1149.4 2104.2h0M1100.9 2106.4h0M1100.9 2105.4h0M1135.6 2104.6h0M1170.2 2101.2h0M1100.9 2106.5h0M1170.2 2109.9h0M1066.2 2101.6h0M1128.6 2104.5h0M1059.2 2103.3h0M1121.7 2103.5h0M1073.1 2104.1h0M1114.8 2100.5h0M1142.5 2108.8h0M1066.2 2102.5h0M1031.5 2105.6h0M1107.8 2102.4h0M1135.6 2101.8h0M1128.6 2108.9h0M1073.1 2101.6h0M1156.4 2101.3h0M1100.9 2104.5h0M1149.4 2103.5h0M1073.1 2100.1h0M1135.6 2110.0h0M1170.2 2108.2h0M1080.1 2102.8h0M1100.9 2109.8h0M1142.5 2107.7h0M1135.6 2100.6h0M1128.6 2111.8h0M1107.8 2110.3h0M1038.4 2101.9h0M1114.8 2113.9h0M1052.3 2119.5h0M1114.8 2103.9h0M1100.9 2112.7h0M1184.1 2112.6h0M1204.9 2103.1h0M1135.6 2108.8h0M1073.1 2104.4h0M1100.9 2102.2h0M1156.4 2101.1h0M1142.5 2103.6h0M1080.1 2109.0h0M1170.2 2103.3h0M1149.4 2102.7h0M1135.6 2106.8h0M1093.9 2100.0h0M1114.8 2117.5h0M1080.1 2102.5h0M1121.7 2102.5h0M1080.1 2102.5h0M1170.2 2108.7h0M1114.8 2100.9h0M1121.7 2108.1h0M1128.6 2108.0h0M1128.6 2113.4h0M1045.4 2102.0h0M1170.2 2102.6h0M1114.8 2100.5h0M1087.0 2105.3h0M1066.2 2103.2h0M1080.1 2107.7h0M1087.0 2104.4h0M1114.8 2111.7h0M1073.1 2105.6h0M1121.7 2104.9h0M1121.7 2108.0h0M1080.1 2101.6h0M1107.8 2100.3h0M1107.8 2109.4h0M1128.6 2109.6h0M1121.7 2107.1h0M1107.8 2100.4h0M1142.5 2102.4h0M1177.2 2111.0h0M1107.8 2108.2h0M1073.1 2100.7h0M1135.6 2101.9h0M1073.1 2103.1h0M1121.7 2101.4h0M1100.9 2106.3h0M1128.6 2103.7h0M1045.4 2126.3h0M1093.9 2114.8h0M1066.2 2109.5h0M1087.0 2102.2h0M1142.5 2108.8h0M1100.9 2100.6h0M1087.0 2104.3h0M1170.2 2110.4h0M1114.8 2101.9h0M1114.8 2103.0h0M1066.2 2119.5h0M1128.6 2105.5h0M1128.6 2102.9h0M1121.7 2109.9h0M1121.7 2102.3h0M1066.2 2100.8h0M1107.8 2113.0h0M1052.3 2116.4h0M1073.1 2110.7h0M1066.2 2101.5h0M1073.1 2100.6h0M1093.9 2101.3h0M1100.9 2110.0h0M1073.1 2101.1h0M1163.3 2102.3h0M1087.0 2100.3h0M1184.1 2105.2h0M1156.4 2103.0h0M1052.3 2120.8h0M1149.4 2106.7h0M1045.4 2108.8h0M1177.2 2110.9h0M1121.7 2101.2h0M1066.2 2102.4h0M1100.9 2119.3h0M1093.9 2103.2h0M1045.4 2102.7h0M1163.3 2101.8h0M1052.3 2102.2h0M1100.9 2106.7h0M1128.6 2109.7h0M1107.8 2101.9h0M1121.7 2100.0h0M1093.9 2102.4h0M1142.5 2103.0h0M1066.2 2101.7h0M1135.6 2107.6h0M1052.3 2104.8h0M1114.8 2100.2h0M1052.3 2101.0h0M1100.9 2101.9h0M1135.6 2105.7h0M1163.3 2103.6h0M1024.6 2101.6h0M1073.1 2107.6h0M1059.2 2114.6h0M1163.3 2110.3h0M1066.2 2101.1h0M1142.5 2100.3h0M1087.0 2105.3h0M1038.4 2100.0h0M1114.8 2101.8h0M1052.3 2111.6h0M1142.5 2100.7h0M1149.4 2101.3h0M1170.2 2119.7h0M1059.2 2106.4h0M1177.2 2100.3h0M1149.4 2101.4h0M1024.6 2106.2h0M1211.9 2104.4h0M1184.1 2111.4h0M1059.2 2104.6h0M1121.7 2103.0h0M1045.4 2101.9h0M1100.9 2119.9h0M1114.8 2103.4h0M1135.6 2101.7h0M1066.2 2100.3h0M1107.8 2106.9h0M1066.2 2100.5h0M1121.7 2102.6h0M1135.6 2106.0h0M1107.8 2102.3h0M1163.3 2100.6h0M1142.5 2100.9h0M1121.7 2100.1h0M1163.3 2100.6h0M1052.3 2103.6h0M1107.8 2101.8h0M1024.6 2105.7h0M1107.8 2106.6h0M1087.0 2102.4h0M1142.5 2106.6h0M1087.0 2100.2h0M1080.1 2106.7h0M1100.9 2105.2h0M1100.9 2104.0h0M1128.6 2103.1h0M1066.2 2113.3h0M1038.4 2102.7h0M1031.5 2112.5h0M1163.3 2102.9h0M1045.4 2104.2h0M1087.0 2102.8h0M1052.3 2117.5h0M1149.4 2105.3h0M1080.1 2102.2h0M1163.3 2104.9h0M1073.1 2105.7h0M1121.7 2109.7h0M1142.5 2101.3h0M1149.4 2104.6h0M1052.3 2102.7h0M1087.0 2102.2h0M1100.9 2101.3h0M1024.6 2100.5h0M1142.5 2101.9h0M1128.6 2103.7h0M1128.6 2117.5h0M1045.4 2102.7h0M1114.8 2100.1h0M1128.6 2107.2h0M1156.4 2105.4h0M1080.1 2108.4h0M1142.5 2101.0h0M1198.0 2109.7h0M1087.0 2105.3h0M1087.0 2106.6h0M1093.9 2102.9h0M1038.4 2107.3h0M1093.9 2106.4h0M1184.1 2105.3h0M1066.2 2100.2h0M1100.9 2102.5h0M1163.3 2102.5h0M1135.6 2117.8h0M1121.7 2115.2h0M1093.9 2101.1h0M1100.9 2100.1h0M1107.8 2100.9h0M1142.5 2100.3h0M1114.8 2101.3h0M1149.4 2102.2h0M1017.6 2109.6h0M1142.5 2101.0h0M1080.1 2100.7h0M1107.8 2102.7h0M1087.0 2105.2h0M1135.6 2103.0h0M1100.9 2104.6h0M1135.6 2117.1h0M1073.1 2106.8h0M1114.8 2103.6h0M1163.3 2116.2h0M1156.4 2106.0h0M1093.9 2116.3h0M1114.8 2124.8h0M1093.9 2104.1h0M1100.9 2101.4h0M1107.8 2103.8h0M1163.3 2101.7h0M1003.8 2118.9h0M1010.7 2117.2h0M1010.7 2106.7h0M1239.6 2110.8h0M1218.8 2125.0h0M1218.8 2113.3h0M1211.9 2107.8h0M1204.9 2105.5h0M1066.2 2255.3h0M1066.2 2162.1h0M1066.2 2155.5h0M1100.9 2171.6h0M1107.8 2151.0h0M1142.5 2146.6h0M1093.9 2136.6h0M1087.0 2132.2h0" stroke="#000" stroke-width="8.7" stroke-linecap="round" fill="none" clip-path="url(#cp9)"/>
<rect x="976.0" y="2100.0" width="277.5" height="277.4" fill="none" stroke="#111" stroke-width="1.65"/>
<path d="M976.0 2377.4v11M1045.4 2377.4v11M1114.8 2377.4v11M1184.1 2377.4v11M1253.5 2377.4v11M976.0 2100.0h-11.2M976.0 2155.5h-11.2M976.0 2211.0h-11.2M976.0 2266.4h-11.2M976.0 2321.9h-11.2M976.0 2377.4h-11.2" stroke="#111" stroke-width="1.65" fill="none"/>
<text x="976.0" y="2410.4" font-size="20.5" fill="#000" text-anchor="middle">160</text>
<text x="1045.4" y="2410.4" font-size="20.5" fill="#000" text-anchor="middle">170</text>
<text x="1114.8" y="2410.4" font-size="20.5" fill="#000" text-anchor="middle">180</text>
<text x="1184.1" y="2410.4" font-size="20.5" fill="#000" text-anchor="middle">190</text>
<text x="1253.5" y="2410.4" font-size="20.5" fill="#000" text-anchor="middle">200</text>
<text x="961.8" y="2107.2" font-size="20.5" fill="#000" text-anchor="end">100</text>
<text x="961.8" y="2162.7" font-size="20.5" fill="#000" text-anchor="end">80</text>
<text x="961.8" y="2218.2" font-size="20.5" fill="#000" text-anchor="end">60</text>
<text x="961.8" y="2273.6" font-size="20.5" fill="#000" text-anchor="end">40</text>
<text x="961.8" y="2329.1" font-size="20.5" fill="#000" text-anchor="end">20</text>
<text x="961.8" y="2384.6" font-size="20.5" fill="#000" text-anchor="end">0</text>
<text x="1115.9" y="2444.0" font-size="23.3" text-anchor="middle" fill="#000" textLength="245.0" lengthAdjust="spacing">CDR3Jβ oligo length (nt)</text>
<text transform="translate(910.8 2238.7) rotate(-90)" font-size="23.3" text-anchor="middle" fill="#000" textLength="203.0" lengthAdjust="spacing">α-β pairing accuracy</text>
</g>
<g id="plot10" class="pl">
<rect x="1391.9" y="2100.0" width="277.4" height="277.4" fill="#eeefef"/>
<clipPath id="cp10"><rect x="1391.9" y="2100.0" width="277.4" height="277.4"/></clipPath>
<path d="M1529.5 2103.0h0M1504.0 2107.5h0M1503.7 2100.0h0M1514.3 2103.3h0M1483.2 2100.4h0M1460.7 2108.5h0M1600.8 2107.1h0M1525.9 2105.8h0M1496.7 2121.5h0M1552.9 2104.1h0M1578.6 2108.2h0M1467.3 2102.3h0M1514.3 2103.9h0M1540.6 2100.6h0M1500.0 2103.5h0M1546.7 2101.2h0M1485.8 2110.0h0M1506.4 2100.4h0M1526.0 2109.2h0M1545.9 2106.5h0M1531.8 2113.9h0M1505.8 2101.0h0M1517.1 2106.6h0M1454.0 2102.6h0M1607.5 2102.7h0M1515.6 2114.0h0M1519.7 2101.6h0M1540.0 2103.9h0M1551.0 2104.7h0M1542.8 2109.8h0M1505.9 2100.4h0M1470.5 2104.1h0M1524.1 2101.2h0M1501.5 2102.8h0M1510.4 2104.2h0M1530.3 2101.9h0M1539.0 2109.2h0M1577.0 2101.2h0M1525.0 2117.4h0M1468.0 2121.7h0M1551.5 2102.4h0M1563.8 2102.8h0M1470.9 2102.0h0M1552.2 2118.0h0M1537.1 2102.6h0M1510.7 2104.1h0M1536.5 2102.3h0M1544.3 2110.5h0M1551.7 2102.5h0M1571.7 2102.9h0M1529.8 2100.7h0M1530.1 2116.1h0M1617.5 2100.2h0M1491.7 2110.4h0M1520.4 2100.1h0M1517.5 2102.4h0M1558.0 2100.5h0M1570.3 2110.4h0M1482.6 2113.6h0M1574.8 2114.6h0M1487.3 2100.6h0M1504.2 2103.5h0M1506.1 2112.4h0M1570.2 2103.3h0M1520.6 2101.1h0M1555.9 2104.6h0M1503.3 2102.9h0M1535.1 2101.8h0M1531.1 2111.5h0M1533.7 2107.8h0M1559.0 2102.7h0M1514.4 2102.5h0M1518.6 2100.8h0M1482.8 2101.1h0M1525.3 2101.2h0M1512.6 2101.7h0M1562.3 2106.1h0M1554.6 2102.7h0M1504.2 2102.5h0M1546.3 2112.0h0M1577.8 2102.2h0M1522.8 2101.7h0M1488.0 2104.4h0M1619.2 2111.1h0M1550.4 2104.4h0M1555.8 2100.0h0M1488.4 2101.1h0M1501.5 2111.3h0M1541.4 2104.7h0M1461.9 2102.6h0M1548.2 2100.3h0M1544.7 2102.0h0M1502.1 2102.8h0M1499.6 2102.5h0M1524.0 2110.1h0M1522.0 2104.7h0M1587.5 2108.5h0M1521.5 2103.1h0M1524.6 2104.2h0M1524.0 2101.6h0M1472.6 2114.0h0M1512.8 2104.5h0M1481.5 2105.4h0M1534.9 2101.5h0M1451.1 2100.1h0M1489.7 2107.1h0M1539.5 2106.7h0M1454.5 2101.1h0M1474.0 2103.4h0M1566.2 2123.3h0M1482.2 2101.0h0M1530.0 2101.0h0M1541.4 2109.5h0M1492.0 2105.9h0M1469.3 2107.0h0M1585.5 2102.3h0M1510.2 2111.7h0M1549.0 2117.2h0M1502.9 2103.1h0M1543.5 2102.2h0M1482.9 2102.6h0M1480.6 2106.1h0M1492.5 2100.6h0M1507.6 2104.1h0M1507.6 2101.9h0M1518.4 2100.0h0M1545.9 2101.9h0M1510.9 2101.7h0M1564.0 2105.0h0M1506.3 2106.0h0M1554.2 2101.0h0M1577.6 2106.7h0M1593.1 2101.4h0M1458.5 2105.9h0M1592.6 2112.8h0M1466.5 2103.1h0M1581.5 2102.6h0M1529.8 2102.6h0M1543.0 2101.4h0M1496.2 2107.8h0M1564.1 2101.1h0M1555.1 2101.8h0M1510.3 2117.9h0M1508.1 2100.5h0M1561.3 2105.7h0M1567.6 2100.2h0M1558.1 2103.9h0M1516.6 2100.5h0M1530.5 2106.5h0M1564.2 2105.5h0M1560.6 2108.1h0M1571.1 2100.3h0M1535.5 2100.0h0M1505.0 2113.5h0M1540.8 2102.9h0M1546.7 2102.4h0M1511.2 2102.8h0M1546.6 2104.1h0M1500.1 2102.2h0M1539.7 2102.6h0M1508.6 2107.7h0M1606.8 2106.1h0M1573.4 2101.1h0M1539.8 2113.7h0M1483.0 2101.8h0M1486.0 2101.9h0M1555.6 2102.4h0M1524.9 2100.4h0M1541.5 2110.2h0M1473.5 2114.3h0M1476.1 2104.6h0M1534.5 2103.2h0M1522.9 2111.3h0M1482.3 2102.0h0M1501.5 2110.0h0M1558.7 2103.9h0M1514.7 2102.8h0M1551.1 2100.5h0M1590.0 2102.7h0M1542.5 2100.3h0M1535.0 2111.6h0M1508.9 2107.6h0M1574.3 2104.7h0M1478.3 2102.3h0M1490.7 2111.1h0M1529.7 2113.0h0M1477.2 2108.8h0M1565.7 2114.6h0M1507.8 2105.7h0M1549.5 2106.9h0M1519.2 2118.7h0M1521.3 2124.2h0M1530.9 2108.8h0M1459.5 2100.3h0M1491.1 2102.1h0M1513.3 2100.6h0M1610.5 2102.7h0M1559.7 2101.2h0M1556.5 2103.0h0M1492.9 2100.3h0M1562.5 2114.1h0M1575.3 2100.6h0M1557.5 2100.3h0M1565.6 2116.3h0M1481.7 2102.6h0M1491.5 2102.1h0M1520.8 2103.3h0M1495.2 2104.6h0M1532.2 2103.7h0M1549.1 2117.1h0M1529.9 2101.6h0M1534.0 2101.5h0M1544.9 2111.2h0M1558.3 2105.3h0M1506.5 2113.9h0M1506.2 2102.0h0M1573.3 2100.1h0M1518.0 2100.4h0M1500.3 2101.2h0M1540.5 2105.3h0M1517.6 2125.4h0M1534.6 2103.4h0M1528.0 2103.7h0M1553.1 2102.7h0M1563.2 2100.5h0M1500.3 2116.0h0M1486.4 2110.6h0M1587.8 2102.7h0M1505.5 2102.2h0M1474.3 2100.1h0M1461.8 2111.1h0M1528.9 2107.6h0M1507.0 2105.4h0M1464.2 2100.4h0M1496.0 2103.1h0M1492.0 2101.7h0M1566.1 2104.9h0M1538.6 2101.0h0M1529.7 2105.2h0M1484.3 2103.3h0M1523.6 2106.2h0M1554.0 2102.3h0M1535.8 2103.2h0M1568.2 2100.8h0M1532.9 2100.3h0M1555.0 2104.8h0M1546.5 2107.0h0M1509.6 2107.0h0M1578.3 2102.1h0M1543.1 2100.0h0M1559.8 2114.3h0M1491.7 2102.3h0M1490.9 2101.6h0M1523.6 2101.7h0M1501.0 2103.6h0M1552.4 2110.7h0M1544.8 2104.6h0M1574.2 2117.6h0M1551.3 2103.5h0M1489.3 2104.8h0M1564.2 2101.4h0M1506.6 2112.3h0M1503.6 2102.3h0M1532.3 2113.8h0M1529.7 2107.3h0M1567.4 2116.0h0M1489.0 2102.4h0M1545.3 2115.5h0M1582.5 2104.3h0M1522.4 2103.3h0M1542.2 2100.2h0M1511.4 2116.4h0M1514.8 2109.7h0M1578.4 2108.4h0M1546.4 2107.9h0M1546.1 2102.7h0M1501.2 2103.5h0M1591.6 2101.1h0M1523.6 2103.1h0M1506.6 2112.8h0M1529.3 2102.5h0M1554.3 2103.0h0M1557.0 2100.4h0M1583.0 2103.9h0M1491.9 2103.0h0M1514.6 2103.2h0M1586.2 2103.4h0M1611.9 2108.3h0M1507.4 2101.1h0M1526.6 2106.3h0M1474.4 2101.6h0M1500.4 2108.2h0M1498.3 2109.9h0M1526.4 2110.3h0M1487.2 2108.3h0M1563.6 2106.1h0M1528.0 2107.8h0M1521.0 2100.3h0M1563.3 2105.2h0M1520.5 2111.2h0M1485.5 2105.4h0M1531.1 2106.8h0M1608.2 2108.2h0M1533.7 2105.3h0M1549.0 2115.0h0M1523.1 2102.9h0M1522.2 2120.0h0M1548.3 2101.7h0M1467.6 2104.2h0M1485.5 2124.0h0M1508.7 2101.8h0M1520.5 2105.4h0M1582.4 2100.8h0M1618.4 2101.3h0M1552.8 2102.5h0M1544.5 2106.0h0M1554.7 2104.8h0M1584.4 2104.4h0M1494.8 2104.0h0M1512.4 2102.6h0M1535.7 2101.4h0M1540.9 2100.1h0M1461.8 2108.0h0M1545.6 2103.8h0M1473.0 2101.9h0M1557.7 2105.9h0M1560.6 2110.1h0M1448.8 2106.7h0M1548.2 2112.6h0M1537.2 2108.8h0M1507.9 2105.5h0M1564.3 2100.7h0M1602.1 2104.7h0M1548.0 2101.8h0M1490.8 2103.9h0M1478.2 2102.4h0M1488.0 2100.9h0M1493.5 2115.4h0M1570.5 2102.9h0M1540.4 2100.9h0M1529.1 2103.0h0M1561.5 2103.6h0M1530.7 2103.3h0M1531.3 2102.2h0M1499.8 2112.9h0M1507.7 2110.5h0M1531.2 2100.3h0M1488.0 2109.8h0M1589.8 2108.0h0M1534.5 2100.6h0M1510.3 2103.7h0M1565.1 2103.4h0M1492.0 2107.8h0M1568.1 2103.7h0M1533.1 2102.8h0M1597.7 2111.1h0M1510.3 2101.5h0M1515.8 2100.6h0M1499.7 2102.9h0M1485.2 2101.4h0M1539.0 2102.4h0M1492.0 2100.2h0M1541.5 2107.8h0M1507.0 2104.3h0M1567.9 2100.6h0M1502.9 2104.1h0M1545.0 2102.1h0M1531.7 2107.8h0M1530.0 2100.6h0M1507.2 2100.4h0M1592.8 2104.4h0M1515.2 2100.8h0M1545.3 2102.7h0M1520.5 2101.8h0M1517.0 2106.2h0M1533.1 2100.2h0M1554.2 2102.0h0M1489.8 2101.2h0M1513.0 2101.5h0M1479.3 2103.2h0M1544.2 2102.7h0M1499.2 2104.0h0M1503.1 2100.1h0M1553.3 2106.8h0M1529.5 2100.6h0M1544.4 2100.1h0M1524.8 2103.3h0M1544.6 2105.5h0M1533.0 2100.1h0M1489.8 2116.4h0M1537.5 2100.9h0M1517.5 2108.0h0M1521.2 2101.0h0M1539.9 2114.4h0M1510.1 2116.3h0M1491.8 2104.7h0M1572.4 2100.6h0M1596.0 2102.1h0M1517.5 2109.3h0M1571.1 2105.1h0M1543.7 2104.0h0M1506.8 2101.9h0M1499.8 2104.0h0M1519.8 2103.7h0M1514.4 2102.3h0M1517.9 2100.7h0M1525.4 2109.8h0M1489.2 2100.9h0M1560.9 2106.2h0M1489.2 2107.9h0M1491.4 2103.6h0M1563.1 2116.5h0M1557.2 2101.1h0M1582.2 2107.2h0M1534.8 2112.5h0M1506.7 2101.4h0M1571.1 2101.6h0M1526.4 2116.5h0M1525.4 2106.0h0M1499.4 2100.4h0M1544.4 2112.7h0M1575.5 2103.2h0M1548.8 2103.2h0M1457.9 2111.1h0M1561.3 2100.7h0M1473.8 2103.9h0M1554.3 2107.2h0M1618.8 2108.8h0M1519.9 2101.1h0M1487.9 2105.5h0M1599.8 2104.1h0M1514.0 2101.2h0M1489.8 2101.2h0M1575.1 2101.8h0M1530.9 2100.8h0M1476.4 2101.1h0M1482.5 2102.2h0M1504.8 2107.9h0M1456.9 2102.7h0M1559.5 2105.6h0M1566.7 2113.3h0M1527.8 2100.2h0M1514.9 2107.8h0M1473.5 2101.3h0M1546.7 2103.7h0M1504.6 2100.3h0M1552.0 2104.3h0M1566.6 2100.9h0M1531.5 2110.1h0M1453.7 2104.8h0M1496.1 2122.3h0M1579.1 2102.9h0M1539.8 2102.3h0M1581.1 2103.2h0M1449.3 2106.6h0M1525.8 2101.0h0M1523.5 2100.5h0M1471.3 2109.6h0M1506.7 2102.6h0M1565.2 2102.8h0M1549.4 2103.4h0M1510.6 2109.6h0M1541.7 2101.1h0M1572.9 2103.7h0M1491.0 2103.2h0M1540.5 2107.4h0M1567.6 2100.1h0M1505.1 2107.0h0M1576.9 2103.7h0M1526.7 2100.1h0M1570.0 2102.6h0M1563.3 2113.9h0M1539.5 2102.5h0M1519.5 2101.1h0M1506.3 2100.4h0M1536.1 2101.9h0M1537.6 2116.2h0M1580.7 2102.7h0M1526.9 2101.7h0M1542.8 2106.5h0M1590.8 2101.2h0M1541.7 2106.0h0M1546.5 2101.4h0M1588.1 2100.9h0M1533.4 2101.2h0M1544.5 2111.1h0M1557.3 2101.6h0M1525.8 2105.3h0M1489.9 2109.5h0M1477.3 2104.1h0M1522.8 2106.6h0M1570.6 2105.4h0M1566.0 2103.7h0M1588.8 2100.8h0M1562.7 2110.2h0M1506.7 2103.4h0M1477.6 2100.8h0M1511.4 2106.5h0M1520.5 2117.0h0M1503.3 2100.6h0M1563.3 2100.8h0M1501.5 2102.5h0M1551.0 2104.9h0M1558.2 2119.6h0M1467.3 2101.0h0M1514.8 2105.9h0M1575.3 2101.9h0M1560.5 2100.4h0M1534.4 2107.6h0M1490.1 2111.8h0M1504.7 2103.8h0M1533.2 2101.9h0M1575.5 2100.6h0M1547.8 2101.8h0M1526.9 2101.4h0M1538.4 2100.4h0M1558.1 2105.7h0M1466.8 2100.9h0M1494.3 2107.1h0M1531.1 2100.7h0M1573.6 2100.9h0M1568.9 2113.5h0M1501.9 2105.2h0M1530.9 2102.5h0M1503.3 2103.2h0M1515.9 2111.6h0M1535.2 2100.3h0M1516.9 2100.4h0M1509.9 2109.0h0M1488.0 2101.6h0M1472.8 2104.4h0M1523.0 2104.5h0M1536.9 2105.5h0M1552.2 2112.3h0M1500.5 2110.3h0M1503.9 2114.2h0M1575.4 2104.4h0M1544.9 2112.7h0M1561.8 2125.8h0M1509.4 2103.0h0M1405.8 2103.9h0M1432.1 2104.2h0M1443.2 2103.1h0M1446.0 2111.7h0M1452.9 2117.2h0M1633.2 2115.0h0M1627.7 2116.6h0M1623.5 2106.7h0M1611.0 2108.9h0M1604.1 2113.3h0M1509.8 2255.3h0M1520.9 2171.6h0M1520.9 2155.5h0M1497.3 2146.6h0M1557.0 2151.0h0M1565.3 2162.1h0M1515.3 2136.6h0M1500.1 2132.2h0" stroke="#000" stroke-width="8.7" stroke-linecap="round" fill="none" clip-path="url(#cp10)"/>
<rect x="1391.9" y="2100.0" width="277.4" height="277.4" fill="none" stroke="#111" stroke-width="1.65"/>
<path d="M1391.9 2377.4v11M1461.2 2377.4v11M1530.6 2377.4v11M1600.0 2377.4v11M1669.3 2377.4v11M1391.9 2100.0h-11.2M1391.9 2155.5h-11.2M1391.9 2211.0h-11.2M1391.9 2266.4h-11.2M1391.9 2321.9h-11.2M1391.9 2377.4h-11.2" stroke="#111" stroke-width="1.65" fill="none"/>
<text x="1391.9" y="2410.4" font-size="20.5" fill="#000" text-anchor="middle">25</text>
<text x="1461.2" y="2410.4" font-size="20.5" fill="#000" text-anchor="middle">30</text>
<text x="1530.6" y="2410.4" font-size="20.5" fill="#000" text-anchor="middle">35</text>
<text x="1600.0" y="2410.4" font-size="20.5" fill="#000" text-anchor="middle">40</text>
<text x="1669.3" y="2410.4" font-size="20.5" fill="#000" text-anchor="middle">45</text>
<text x="1377.7" y="2107.2" font-size="20.5" fill="#000" text-anchor="end">100</text>
<text x="1377.7" y="2162.7" font-size="20.5" fill="#000" text-anchor="end">80</text>
<text x="1377.7" y="2218.2" font-size="20.5" fill="#000" text-anchor="end">60</text>
<text x="1377.7" y="2273.6" font-size="20.5" fill="#000" text-anchor="end">40</text>
<text x="1377.7" y="2329.1" font-size="20.5" fill="#000" text-anchor="end">20</text>
<text x="1377.7" y="2384.6" font-size="20.5" fill="#000" text-anchor="end">0</text>
<text x="1531.1" y="2444.0" font-size="23.3" text-anchor="middle" fill="#000" textLength="302.0" lengthAdjust="spacing">CDR3Jα oligo GC content (%)</text>
<text transform="translate(1326.7 2238.7) rotate(-90)" font-size="23.3" text-anchor="middle" fill="#000" textLength="203.0" lengthAdjust="spacing">α-β pairing accuracy</text>
</g>
<g id="plot11" class="pl">
<rect x="1805.2" y="2100.0" width="277.4" height="277.4" fill="#eeefef"/>
<clipPath id="cp11"><rect x="1805.2" y="2100.0" width="277.4" height="277.4"/></clipPath>
<path d="M1933.6 2102.0h0M1936.4 2116.2h0M1952.6 2101.8h0M2019.4 2101.9h0M2006.6 2109.1h0M1937.0 2102.9h0M1953.9 2101.2h0M1980.5 2103.5h0M1967.8 2112.7h0M1989.4 2114.7h0M1953.1 2101.4h0M1922.4 2103.9h0M1982.3 2101.3h0M1999.0 2104.5h0M1925.6 2101.9h0M1916.6 2101.6h0M1954.1 2102.8h0M1916.8 2101.4h0M1977.4 2105.2h0M1935.5 2101.0h0M1985.6 2100.9h0M1957.0 2101.5h0M1969.6 2102.3h0M1983.5 2100.9h0M1960.7 2102.8h0M1939.4 2101.0h0M1990.2 2103.3h0M1927.3 2114.1h0M2003.2 2112.3h0M1950.0 2107.0h0M1952.2 2104.6h0M1976.5 2104.9h0M1977.1 2103.1h0M1979.4 2100.3h0M1927.4 2103.4h0M1942.9 2105.6h0M1975.1 2103.2h0M1975.9 2122.5h0M1963.7 2100.6h0M2000.2 2100.5h0M1961.5 2105.4h0M1990.9 2114.9h0M1994.7 2101.2h0M1975.3 2103.6h0M1961.0 2103.9h0M1985.6 2101.6h0M1977.9 2103.6h0M1982.5 2115.8h0M1943.4 2104.5h0M1978.5 2102.9h0M2008.1 2101.2h0M1958.7 2105.4h0M1969.8 2102.3h0M1959.9 2102.0h0M1989.4 2106.0h0M1912.0 2103.1h0M2008.2 2103.4h0M1979.7 2112.2h0M1960.3 2104.0h0M1973.5 2102.7h0M1995.9 2106.5h0M1976.0 2100.5h0M1983.9 2102.1h0M1997.9 2104.3h0M1970.8 2119.0h0M1985.8 2105.4h0M2005.1 2101.0h0M1981.1 2116.8h0M1950.1 2104.2h0M1986.7 2112.2h0M2019.9 2101.2h0M1958.1 2107.6h0M1978.3 2102.3h0M1977.7 2104.4h0M1989.6 2100.3h0M1955.7 2106.1h0M1965.9 2101.7h0M2017.7 2100.6h0M1984.6 2105.5h0M1950.3 2102.0h0M1987.2 2117.8h0M1968.2 2103.4h0M2006.8 2101.8h0M1924.3 2100.9h0M1969.1 2110.8h0M1992.2 2112.5h0M1933.3 2105.5h0M1947.0 2105.4h0M1979.0 2101.6h0M1967.5 2103.9h0M1958.6 2105.2h0M1974.6 2111.8h0M1930.2 2100.7h0M1944.6 2105.6h0M2011.8 2106.0h0M1949.7 2103.4h0M1978.0 2101.7h0M1965.2 2101.8h0M1989.0 2104.9h0M1975.2 2103.1h0M1977.1 2101.6h0M1997.0 2108.0h0M1975.0 2100.2h0M1922.1 2119.0h0M1949.3 2101.1h0M2003.8 2119.5h0M1994.3 2107.2h0M1960.5 2104.3h0M1925.1 2105.3h0M1948.0 2116.0h0M2020.9 2101.0h0M1997.9 2106.6h0M1998.5 2101.7h0M1924.5 2122.6h0M1931.2 2105.1h0M1951.2 2104.2h0M1931.2 2113.4h0M1969.5 2100.7h0M1938.1 2102.3h0M1978.9 2101.2h0M1960.7 2101.8h0M1951.9 2102.2h0M1983.5 2103.8h0M1978.2 2101.0h0M1969.9 2103.3h0M1957.0 2103.8h0M1965.2 2111.3h0M1916.3 2100.9h0M1915.5 2100.3h0M1948.9 2100.8h0M1970.1 2102.6h0M2012.4 2115.3h0M1976.8 2112.8h0M1940.8 2105.5h0M1953.8 2100.1h0M1933.6 2111.3h0M1965.3 2100.9h0M1964.1 2106.9h0M1965.5 2104.5h0M1973.5 2104.7h0M1993.5 2107.3h0M1984.2 2100.9h0M1936.4 2116.2h0M1988.4 2100.5h0M1940.1 2101.2h0M1976.4 2109.0h0M1968.9 2103.6h0M2010.2 2124.3h0M1963.8 2100.0h0M1964.0 2106.4h0M1959.3 2104.3h0M1988.8 2103.3h0M1974.6 2110.1h0M1959.6 2113.7h0M1988.2 2114.3h0M2021.2 2100.5h0M2008.8 2103.2h0M2005.5 2102.5h0M1952.7 2101.9h0M1964.2 2111.1h0M1970.8 2103.5h0M1922.4 2102.8h0M2011.3 2104.2h0M1929.3 2105.5h0M1977.0 2101.3h0M1934.6 2104.2h0M1969.9 2112.2h0M1988.1 2103.5h0M1980.2 2102.3h0M1944.4 2119.7h0M1949.8 2103.3h0M1990.8 2100.2h0M1965.0 2109.0h0M1969.7 2103.3h0M1991.0 2109.2h0M1952.9 2104.8h0M1973.3 2103.3h0M1999.5 2102.1h0M2013.0 2108.7h0M1984.5 2106.6h0M1947.7 2105.6h0M1991.8 2100.6h0M2015.3 2100.0h0M1950.2 2101.3h0M1948.1 2110.5h0M1962.9 2108.0h0M1956.1 2100.3h0M1913.9 2100.5h0M1905.5 2103.6h0M1932.8 2101.5h0M1950.4 2105.3h0M1978.0 2101.8h0M1953.1 2104.9h0M1971.3 2101.7h0M2002.2 2113.2h0M1984.3 2105.6h0M1989.4 2100.1h0M1941.4 2101.0h0M1992.5 2113.7h0M1966.7 2110.6h0M1975.6 2103.0h0M1991.7 2102.5h0M1986.8 2103.0h0M1932.7 2106.6h0M1937.2 2104.5h0M1973.6 2117.2h0M1984.9 2102.0h0M2021.2 2107.0h0M1982.2 2104.2h0M1957.2 2115.2h0M1954.1 2112.7h0M1948.2 2103.7h0M1933.1 2101.3h0M1932.9 2101.1h0M1952.3 2101.4h0M1969.1 2101.0h0M1946.7 2109.4h0M1966.9 2103.3h0M1959.3 2119.0h0M1960.7 2101.3h0M1955.3 2103.7h0M1974.0 2104.9h0M1967.0 2103.3h0M2015.6 2102.3h0M1973.4 2115.9h0M1969.3 2103.9h0M1950.8 2100.2h0M1970.9 2105.8h0M1948.6 2108.1h0M1969.7 2101.5h0M1943.9 2102.5h0M1984.1 2101.8h0M1975.5 2114.2h0M1929.0 2100.4h0M1948.4 2100.8h0M1984.6 2104.4h0M1977.0 2100.4h0M1970.1 2102.5h0M1937.2 2110.6h0M1948.9 2102.9h0M1970.7 2104.0h0M1974.1 2101.2h0M1966.1 2108.7h0M1945.0 2115.8h0M1960.5 2112.2h0M1953.7 2102.2h0M1936.4 2102.2h0M1938.0 2102.9h0M1945.5 2113.2h0M1927.6 2104.9h0M1978.5 2104.4h0M1986.2 2111.7h0M1989.2 2105.6h0M1946.3 2102.0h0M1946.9 2100.1h0M1972.8 2103.4h0M1954.3 2104.0h0M1958.3 2100.2h0M1958.2 2109.4h0M1924.8 2100.2h0M1999.0 2104.5h0M1929.3 2104.0h0M1925.7 2106.9h0M1987.0 2103.0h0M1938.0 2101.8h0M1993.8 2103.6h0M1975.0 2100.0h0M1975.4 2104.1h0M1956.4 2108.2h0M1929.8 2101.5h0M1935.6 2102.8h0M1968.8 2105.5h0M1963.4 2109.0h0M1935.1 2101.5h0M1936.8 2104.4h0M1943.8 2101.7h0M1964.5 2112.3h0M1977.4 2100.8h0M1989.3 2102.5h0M1956.6 2102.8h0M2003.0 2101.6h0M1984.6 2104.7h0M2004.1 2104.2h0M1943.6 2102.1h0M1981.0 2101.4h0M1994.0 2107.2h0M1920.7 2102.8h0M1989.8 2102.7h0M1976.7 2101.7h0M1989.7 2117.9h0M1970.5 2104.9h0M1995.5 2108.2h0M1955.3 2101.1h0M1952.8 2104.5h0M1984.5 2107.9h0M1984.7 2102.1h0M1931.7 2107.9h0M1996.9 2102.3h0M1996.2 2100.0h0M1992.5 2100.1h0M1947.5 2101.1h0M1998.4 2102.4h0M1979.4 2101.6h0M1989.9 2100.7h0M1964.8 2108.1h0M1955.1 2104.0h0M1948.1 2102.1h0M1950.5 2111.3h0M1989.1 2103.7h0M1946.4 2100.3h0M1950.4 2102.1h0M1974.5 2107.2h0M1959.4 2101.8h0M1913.7 2111.1h0M1949.4 2100.7h0M1956.9 2102.1h0M2007.3 2103.0h0M1983.1 2105.1h0M1940.6 2112.9h0M1938.0 2108.1h0M1954.5 2113.3h0M1971.9 2100.2h0M1946.2 2102.0h0M1977.2 2102.8h0M1930.2 2114.1h0M1974.5 2112.1h0M1996.5 2101.1h0M1981.4 2114.4h0M1965.4 2109.5h0M1972.6 2110.8h0M1977.6 2106.7h0M1968.7 2103.0h0M1964.4 2100.6h0M1973.3 2104.0h0M1968.9 2117.2h0M1968.4 2105.2h0M2006.3 2116.8h0M1992.3 2103.9h0M1989.7 2105.0h0M1950.0 2104.0h0M1953.7 2101.2h0M1993.1 2109.3h0M1939.4 2107.5h0M1992.1 2100.5h0M1931.8 2100.5h0M2020.3 2100.7h0M1997.7 2100.6h0M1952.1 2102.0h0M1954.3 2103.4h0M1914.1 2101.9h0M1964.8 2104.5h0M1996.4 2102.3h0M1981.6 2102.0h0M1959.5 2100.4h0M2018.3 2110.7h0M1980.2 2114.7h0M1976.6 2100.0h0M1958.5 2114.0h0M1980.9 2100.7h0M2032.9 2103.9h0M1977.6 2102.4h0M1923.6 2101.1h0M1971.7 2103.2h0M2014.9 2102.1h0M1996.4 2110.2h0M1953.0 2107.1h0M1975.0 2105.3h0M1928.5 2100.8h0M1982.4 2100.7h0M1943.7 2104.3h0M1952.6 2100.8h0M1951.6 2100.7h0M1947.9 2106.1h0M2009.3 2102.2h0M2003.7 2104.2h0M1958.8 2106.9h0M1968.5 2100.9h0M2009.0 2120.1h0M1958.8 2101.3h0M1954.7 2100.2h0M1944.5 2102.2h0M2005.8 2108.3h0M1970.3 2104.0h0M1966.3 2103.5h0M1955.3 2100.1h0M1942.9 2104.9h0M1990.4 2103.5h0M1946.3 2101.4h0M1952.8 2100.4h0M1923.2 2100.1h0M1938.0 2108.6h0M1952.9 2102.5h0M1953.5 2100.0h0M1927.4 2100.7h0M1950.3 2103.8h0M1962.4 2109.5h0M1979.6 2100.2h0M1980.8 2103.5h0M1958.9 2117.2h0M1931.6 2100.4h0M1958.9 2101.7h0M1977.1 2118.5h0M1965.7 2113.2h0M1966.9 2106.9h0M1966.1 2103.6h0M1982.4 2102.4h0M1931.1 2100.6h0M1950.8 2102.4h0M1975.5 2102.8h0M1966.5 2102.7h0M1938.7 2100.8h0M1958.5 2107.7h0M1947.9 2109.8h0M1966.3 2121.8h0M1923.5 2109.1h0M1924.3 2105.4h0M1928.9 2104.1h0M1962.3 2103.4h0M2028.7 2103.6h0M1990.7 2101.3h0M1996.8 2101.0h0M1965.9 2100.3h0M2006.2 2106.1h0M1974.7 2107.0h0M1967.3 2101.3h0M1993.3 2108.3h0M1934.6 2101.0h0M1909.8 2101.4h0M1935.2 2106.4h0M2001.5 2113.7h0M1988.5 2103.8h0M1970.4 2102.8h0M1959.5 2106.6h0M1961.2 2101.0h0M1975.5 2104.8h0M1943.6 2101.5h0M1985.3 2105.1h0M1940.8 2114.3h0M1999.9 2108.8h0M1957.0 2101.2h0M1942.0 2101.2h0M1958.2 2100.8h0M1941.9 2104.5h0M1962.1 2100.2h0M1919.4 2102.1h0M1952.9 2104.5h0M1967.4 2110.2h0M1975.3 2119.2h0M1955.5 2100.9h0M1996.4 2100.5h0M1922.3 2101.4h0M1959.9 2103.0h0M1953.1 2105.7h0M1965.2 2100.5h0M1958.7 2104.5h0M2000.8 2100.5h0M1965.3 2100.6h0M1941.7 2100.5h0M2029.1 2102.1h0M1966.4 2102.6h0M1961.3 2106.4h0M1988.1 2102.4h0M1950.1 2104.8h0M1959.6 2104.6h0M1987.5 2102.0h0M1935.1 2100.4h0M1953.8 2109.9h0M1989.5 2101.3h0M2011.4 2104.4h0M1963.4 2100.3h0M1962.7 2106.3h0M1993.3 2101.0h0M1927.6 2109.4h0M1947.6 2102.0h0M1945.1 2101.3h0M1912.7 2100.3h0M1972.7 2117.0h0M1955.0 2106.8h0M1988.7 2110.9h0M1982.5 2102.4h0M1997.8 2101.6h0M1954.3 2121.4h0M1961.6 2100.9h0M1999.6 2100.7h0M1943.1 2102.4h0M1932.0 2123.6h0M1974.3 2104.3h0M1965.7 2100.3h0M1981.7 2110.4h0M1965.2 2104.1h0M1997.3 2102.3h0M1983.2 2102.7h0M1972.0 2105.3h0M1955.8 2118.2h0M1983.6 2100.2h0M1948.4 2104.0h0M1990.1 2105.2h0M1995.0 2103.3h0M1989.8 2101.9h0M1932.7 2102.4h0M1976.8 2103.6h0M1975.0 2101.8h0M1987.9 2101.7h0M1925.5 2101.2h0M1950.1 2107.4h0M1963.5 2102.3h0M2001.4 2101.9h0M1950.2 2100.6h0M1988.5 2100.1h0M1969.3 2108.7h0M2015.3 2101.9h0M1974.0 2103.7h0M1924.1 2101.2h0M1958.4 2108.5h0M1972.2 2103.2h0M1998.2 2100.2h0M1982.7 2102.9h0M1958.4 2108.4h0M1933.0 2100.9h0M1966.5 2110.4h0M1962.5 2103.3h0M1999.9 2102.7h0M1989.6 2104.7h0M1929.5 2101.1h0M1905.9 2101.4h0M1955.0 2100.8h0M1972.6 2100.5h0M1940.6 2100.7h0M1952.3 2102.3h0M1996.3 2100.3h0M1984.7 2103.7h0M1921.2 2106.4h0M1974.6 2100.7h0M1969.8 2102.4h0M1960.5 2107.2h0M1980.3 2105.7h0M1980.8 2105.0h0M2029.9 2100.6h0M1971.6 2100.2h0M1946.9 2106.9h0M1885.6 2102.8h0M1894.7 2105.5h0M1900.9 2104.4h0M1910.6 2107.8h0M1917.5 2110.5h0M2049.3 2124.4h0M2038.2 2124.4h0M2039.6 2108.9h0M2035.4 2171.6h0M1988.3 2255.3h0M1988.3 2162.1h0M1956.4 2155.5h0M1923.8 2151.0h0M1978.6 2146.6h0M1960.5 2136.6h0M1946.7 2132.2h0" stroke="#000" stroke-width="8.7" stroke-linecap="round" fill="none" clip-path="url(#cp11)"/>
<rect x="1805.2" y="2100.0" width="277.4" height="277.4" fill="none" stroke="#111" stroke-width="1.65"/>
<path d="M1805.2 2377.4v11M1874.5 2377.4v11M1943.9 2377.4v11M2013.2 2377.4v11M2082.6 2377.4v11M1805.2 2100.0h-11.2M1805.2 2155.5h-11.2M1805.2 2211.0h-11.2M1805.2 2266.4h-11.2M1805.2 2321.9h-11.2M1805.2 2377.4h-11.2" stroke="#111" stroke-width="1.65" fill="none"/>
<text x="1805.2" y="2410.4" font-size="20.5" fill="#000" text-anchor="middle">25</text>
<text x="1874.5" y="2410.4" font-size="20.5" fill="#000" text-anchor="middle">30</text>
<text x="1943.9" y="2410.4" font-size="20.5" fill="#000" text-anchor="middle">35</text>
<text x="2013.2" y="2410.4" font-size="20.5" fill="#000" text-anchor="middle">40</text>
<text x="2082.6" y="2410.4" font-size="20.5" fill="#000" text-anchor="middle">45</text>
<text x="1791.0" y="2107.2" font-size="20.5" fill="#000" text-anchor="end">100</text>
<text x="1791.0" y="2162.7" font-size="20.5" fill="#000" text-anchor="end">80</text>
<text x="1791.0" y="2218.2" font-size="20.5" fill="#000" text-anchor="end">60</text>
<text x="1791.0" y="2273.6" font-size="20.5" fill="#000" text-anchor="end">40</text>
<text x="1791.0" y="2329.1" font-size="20.5" fill="#000" text-anchor="end">20</text>
<text x="1791.0" y="2384.6" font-size="20.5" fill="#000" text-anchor="end">0</text>
<text x="1944.4" y="2444.0" font-size="23.3" text-anchor="middle" fill="#000" textLength="300.0" lengthAdjust="spacing">CDR3Jβ oligo GC content (%)</text>
<text transform="translate(1740.0 2238.7) rotate(-90)" font-size="23.3" text-anchor="middle" fill="#000" textLength="203.0" lengthAdjust="spacing">α-β pairing accuracy</text>
</g>
</g>
</svg>
</body></html>
